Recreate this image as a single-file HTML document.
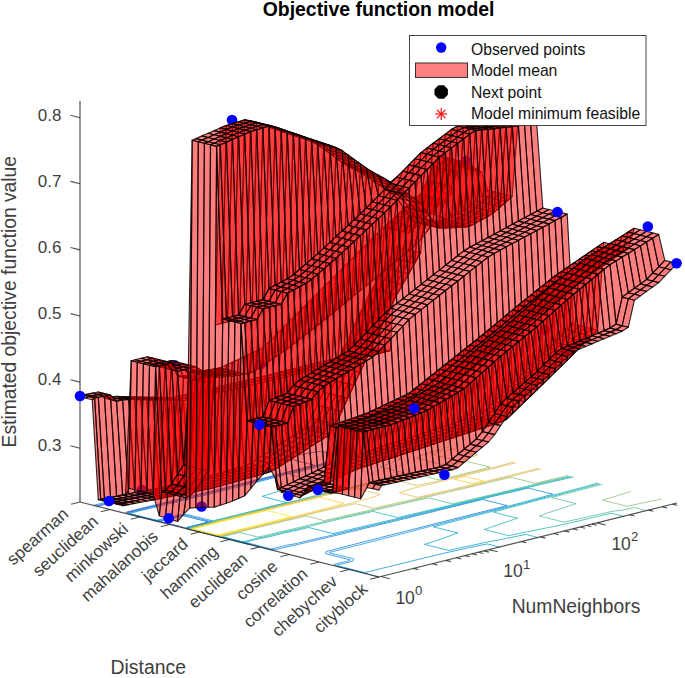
<!DOCTYPE html>
<html><head><meta charset="utf-8"><style>
html,body{margin:0;padding:0;background:#fff;}
svg{display:block;font-family:"Liberation Sans", sans-serif;}
</style></head><body>
<svg width="685" height="678" viewBox="0 0 685 678">
<rect width="685" height="678" fill="#fff"/>
<text x="378.6" y="15.6" text-anchor="middle" font-size="19.4" font-weight="bold" fill="#000">Objective function model</text>
<g id="contours" fill="none" stroke-width="0.9" stroke-opacity="0.85"><path d="M127.1,513.8L125.7,512.3L129.4,511.4L135.5,509.8L141.6,508.3L147.7,506.8L153.8,505.3L159.9,503.8L166.0,502.3L172.2,500.8L178.3,499.3L184.4,497.8L190.5,496.3L196.6,494.8L202.7,493.3L208.8,491.8L214.9,490.3L220.9,488.8L227.0,487.3L233.1,485.7L239.1,484.2L245.2,482.7L251.2,481.2L257.3,479.7L263.4,478.2L269.4,476.7L275.4,475.1L281.4,473.6L287.4,472.1L293.3,470.5L299.3,469.0L305.3,467.4L311.3,465.9L314.3,465.1L308.2,463.6L302.1,462.1L296.0,460.6L289.9,459.0L286.7,459.7L280.4,461.2L274.1,462.7L267.8,464.1L261.6,465.6L255.3,467.1L249.1,468.5L242.9,470.0L236.8,471.5L230.8,473.0L224.7,474.5L218.6,476.0L212.5,477.6L206.4,479.1L200.3,480.6L194.2,482.1L188.1,483.6L182.1,485.1L176.0,486.6L170.0,488.1L164.0,489.7L157.9,491.2L151.9,492.7L145.8,494.2L139.8,495.7L133.7,497.3L127.7,498.8L121.6,500.3L115.6,501.8L109.6,503.3L103.5,504.9L99.8,505.8L97.4,506.4" stroke="#353dac"/>
<path d="M189.3,529.4L184.8,527.8L179.2,526.1L173.0,524.6L166.9,523.1L160.8,521.5L154.8,520.8" stroke="#353dac"/>
<path d="M249.0,544.4L245.0,543.3L238.8,541.8L232.7,540.2L226.7,538.7L220.6,537.1L214.4,535.6L208.3,534.1L202.2,532.6L196.1,531.0L190.0,529.5L186.5,527.5L190.2,526.6L196.2,525.1L202.2,523.5L208.1,522.0L208.2,521.9L202.1,520.4L196.0,518.9L189.9,517.3L183.8,515.8L183.5,515.8L177.0,517.2L170.5,518.6L164.2,520.1L160.5,521.0L153.7,520.2L147.6,518.7L141.5,517.2L135.4,515.6L129.3,514.1L127.1,512.6L130.8,511.7L136.9,510.2L142.9,508.7L149.2,507.2L155.3,505.7L161.4,504.2L167.5,502.7L173.8,501.3L180.0,499.8L186.1,498.3L192.2,496.8L198.3,495.3L204.4,493.7L210.5,492.2L216.5,490.7L222.6,489.2L228.6,487.7L234.7,486.2L240.7,484.6L246.8,483.1L252.8,481.6L258.9,480.1L264.9,478.6L270.9,477.0L276.8,475.5L282.8,473.9L288.7,472.4L294.7,470.9L300.7,469.3L306.6,467.8L312.6,466.2L318.6,464.7L324.5,463.2L330.5,461.6L336.3,460.0L341.9,458.4L345.3,457.4L339.2,455.9L333.1,454.4L327.0,452.8L320.9,451.3L316.0,451.9L308.7,453.1L302.0,454.5L295.8,455.9L289.6,457.4L283.4,458.9L277.2,460.4L271.0,461.9L264.9,463.4L258.7,464.9L252.6,466.4L246.4,467.9L240.3,469.4L234.2,470.9L228.1,472.4L222.1,473.9L216.0,475.4L209.9,476.9L203.8,478.4L197.7,479.9L191.6,481.4L185.6,482.9L179.6,484.5L173.6,486.0L167.6,487.5L161.6,489.1L155.6,490.6L149.6,492.1L143.6,493.7L137.6,495.2L131.5,496.7L125.5,498.2L119.4,499.8L113.6,501.3L107.6,502.8L101.5,504.4L97.8,505.3L95.4,505.9" stroke="#0364e1"/>
<path d="M152.7,483.9L158.8,485.5L164.9,487.0L159.2,488.5L153.2,490.0L147.3,491.6L141.3,493.1L135.3,494.6L129.3,496.2L123.3,497.7L117.3,499.2L111.6,500.8L105.5,502.3L99.5,503.8L95.8,504.8L93.4,505.3" stroke="#117bd9"/>
<path d="M379.0,577.0L372.9,575.5L367.2,573.8L361.2,572.3L355.1,570.8L349.0,569.2L342.9,567.7L336.8,566.2L333.9,564.5L337.6,563.6L343.7,562.1L349.8,560.6L350.1,559.8L344.0,558.3L337.9,556.7L331.8,555.2L325.7,553.7L326.1,551.6L332.1,550.0L338.0,548.5L344.0,547.0L349.9,545.4L355.9,543.9L361.9,542.4L367.9,540.8L373.9,539.3L379.9,537.8L385.9,536.2L392.0,534.7L398.0,533.2L404.0,531.7L410.0,530.1L416.0,528.6L422.0,527.1L428.0,525.5L434.0,524.0L440.1,522.5L446.1,521.0L452.1,519.4L458.2,517.9L464.2,516.4L470.2,514.9L476.3,513.4L482.3,511.8L488.4,510.3L494.4,508.8L500.5,507.3L506.5,505.8L507.1,505.6L501.0,504.1L494.9,502.5L488.8,501.0L482.7,499.5L482.0,499.6L475.9,501.1L469.8,502.6L463.7,504.1L457.6,505.6L451.5,507.1L445.4,508.6L439.2,510.1L433.1,511.7L427.0,513.2L420.9,514.7L414.8,516.2L408.7,517.7L402.5,519.2L396.4,520.7L390.3,522.2L384.1,523.6L378.0,525.1L371.9,526.6L365.7,528.1L359.6,529.6L353.5,531.1L347.3,532.6L341.2,534.1L335.1,535.6L328.9,537.1L322.7,538.6L316.4,540.0L310.2,541.5L304.0,543.0L297.8,544.5L291.1,545.9L285.0,547.3L278.8,548.8L275.1,549.7L269.5,549.4L263.7,547.8L257.9,546.2L252.0,544.6L246.0,543.0L239.2,541.6L233.2,540.1L227.1,538.6L221.1,537.0L214.6,535.6L208.5,534.0L202.4,532.5L196.4,531.0L190.3,529.4L187.1,527.7L190.8,526.8L196.8,525.2L202.7,523.7L208.7,522.1L210.4,521.4L204.3,519.9L198.2,518.3L192.1,516.8L186.0,515.3L181.3,515.3L175.1,516.8L168.8,518.2L162.6,519.7L158.9,520.6L154.4,520.1L148.3,518.6L142.2,517.0L136.1,515.5L130.0,514.0L128.4,513.0L132.1,512.0L138.2,510.5L144.3,509.0L150.6,507.6L156.7,506.1L162.8,504.6L168.9,503.1L175.5,501.7L181.6,500.2L187.8,498.7L193.9,497.2L200.1,495.7L206.1,494.2L212.2,492.6L218.2,491.1L224.2,489.6L230.3,488.1L236.3,486.6L242.3,485.0L248.4,483.5L254.4,482.0L260.4,480.5L266.4,478.9L272.3,477.4L278.3,475.8L284.2,474.3L290.1,472.7L296.1,471.2L302.0,469.7L308.0,468.1L313.9,466.6L319.9,465.0L325.8,463.5L331.8,461.9L337.6,460.4L343.3,458.8L348.9,457.1L354.6,455.5L360.2,453.9L362.8,453.1L356.7,451.6L350.6,450.0L344.5,448.5L338.4,447.0L338.7,445.5L343.2,443.6L348.8,441.9L354.6,440.3L360.5,438.8L366.5,437.2L372.5,435.7L378.5,434.2L384.5,432.7L390.6,431.2" stroke="#117bd9"/>
<path d="M499.6,547.1L493.5,545.5L487.4,544.0L481.6,545.1L474.9,546.4L468.4,547.8L462.0,549.2L455.6,550.7L449.2,552.1L442.8,553.5L436.6,555.0L430.4,556.5L424.2,558.0L418.1,559.5L412.0,561.0L405.8,562.5L399.7,564.0L393.6,565.5L387.5,567.0L381.4,568.5L375.3,570.0L369.3,571.5L365.6,572.4L362.4,572.0L356.3,570.5L350.2,568.9L344.1,567.4L338.0,565.9L336.9,565.2L340.6,564.3L346.7,562.8L352.7,561.3L353.8,558.9L347.7,557.4L341.5,555.8L335.4,554.3L329.3,552.8L329.4,552.4L335.4,550.9L341.4,549.4L347.5,547.8L353.5,546.3L359.5,544.8L365.5,543.3L371.4,541.7L377.4,540.2L383.4,538.6L389.3,537.1L395.3,535.5L401.3,534.0L407.2,532.5L413.1,530.9L419.0,529.3L424.8,527.8L430.8,526.2L436.7,524.7L442.6,523.1L448.5,521.6L454.5,520.0L460.4,518.5L466.4,517.0L472.4,515.4L478.4,513.9L484.3,512.4L490.3,510.8L496.3,509.3L502.3,507.8L508.3,506.2L514.1,504.6L520.0,503.1L525.8,501.5L531.7,499.9L537.5,498.4L543.4,496.8L549.2,495.2L552.9,494.2L546.8,492.7L540.7,491.1L534.6,489.6L528.5,488.1L524.5,489.0L518.2,490.5L511.9,492.0L505.7,493.4L499.4,494.9L493.1,496.3L486.9,497.8L480.6,499.3L474.5,500.8L468.3,502.3L462.2,503.8L456.1,505.3L449.9,506.8L443.8,508.3L437.6,509.7L431.5,511.2L425.4,512.7L419.2,514.2L413.0,515.7L406.8,517.2L400.6,518.7L394.4,520.2L388.2,521.6L382.0,523.1L375.7,524.6L369.6,526.1L363.4,527.6L357.2,529.0L351.0,530.5L344.9,532.0L338.7,533.5L332.5,535.0L326.3,536.5L319.9,537.9L313.5,539.3L307.3,540.8L301.1,542.3L295.0,543.8L287.6,545.0L281.5,546.5L275.4,548.0L271.7,548.9L271.4,548.9L265.3,547.4L259.3,545.8L253.2,544.3L247.1,542.8L239.7,541.5L233.6,540.0L227.6,538.5L221.5,536.9L214.8,535.5L208.8,534.0L202.7,532.5L196.6,530.9L190.5,529.4L187.7,527.8L191.3,526.9L197.4,525.4L203.3,523.8L209.3,522.3L212.6,520.8L206.5,519.3L200.4,517.8L194.3,516.3L188.2,514.7L179.1,514.7L173.3,516.3L167.1,517.8L160.9,519.3L157.2,520.2L155.0,519.9L148.9,518.4L142.8,516.9L136.7,515.3L130.6,513.8L129.8,513.3L133.5,512.4L139.6,510.9L145.7,509.4L152.1,507.9L158.2,506.4L164.3,504.9L170.4,503.4L177.2,502.1L183.3,500.6L189.5,499.1L195.6,497.6L201.8,496.1L207.8,494.6L213.8,493.1L219.9,491.5L225.9,490.0L231.9,488.5L237.9,487.0L243.9,485.4L249.9,483.9L256.0,482.4L262.0,480.9L267.9,479.3L273.8,477.8L279.7,476.2L285.6,474.6L291.5,473.1L297.4,471.5L303.4,470.0L309.3,468.4L315.2,466.9L321.1,465.3L327.1,463.8L333.0,462.3L338.9,460.7L344.6,459.1L350.4,457.5L356.1,455.9L361.7,454.3L367.3,452.6L372.9,451.0L378.4,449.3L380.3,448.8L374.2,447.2L368.1,445.7L362.0,444.2L355.9,442.6L358.8,441.4L363.9,439.6L369.4,438.0L375.0,436.4L380.8,434.8L386.6,433.2L392.5,431.6" stroke="#0d92d2"/>
<path d="M573.3,477.0L566.9,478.4L560.6,479.9L554.3,481.3L548.0,482.8L541.7,484.2L535.5,485.7L529.2,487.2L522.9,488.6L516.7,490.1L510.4,491.6L504.2,493.0L498.0,494.5L491.7,496.0L485.5,497.5L479.2,498.9L473.1,500.4L466.9,501.9L460.7,503.4L454.6,504.9L448.4,506.4L442.2,507.9L436.1,509.3L429.9,510.8L423.7,512.3L417.5,513.8L411.3,515.3L405.0,516.7L398.7,518.2L392.5,519.7L386.1,521.1L379.8,522.6L373.5,524.0L367.3,525.5L361.1,527.0L354.8,528.4L348.6,529.9L342.4,531.4L336.1,532.9L333.1,533.6L327.0,532.1L320.9,530.5L314.8,529.0L308.7,527.5L305.5,528.2L299.3,529.7L292.9,531.1L286.4,532.5L280.3,534.0L274.1,535.5L268.0,537.0L261.0,538.3L254.9,539.8L248.9,541.3L245.2,542.2L240.2,541.4L234.1,539.9L228.0,538.4L221.9,536.8L215.1,535.5L209.0,533.9L202.9,532.4L196.8,530.9L190.7,529.3L188.2,528.0L191.9,527.0L197.9,525.5L203.9,524.0L209.9,522.4L214.4,520.5L220.5,519.0L226.6,517.5L232.7,516.0L238.8,514.5L244.9,513.0L251.0,511.5L257.0,510.0L263.1,508.5L269.1,506.9L275.1,505.4L281.1,503.9L286.4,502.5L280.3,501.0L274.2,499.5L268.1,497.9L262.0,496.4L262.6,496.2L268.1,494.5L273.5,492.9L279.1,491.2L284.7,489.6L290.4,488.0L295.8,486.3L301.1,484.6L306.4,482.9L311.7,481.2L313.7,480.5L307.6,479.0L301.5,477.5L295.4,475.9L289.3,474.4L292.9,473.4L298.8,471.9L304.7,470.3L310.6,468.8L316.5,467.2L322.4,465.7L328.3,464.1L334.3,462.6L340.1,461.0L346.0,459.4L351.8,457.8L357.5,456.3L363.3,454.7L369.0,453.1L374.6,451.4L380.2,449.8L385.8,448.2L391.2,446.5L396.6,444.8L398.7,444.2L392.6,442.6L386.5,441.1L380.4,439.6L374.3,438.1L377.6,437.0L383.1,435.4L388.7,433.7L394.4,432.1" stroke="#06a7c6"/>
<path d="M538.1,537.5L532.0,536.0L525.9,534.4L524.8,534.6L518.2,536.0L511.5,537.4L504.9,538.7L498.1,540.1L491.2,541.4L484.4,542.7L477.8,544.1L471.2,545.5L464.7,546.9L458.3,548.3L452.0,549.8L448.9,550.5L442.8,549.0L436.7,547.4L430.6,545.9L424.5,544.4L427.1,543.5L432.5,541.9L438.0,540.2L442.9,538.4L447.8,536.6L452.8,534.8L457.9,533.0L457.9,533.0L451.8,531.5L445.7,530.0L439.6,528.4L433.5,526.9L439.3,525.3L445.1,523.8L451.0,522.2L456.9,520.6L462.7,519.1L468.6,517.5L474.5,516.0L480.5,514.4L486.4,512.9L492.3,511.3L498.2,509.8L504.2,508.2L510.1,506.7L516.0,505.1L521.8,503.5L527.7,502.0L533.6,500.4L539.4,498.8L545.3,497.3L551.1,495.7L557.0,494.1L562.8,492.6L568.7,491.0L574.5,489.4L580.3,487.9L586.1,486.3L591.9,484.7L597.7,483.1" stroke="#06a7c6"/>
<path d="M571.4,476.5L565.1,478.0L558.8,479.4L552.6,480.9L546.3,482.4L540.1,483.8L533.8,485.3L527.6,486.8L521.4,488.3L515.2,489.7L508.9,491.2L502.7,492.7L496.5,494.2L490.3,495.6L484.1,497.1L477.9,498.6L471.7,500.1L465.5,501.5L459.3,503.0L453.1,504.5L446.9,506.0L440.7,507.5L434.5,508.9L428.2,510.4L422.0,511.9L415.8,513.4L409.5,514.8L403.2,516.3L397.6,517.6L391.5,516.0L385.3,514.5L379.2,513.0L373.1,511.4L372.4,511.6L366.0,513.0L359.6,514.5L353.3,515.9L346.9,517.3L340.7,518.8L334.4,520.3L328.2,521.8L321.9,523.2L315.7,524.7L309.4,526.2L303.2,527.6L297.0,529.1L290.7,530.6L284.1,531.9L278.0,533.4L271.9,534.9L265.8,536.5L258.9,537.8L252.8,539.3L246.8,540.8L243.1,541.7L240.6,541.3L234.5,539.8L228.4,538.2L222.3,536.7L215.3,535.4L209.2,533.9L203.1,532.4L197.0,530.8L190.9,529.3L188.8,528.1L192.5,527.2L198.5,525.7L204.5,524.1L210.5,522.6L215.2,520.7L221.3,519.2L227.4,517.7L233.5,516.2L239.6,514.7L245.7,513.2L251.8,511.7L257.8,510.2L263.9,508.7L269.9,507.1L276.0,505.6L282.0,504.1L288.0,502.6L294.1,501.1L300.1,499.5L306.1,498.0L312.1,496.5L318.1,494.9L324.1,493.4L330.1,491.9L336.0,490.3L342.0,488.8L346.9,487.5L340.8,486.0L334.7,484.5L328.5,482.9L322.4,481.4L323.4,481.1L328.8,479.4L334.1,477.7L339.3,476.0L344.5,474.2L349.6,472.5L354.6,470.7L357.6,469.6L351.5,468.1L345.4,466.6L339.3,465.0L333.2,463.5L335.5,462.9L341.4,461.3L347.3,459.8L353.2,458.2L359.0,456.6L364.8,455.1L370.6,453.5L376.4,451.9L382.1,450.3L387.8,448.7L393.4,447.0L399.0,445.4L404.5,443.8L410.0,442.1L415.4,440.4L420.7,438.7" stroke="#20b4ad"/>
<path d="M623.5,516.3L617.4,514.7L611.3,513.2L610.0,513.5L603.8,515.0L597.6,516.5L591.4,517.9L585.1,519.4L578.9,520.9L572.6,522.3L566.3,523.8L559.9,525.2L553.2,526.6L546.4,527.9L539.7,529.3L533.0,530.6L526.3,532.0L519.7,533.4L513.1,534.7L508.7,535.7L502.6,534.1L496.5,532.6L490.4,531.1L484.3,529.5L487.7,528.4L492.8,526.6L498.0,524.9L503.1,523.1L508.3,521.4L513.4,519.6L517.6,518.2L511.5,516.7L505.4,515.2L499.3,513.6L493.2,512.1L494.3,511.8L500.1,510.2L506.0,508.7L511.9,507.1L517.8,505.6L523.7,504.0L529.6,502.4L535.5,500.9L541.3,499.3L547.2,497.8L553.1,496.2L559.0,494.6L564.8,493.1L570.7,491.5L576.6,490.0L582.4,488.4L588.3,486.8L594.1,485.2L599.9,483.7" stroke="#20b4ad"/>
<path d="M569.5,476.0L563.3,477.5L557.1,479.0L550.9,480.5L544.6,481.9L538.4,483.4L532.2,484.9L526.0,486.4L519.8,487.9L513.6,489.3L507.5,490.8L501.3,492.3L495.1,493.8L488.9,495.3L482.7,496.8L476.5,498.2L470.2,499.7L464.0,501.2L457.8,502.7L452.8,503.8L446.7,502.3L440.6,500.8L434.5,499.3L428.4,497.7L427.2,498.0L420.9,499.5L414.6,500.9L408.3,502.4L402.0,503.8L395.7,505.3L389.4,506.8L383.1,508.2L376.7,509.6L370.3,511.1L363.9,512.5L357.6,513.9L351.2,515.4L344.8,516.8L338.6,518.3L332.3,519.7L326.0,521.2L319.7,522.7L313.4,524.1L307.1,525.6L300.9,527.1L294.7,528.5L288.5,530.0L281.8,531.4L275.7,532.9L269.6,534.4L263.5,535.9L257.8,537.0L251.7,535.5L245.6,534.0L239.5,532.5L238.5,532.7L232.5,534.2L226.4,535.7L222.7,536.6L215.5,535.4L209.4,533.8L203.3,532.3L197.2,530.8L191.1,529.2L189.3,528.2L193.0,527.3L199.1,525.8L205.1,524.3L211.1,522.7L216.0,520.9L222.1,519.4L228.2,517.9L234.3,516.4L240.4,514.9L246.5,513.4L252.6,511.9L258.7,510.4L264.7,508.9L270.8,507.4L276.9,505.8L282.9,504.3L289.0,502.8L295.0,501.3L301.1,499.8L307.1,498.3L313.2,496.7L319.2,495.2L325.3,493.7L331.3,492.2L337.4,490.7L343.4,489.1L349.4,487.6L355.4,486.1L361.4,484.6L367.4,483.0L373.4,481.5L379.4,480.0L385.3,478.4L391.2,476.9L397.1,475.3L402.9,473.7L404.9,473.1L398.8,471.6L392.7,470.0L386.6,468.5L380.5,467.0L383.7,465.8L388.6,464.0L393.1,462.1L397.6,460.2L401.6,458.7L395.5,457.2L389.4,455.6L383.3,454.1L377.2,452.6L378.1,452.3L384.0,450.7L389.8,449.2L395.6,447.6L401.3,446.0L407.0,444.4L412.7,442.8L418.2,441.1L423.8,439.5" stroke="#55bd8e"/>
<path d="M646.4,510.6L640.2,509.1L634.1,507.5L627.8,508.9L621.2,510.3L612.9,511.2L606.5,512.6L600.1,514.1L593.7,515.5L587.3,516.9L580.9,518.4L574.4,519.8L567.8,521.2L563.6,522.0L557.5,520.5L551.4,519.0L545.3,517.4L539.2,515.9L542.4,514.8L547.6,513.0L552.8,511.3L558.0,509.6L563.3,507.9L568.5,506.1L573.8,504.4L576.1,503.7L570.0,502.2L563.9,500.6L557.8,499.1L551.7,497.6L555.0,496.7L560.9,495.1L566.9,493.6L572.8,492.0L578.7,490.5L584.6,488.9L590.4,487.4L596.3,485.8L602.2,484.2" stroke="#55bd8e"/>
<path d="M567.7,475.6L561.5,477.1L555.3,478.5L549.1,480.0L542.9,481.5L536.8,483.0L535.3,483.4L529.2,481.8L523.1,480.3L517.0,478.8L510.9,477.2L506.2,478.4L500.0,479.9L493.8,481.3L487.6,482.8L481.5,484.3L475.3,485.8L469.1,487.3L462.9,488.8L456.6,490.2L450.3,491.7L444.1,493.1L437.8,494.6L431.5,496.1L425.2,497.5L418.9,499.0L412.6,500.4L406.3,501.9L399.9,503.3L393.6,504.8L387.3,506.2L380.9,507.7L374.5,509.1L368.2,510.5L361.8,512.0L355.5,513.4L349.1,514.9L342.8,516.3L336.4,517.8L330.1,519.2L324.2,520.6L318.1,519.0L312.0,517.5L305.9,516.0L305.5,516.1L299.2,517.5L293.0,519.0L286.8,520.5L280.7,522.0L274.5,523.5L268.4,525.0L262.0,526.4L255.9,527.9L249.8,529.4L243.7,530.9L237.4,532.4L231.3,533.9L225.2,535.4L221.5,536.3L215.7,535.3L209.6,533.8L203.5,532.2L197.4,530.7L191.3,529.2L189.9,528.4L193.6,527.5L199.6,525.9L205.6,524.4L211.6,522.9L216.8,521.1L222.9,519.6L229.0,518.1L235.1,516.6L241.2,515.1L247.3,513.6L253.4,512.1L259.5,510.6L265.6,509.1L271.7,507.6L277.7,506.1L283.8,504.6L289.9,503.0L296.0,501.5L302.1,500.0L308.2,498.5L314.3,497.0L320.4,495.5L326.5,494.0L332.6,492.5L338.7,491.0L344.8,489.5L350.9,488.0L357.1,486.5L363.2,485.0L369.3,483.5L375.5,482.0L381.7,480.5L387.9,479.0L394.1,477.6L400.7,476.2L407.7,474.9L414.6,473.7L420.7,475.3L426.8,476.8L432.9,478.3L439.0,479.9L439.3,479.8L445.4,478.3L451.6,476.8L457.8,475.3L463.9,473.8L470.0,472.3L476.0,470.8L482.0,469.3L488.0,467.7L490.2,467.2L484.0,465.6L477.9,464.1L471.8,462.6L465.7,461.0L463.4,461.6L456.8,462.9L449.5,464.1L440.7,464.2L434.6,462.7L428.5,461.2L422.4,459.6L416.3,458.1L419.1,456.5L423.7,454.6L428.8,452.9L434.3,451.2L440.1,449.6L445.8,448.0L451.2,446.4" stroke="#91bf73"/>
<path d="M661.7,499.2L654.8,500.5L648.0,501.8L641.4,503.2L634.9,504.6L628.4,506.0L627.0,506.3L620.9,504.7L614.8,503.2L608.7,501.7L602.6,500.2L603.8,499.8L609.3,498.1L614.7,496.5L620.2,494.8L625.6,493.1L631.0,491.5" stroke="#91bf73"/>
<path d="M431.8,454.2L432.7,453.9L437.9,452.1L444.3,450.7L451.0,449.3L453.2,448.9L459.3,450.4L465.4,452.0L471.5,453.5L477.6,455.0L476.0,455.6L470.7,457.3L465.1,459.0L457.8,460.2L456.2,460.4L450.1,458.8L444.0,457.3L437.9,455.8L431.8,454.2" stroke="#c2bc5f"/>
<path d="M541.0,468.9L534.9,470.4L528.7,471.9L522.6,473.4L516.4,474.9L510.3,476.4L504.1,477.9L498.0,479.3L491.9,480.8L485.7,482.3L479.6,483.8L473.4,485.3L467.2,486.8L461.0,488.3L454.7,489.7L448.5,491.2L442.2,492.7L435.9,494.1L429.6,495.6L423.2,497.0L416.9,498.5L410.6,499.9L404.2,501.4L397.8,502.8L391.5,504.2L385.1,505.7L378.8,507.1L373.6,508.3L367.5,506.8L361.4,505.2L355.3,503.7L354.1,504.0L347.6,505.4L341.3,506.8L335.0,508.3L328.7,509.7L322.5,511.2L316.3,512.7L310.1,514.2L303.9,515.7L297.7,517.2L291.6,518.6L285.5,520.1L279.4,521.7L273.3,523.2L267.1,524.7L260.8,526.1L254.7,527.6L248.6,529.1L242.5,530.6L236.2,532.1L230.1,533.6L224.0,535.1L220.3,536.0L215.9,535.3L209.8,533.7L203.7,532.2L197.6,530.7L191.5,529.1L190.5,528.5L194.1,527.6L200.2,526.1L206.2,524.6L212.2,523.0L217.6,521.3L223.7,519.8L229.8,518.3L235.9,516.8L241.9,515.3L248.1,513.8L254.2,512.3L260.3,510.8L266.4,509.3L272.5,507.8L278.6,506.3L284.7,504.8L290.9,503.3L297.0,501.8L303.1,500.3L309.2,498.8L315.3,497.3L321.5,495.8L327.7,494.3L333.9,492.8L340.1,491.3L346.3,489.9L352.5,488.4L358.7,486.9L364.9,485.4L371.2,484.0L377.5,482.5L383.9,481.1L390.4,479.7L392.3,479.3L398.4,480.8L404.5,482.3L410.6,483.9L416.7,485.4L421.5,484.4L428.4,483.1L435.0,481.8L441.4,480.3L447.5,478.8L453.6,477.3L459.7,475.8L465.9,474.3L472.0,472.8L478.0,471.3L484.0,469.8L490.1,468.3L496.1,466.7L502.0,465.2L507.9,463.6L513.8,462.1" stroke="#c2bc5f"/>
<path d="M191.8,529.1L191.0,528.7L194.7,527.7L200.8,526.2L206.8,524.7L212.8,523.2L218.4,521.5L224.5,520.0L230.6,518.5L236.6,517.0L242.7,515.5L248.8,514.0L255.0,512.5L261.1,511.0L267.3,509.5L273.4,508.0L279.5,506.5L285.7,505.0L291.8,503.5L297.9,502.0L304.1,500.5L310.2,499.0L316.4,497.5L322.6,496.1L328.9,494.6L335.1,493.1L341.4,491.7L347.7,490.2L354.0,488.8L355.9,488.3L362.0,489.9L368.1,491.4L374.2,492.9L380.3,494.4L379.1,495.1L374.1,496.8L368.5,498.5L362.7,500.1L356.8,501.6L350.9,503.2L344.9,504.7L338.8,506.2L332.7,507.7L326.6,509.2L320.6,510.7L314.5,512.2L308.4,513.8L302.3,515.3L296.2,516.8L290.2,518.3L284.1,519.8L278.1,521.3L272.0,522.8L265.9,524.3L259.6,525.8L253.5,527.3L247.4,528.8L241.3,530.3L235.1,531.8L229.0,533.3L222.9,534.8L219.1,535.7L216.2,535.2L210.1,533.7L204.0,532.1L197.9,530.6L191.8,529.1" stroke="#edb94c"/>
<path d="M538.6,468.3L532.5,469.8L526.4,471.3L520.3,472.8L514.2,474.3L508.2,475.8L502.1,477.3L496.0,478.8L489.9,480.4L483.8,481.9L477.8,483.4L471.6,484.9L465.3,486.3L459.1,487.8L452.8,489.3L446.6,490.7L440.3,492.2L434.0,493.6L427.6,495.1L421.3,496.5L417.7,497.3L411.6,495.8L405.5,494.3L399.4,492.8L401.8,491.7L407.2,490.0L413.0,488.4L418.9,486.8L425.0,485.3L431.2,483.9L437.4,482.4L443.5,480.9L449.5,479.3L455.5,477.8L461.7,476.3L467.8,474.8L473.9,473.3L480.0,471.8L486.1,470.3L492.2,468.8L498.2,467.3L504.3,465.7L510.3,464.2L516.3,462.7" stroke="#edb94c"/>
<path d="M192.0,529.0L191.6,528.8L195.3,527.9L201.3,526.4L207.4,524.8L213.4,523.3L219.2,521.7L225.3,520.2L231.4,518.7L237.4,517.2L243.5,515.7L249.6,514.2L255.8,512.7L261.9,511.2L268.1,509.7L274.2,508.2L280.4,506.7L286.6,505.2L292.7,503.8L298.9,502.3L305.1,500.8L311.3,499.3L317.5,497.8L319.7,497.3L325.8,498.8L331.9,500.4L338.0,501.9L344.1,503.4L342.1,504.0L336.4,505.6L330.5,507.2L324.6,508.7L318.6,510.3L312.7,511.8L306.7,513.3L300.7,514.9L294.7,516.4L288.7,517.9L282.7,519.5L276.7,521.0L270.7,522.5L264.6,524.0L258.4,525.5L252.3,527.0L246.2,528.5L240.1,530.0L233.9,531.5L227.8,533.0L221.7,534.5L218.0,535.4L216.4,535.1L210.3,533.6L204.2,532.1L198.1,530.6L192.0,529.0" stroke="#fccd2f"/>
<path d="M454.2,479.1L457.5,478.3L463.6,476.8L465.1,476.4L471.2,477.9L477.3,479.5L483.4,481.0L481.9,481.4L475.9,482.9L472.5,483.7L466.4,482.2L460.3,480.7L454.2,479.1" stroke="#fccd2f"/>
<path d="M192.2,529.0L192.1,528.9L195.8,528.0L201.9,526.5L208.0,525.0L214.0,523.5L220.0,521.9L226.1,520.4L232.1,518.9L238.2,517.4L244.3,515.9L250.4,514.4L256.6,512.9L262.8,511.4L266.7,510.5L272.8,512.0L278.9,513.5L285.0,515.1L291.1,516.6L287.3,517.6L281.4,519.1L275.4,520.7L269.4,522.2L263.3,523.7L257.2,525.2L251.1,526.7L245.0,528.2L238.9,529.7L232.8,531.2L226.6,532.7L220.5,534.2L216.8,535.1L216.6,535.1L210.5,533.6L204.4,532.0L198.3,530.5L192.2,529.0" stroke="#f5ec18"/></g>
<g id="axes"><line x1="80" y1="101" x2="80" y2="502" stroke="#262626" stroke-width="1.2" stroke-opacity="0.8"/>
<line x1="80" y1="448.2" x2="70.5" y2="445.8" stroke="#262626" stroke-width="1.1" stroke-opacity="0.8"/>
<text x="61.5" y="451.2" text-anchor="end" font-size="17" fill="#404040">0.3</text>
<line x1="80" y1="382.1" x2="70.5" y2="379.7" stroke="#262626" stroke-width="1.1" stroke-opacity="0.8"/>
<text x="61.5" y="385.1" text-anchor="end" font-size="17" fill="#404040">0.4</text>
<line x1="80" y1="316.0" x2="70.5" y2="313.6" stroke="#262626" stroke-width="1.1" stroke-opacity="0.8"/>
<text x="61.5" y="319.0" text-anchor="end" font-size="17" fill="#404040">0.5</text>
<line x1="80" y1="249.9" x2="70.5" y2="247.5" stroke="#262626" stroke-width="1.1" stroke-opacity="0.8"/>
<text x="61.5" y="252.9" text-anchor="end" font-size="17" fill="#404040">0.6</text>
<line x1="80" y1="183.8" x2="70.5" y2="181.4" stroke="#262626" stroke-width="1.1" stroke-opacity="0.8"/>
<text x="61.5" y="186.8" text-anchor="end" font-size="17" fill="#404040">0.7</text>
<line x1="80" y1="117.7" x2="70.5" y2="115.3" stroke="#262626" stroke-width="1.1" stroke-opacity="0.8"/>
<text x="61.5" y="120.7" text-anchor="end" font-size="17" fill="#404040">0.8</text>
<line x1="80" y1="502" x2="379" y2="577" stroke="#262626" stroke-width="1.2" stroke-opacity="0.8"/>
<line x1="80.0" y1="502.0" x2="71.0" y2="504.2" stroke="#262626" stroke-width="1.1" stroke-opacity="0.8"/>
<text x="69.5" y="515.5" text-anchor="end" font-size="17" fill="#404040" transform="rotate(-42 69.5 515.5)">spearman</text>
<line x1="109.9" y1="509.5" x2="100.9" y2="511.7" stroke="#262626" stroke-width="1.1" stroke-opacity="0.8"/>
<text x="99.4" y="523.0" text-anchor="end" font-size="17" fill="#404040" transform="rotate(-42 99.4 523.0)">seuclidean</text>
<line x1="139.8" y1="517.0" x2="130.8" y2="519.2" stroke="#262626" stroke-width="1.1" stroke-opacity="0.8"/>
<text x="129.3" y="530.5" text-anchor="end" font-size="17" fill="#404040" transform="rotate(-42 129.3 530.5)">minkowski</text>
<line x1="169.7" y1="524.5" x2="160.7" y2="526.7" stroke="#262626" stroke-width="1.1" stroke-opacity="0.8"/>
<text x="159.2" y="538.0" text-anchor="end" font-size="17" fill="#404040" transform="rotate(-42 159.2 538.0)">mahalanobis</text>
<line x1="199.6" y1="532.0" x2="190.6" y2="534.2" stroke="#262626" stroke-width="1.1" stroke-opacity="0.8"/>
<text x="189.1" y="545.5" text-anchor="end" font-size="17" fill="#404040" transform="rotate(-42 189.1 545.5)">jaccard</text>
<line x1="229.5" y1="539.5" x2="220.5" y2="541.7" stroke="#262626" stroke-width="1.1" stroke-opacity="0.8"/>
<text x="219.0" y="553.0" text-anchor="end" font-size="17" fill="#404040" transform="rotate(-42 219.0 553.0)">hamming</text>
<line x1="259.4" y1="547.0" x2="250.4" y2="549.2" stroke="#262626" stroke-width="1.1" stroke-opacity="0.8"/>
<text x="248.9" y="560.5" text-anchor="end" font-size="17" fill="#404040" transform="rotate(-42 248.9 560.5)">euclidean</text>
<line x1="289.3" y1="554.5" x2="280.3" y2="556.7" stroke="#262626" stroke-width="1.1" stroke-opacity="0.8"/>
<text x="278.8" y="568.0" text-anchor="end" font-size="17" fill="#404040" transform="rotate(-42 278.8 568.0)">cosine</text>
<line x1="319.2" y1="562.0" x2="310.2" y2="564.2" stroke="#262626" stroke-width="1.1" stroke-opacity="0.8"/>
<text x="308.7" y="575.5" text-anchor="end" font-size="17" fill="#404040" transform="rotate(-42 308.7 575.5)">correlation</text>
<line x1="349.1" y1="569.5" x2="340.1" y2="571.7" stroke="#262626" stroke-width="1.1" stroke-opacity="0.8"/>
<text x="338.6" y="583.0" text-anchor="end" font-size="17" fill="#404040" transform="rotate(-42 338.6 583.0)">chebychev</text>
<line x1="379.0" y1="577.0" x2="370.0" y2="579.2" stroke="#262626" stroke-width="1.1" stroke-opacity="0.8"/>
<text x="368.5" y="590.5" text-anchor="end" font-size="17" fill="#404040" transform="rotate(-42 368.5 590.5)">cityblock</text>
<line x1="379" y1="577" x2="677" y2="503" stroke="#262626" stroke-width="1.2" stroke-opacity="0.8"/>
<line x1="381.0" y1="576.5" x2="389.7" y2="578.7" stroke="#262626" stroke-width="1.1" stroke-opacity="0.8"/>
<line x1="413.5" y1="568.4" x2="418.4" y2="569.6" stroke="#262626" stroke-width="1.1" stroke-opacity="0.8"/>
<line x1="432.5" y1="563.7" x2="437.4" y2="564.9" stroke="#262626" stroke-width="1.1" stroke-opacity="0.8"/>
<line x1="446.0" y1="560.4" x2="450.9" y2="561.6" stroke="#262626" stroke-width="1.1" stroke-opacity="0.8"/>
<line x1="456.5" y1="557.8" x2="461.3" y2="559.0" stroke="#262626" stroke-width="1.1" stroke-opacity="0.8"/>
<line x1="465.0" y1="555.6" x2="469.9" y2="556.8" stroke="#262626" stroke-width="1.1" stroke-opacity="0.8"/>
<line x1="472.3" y1="553.8" x2="477.1" y2="555.0" stroke="#262626" stroke-width="1.1" stroke-opacity="0.8"/>
<line x1="478.5" y1="552.3" x2="483.4" y2="553.5" stroke="#262626" stroke-width="1.1" stroke-opacity="0.8"/>
<line x1="484.1" y1="550.9" x2="488.9" y2="552.1" stroke="#262626" stroke-width="1.1" stroke-opacity="0.8"/>
<line x1="489.0" y1="549.7" x2="497.7" y2="551.8" stroke="#262626" stroke-width="1.1" stroke-opacity="0.8"/>
<line x1="521.5" y1="541.6" x2="526.4" y2="542.8" stroke="#262626" stroke-width="1.1" stroke-opacity="0.8"/>
<line x1="540.5" y1="536.9" x2="545.4" y2="538.1" stroke="#262626" stroke-width="1.1" stroke-opacity="0.8"/>
<line x1="554.0" y1="533.5" x2="558.9" y2="534.7" stroke="#262626" stroke-width="1.1" stroke-opacity="0.8"/>
<line x1="564.5" y1="530.9" x2="569.3" y2="532.1" stroke="#262626" stroke-width="1.1" stroke-opacity="0.8"/>
<line x1="573.0" y1="528.8" x2="577.9" y2="530.0" stroke="#262626" stroke-width="1.1" stroke-opacity="0.8"/>
<line x1="580.3" y1="527.0" x2="585.1" y2="528.2" stroke="#262626" stroke-width="1.1" stroke-opacity="0.8"/>
<line x1="586.5" y1="525.5" x2="591.4" y2="526.7" stroke="#262626" stroke-width="1.1" stroke-opacity="0.8"/>
<line x1="592.1" y1="524.1" x2="596.9" y2="525.3" stroke="#262626" stroke-width="1.1" stroke-opacity="0.8"/>
<line x1="597.0" y1="522.9" x2="605.7" y2="525.0" stroke="#262626" stroke-width="1.1" stroke-opacity="0.8"/>
<line x1="629.5" y1="514.8" x2="634.4" y2="516.0" stroke="#262626" stroke-width="1.1" stroke-opacity="0.8"/>
<line x1="648.5" y1="510.1" x2="653.4" y2="511.3" stroke="#262626" stroke-width="1.1" stroke-opacity="0.8"/>
<line x1="662.0" y1="506.7" x2="666.9" y2="507.9" stroke="#262626" stroke-width="1.1" stroke-opacity="0.8"/>
<line x1="672.5" y1="504.1" x2="677.3" y2="505.3" stroke="#262626" stroke-width="1.1" stroke-opacity="0.8"/>
<text x="395.4" y="603.8" font-size="17.5" fill="#404040">10</text>
<text x="415.0" y="595.1999999999999" font-size="13.2" fill="#404040">0</text>
<text x="503.3" y="577.2" font-size="17.5" fill="#404040">10</text>
<text x="522.9" y="568.6" font-size="13.2" fill="#404040">1</text>
<text x="611.4" y="549.8" font-size="17.5" fill="#404040">10</text>
<text x="631.0" y="541.1999999999999" font-size="13.2" fill="#404040">2</text>
<text x="148.3" y="673.6" text-anchor="middle" font-size="19.4" fill="#404040">Distance</text>
<text x="576" y="613.2" text-anchor="middle" font-size="19.3" fill="#404040">NumNeighbors</text>
<text x="0" y="0" text-anchor="middle" font-size="19.3" fill="#404040" transform="translate(16.2 301.7) rotate(-90)">Estimated objective function value</text></g>
<g id="hid"><circle cx="232" cy="120" r="5.3" fill="#0000ff"/><circle cx="174.8" cy="365.4" r="5.3" fill="#0000ff"/><circle cx="142" cy="490" r="5.3" fill="#0000ff"/><circle cx="201.5" cy="506.5" r="5.3" fill="#0000ff"/><circle cx="261" cy="364" r="5.3" fill="#0000ff"/><circle cx="313" cy="430" r="5.3" fill="#0000ff"/><circle cx="466" cy="161" r="5.3" fill="#0000ff"/><circle cx="545" cy="330" r="5.3" fill="#0000ff"/><circle cx="568" cy="351" r="5.3" fill="#0000ff"/></g>
<g id="surf" fill="#ff0000" fill-opacity="0.5" stroke="#000" stroke-width="1.15" stroke-opacity="0.82" stroke-linejoin="round">
<path d="M371.9,349.3L378.0,350.8L384.1,349.3L378.0,347.8Z"/>
<path d="M365.8,350.8L371.9,352.3L378.0,350.8L371.9,349.3Z"/>
<path d="M378.0,350.8L384.1,352.3L390.2,350.8L384.1,349.3Z"/>
<path d="M359.8,352.3L365.9,353.8L371.9,352.3L365.8,350.8Z"/>
<path d="M371.9,352.3L378.0,353.8L384.1,352.3L378.0,350.8Z"/>
<path d="M353.7,353.8L359.8,355.3L365.9,353.8L359.8,352.3Z"/>
<path d="M365.9,353.8L372.0,355.3L378.0,353.8L371.9,352.3Z"/>
<path d="M347.6,355.3L353.7,356.8L359.8,355.3L353.7,353.8Z"/>
<path d="M359.8,355.3L365.9,356.9L372.0,355.3L365.9,353.8Z"/>
<path d="M384.1,352.3L390.2,257.2L396.3,246.6L390.2,350.8Z"/>
<path d="M341.5,356.8L347.6,358.3L353.7,356.8L347.6,355.3Z"/>
<path d="M353.7,356.8L359.8,358.4L365.9,356.9L359.8,355.3Z"/>
<path d="M378.0,353.8L384.1,267.9L390.2,257.2L384.1,352.3Z"/>
<path d="M372.0,355.3L378.1,278.5L384.1,267.9L378.0,353.8Z"/>
<path d="M335.4,358.3L341.5,359.9L347.6,358.3L341.5,356.8Z"/>
<path d="M347.6,358.3L353.7,359.9L359.8,358.4L353.7,356.8Z"/>
<path d="M365.9,356.9L372.0,289.2L378.1,278.5L372.0,355.3Z"/>
<path d="M329.3,359.8L335.4,361.4L341.5,359.9L335.4,358.3Z"/>
<path d="M341.5,359.9L347.6,361.4L353.7,359.9L347.6,358.3Z"/>
<path d="M359.8,358.4L365.9,301.2L372.0,289.2L365.9,356.9Z"/>
<path d="M390.2,257.2L396.3,258.8L402.4,248.1L396.3,246.6Z"/>
<path d="M323.3,361.3L329.4,362.9L335.4,361.4L329.3,359.8Z"/>
<path d="M335.4,361.4L341.6,362.9L347.6,361.4L341.5,359.9Z"/>
<path d="M384.1,267.9L390.2,269.4L396.3,258.8L390.2,257.2Z"/>
<path d="M353.7,359.9L359.8,314.3L365.9,301.2L359.8,358.4Z"/>
<path d="M396.3,258.8L402.4,260.3L408.5,249.6L402.4,248.1Z"/>
<path d="M378.1,278.5L384.2,280.1L390.2,269.4L384.1,267.9Z"/>
<path d="M347.6,361.4L353.7,327.3L359.8,314.3L353.7,359.9Z"/>
<path d="M317.2,362.9L323.3,364.4L329.4,362.9L323.3,361.3Z"/>
<path d="M329.4,362.9L335.5,364.4L341.6,362.9L335.4,361.4Z"/>
<path d="M390.2,269.4L396.3,271.0L402.4,260.3L396.3,258.8Z"/>
<path d="M372.0,289.2L378.1,290.7L384.2,280.1L378.1,278.5Z"/>
<path d="M402.4,260.3L408.5,261.8L414.6,251.2L408.5,249.6Z"/>
<path d="M341.6,362.9L347.7,340.3L353.7,327.3L347.6,361.4Z"/>
<path d="M384.2,280.1L390.3,281.6L396.3,271.0L390.2,269.4Z"/>
<path d="M365.9,301.2L372.0,302.8L378.1,290.7L372.0,289.2Z"/>
<path d="M311.1,364.4L317.2,365.9L323.3,364.4L317.2,362.9Z"/>
<path d="M323.3,364.4L329.4,365.9L335.5,364.4L329.4,362.9Z"/>
<path d="M396.3,271.0L402.4,272.5L408.5,261.8L402.4,260.3Z"/>
<path d="M378.1,290.7L384.2,292.3L390.3,281.6L384.2,280.1Z"/>
<path d="M359.8,314.3L365.9,315.8L372.0,302.8L365.9,301.2Z"/>
<path d="M335.5,364.4L341.6,353.3L347.7,340.3L341.6,362.9Z"/>
<path d="M408.5,261.8L414.6,263.4L420.7,252.7L414.6,251.2Z"/>
<path d="M390.3,281.6L396.4,283.1L402.4,272.5L396.3,271.0Z"/>
<path d="M353.7,327.3L359.8,328.8L365.9,315.8L359.8,314.3Z"/>
<path d="M372.0,302.8L378.1,304.3L384.2,292.3L378.1,290.7Z"/>
<path d="M305.0,365.9L311.1,367.4L317.2,365.9L311.1,364.4Z"/>
<path d="M317.2,365.9L323.3,367.4L329.4,365.9L323.3,364.4Z"/>
<path d="M402.4,272.5L408.6,274.0L414.6,263.4L408.5,261.8Z"/>
<path d="M329.4,365.9L335.5,366.3L341.6,353.3L335.5,364.4Z"/>
<path d="M384.2,292.3L390.3,293.8L396.4,283.1L390.3,281.6Z"/>
<path d="M347.7,340.3L353.8,341.8L359.8,328.8L353.7,327.3Z"/>
<path d="M365.9,315.8L372.0,317.3L378.1,304.3L372.0,302.8Z"/>
<path d="M396.4,283.1L402.5,284.7L408.6,274.0L402.4,272.5Z"/>
<path d="M341.6,353.3L347.7,354.8L353.8,341.8L347.7,340.3Z"/>
<path d="M359.8,328.8L365.9,330.3L372.0,317.3L365.9,315.8Z"/>
<path d="M378.1,304.3L384.2,305.8L390.3,293.8L384.2,292.3Z"/>
<path d="M323.3,367.4L329.4,379.3L335.5,366.3L329.4,365.9Z"/>
<path d="M298.9,367.4L305.0,368.9L311.1,367.4L305.0,365.9Z"/>
<path d="M311.1,367.4L317.2,368.9L323.3,367.4L317.2,365.9Z"/>
<path d="M390.3,293.8L396.4,295.3L402.5,284.7L396.4,283.1Z"/>
<path d="M335.5,366.3L341.6,367.8L347.7,354.8L341.6,353.3Z"/>
<path d="M353.8,341.8L359.9,343.3L365.9,330.3L359.8,328.8Z"/>
<path d="M372.0,317.3L378.1,318.8L384.2,305.8L378.1,304.3Z"/>
<path d="M317.2,368.9L323.3,392.3L329.4,379.3L323.3,367.4Z"/>
<path d="M329.4,379.3L335.5,380.8L341.6,367.8L335.5,366.3Z"/>
<path d="M347.7,354.8L353.8,356.3L359.9,343.3L353.8,341.8Z"/>
<path d="M365.9,330.3L372.0,331.9L378.1,318.8L372.0,317.3Z"/>
<path d="M384.2,305.8L390.3,307.4L396.4,295.3L390.3,293.8Z"/>
<path d="M292.9,368.9L299.0,370.4L305.0,368.9L298.9,367.4Z"/>
<path d="M305.0,368.9L311.1,370.4L317.2,368.9L311.1,367.4Z"/>
<path d="M414.6,263.4L420.7,193.7L426.8,188.1L420.7,252.7Z"/>
<path d="M323.3,392.3L329.4,393.8L335.5,380.8L329.4,379.3Z"/>
<path d="M341.6,367.8L347.7,369.3L353.8,356.3L347.7,354.8Z"/>
<path d="M359.9,343.3L366.0,344.9L372.0,331.9L365.9,330.3Z"/>
<path d="M378.1,318.8L384.2,320.4L390.3,307.4L384.2,305.8Z"/>
<path d="M311.1,370.4L317.2,405.3L323.3,392.3L317.2,368.9Z"/>
<path d="M408.6,274.0L414.7,199.2L420.7,193.7L414.6,263.4Z"/>
<path d="M317.2,405.3L323.3,406.8L329.4,393.8L323.3,392.3Z"/>
<path d="M335.5,380.8L341.6,382.4L347.7,369.3L341.6,367.8Z"/>
<path d="M353.8,356.3L359.9,357.9L366.0,344.9L359.9,343.3Z"/>
<path d="M372.0,331.9L378.1,333.4L384.2,320.4L378.1,318.8Z"/>
<path d="M286.8,370.4L292.9,371.9L299.0,370.4L292.9,368.9Z"/>
<path d="M299.0,370.4L305.1,372.0L311.1,370.4L305.0,368.9Z"/>
<path d="M305.1,372.0L311.2,418.3L317.2,405.3L311.1,370.4Z"/>
<path d="M311.2,418.3L317.3,419.9L323.3,406.8L317.2,405.3Z"/>
<path d="M329.4,393.8L335.5,395.4L341.6,382.4L335.5,380.8Z"/>
<path d="M347.7,369.3L353.8,370.9L359.9,357.9L353.8,356.3Z"/>
<path d="M366.0,344.9L372.1,346.4L378.1,333.4L372.0,331.9Z"/>
<path d="M402.5,284.7L408.6,204.8L414.7,199.2L408.6,274.0Z"/>
<path d="M323.3,406.8L329.4,408.4L335.5,395.4L329.4,393.8Z"/>
<path d="M341.6,382.4L347.7,383.9L353.8,370.9L347.7,369.3Z"/>
<path d="M305.1,428.6L311.2,430.1L317.3,419.9L311.2,418.3Z"/>
<path d="M359.9,357.9L366.0,359.4L372.1,346.4L366.0,344.9Z"/>
<path d="M299.0,373.5L305.1,428.6L311.2,418.3L305.1,372.0Z"/>
<path d="M280.7,371.9L286.8,373.4L292.9,371.9L286.8,370.4Z"/>
<path d="M292.9,371.9L299.0,373.5L305.1,372.0L299.0,370.4Z"/>
<path d="M396.4,295.3L402.5,210.3L408.6,204.8L402.5,284.7Z"/>
<path d="M317.3,419.9L323.4,421.4L329.4,408.4L323.3,406.8Z"/>
<path d="M335.5,395.4L341.6,396.9L347.7,383.9L341.6,382.4Z"/>
<path d="M353.8,370.9L359.9,372.4L366.0,359.4L359.9,357.9Z"/>
<path d="M299.0,432.5L305.1,434.0L311.2,430.1L305.1,428.6Z"/>
<path d="M420.7,193.7L426.8,195.2L432.9,189.7L426.8,188.1Z"/>
<path d="M329.4,408.4L335.6,409.9L341.6,396.9L335.5,395.4Z"/>
<path d="M292.9,375.0L299.0,432.5L305.1,428.6L299.0,373.5Z"/>
<path d="M347.7,383.9L353.8,385.4L359.9,372.4L353.8,370.9Z"/>
<path d="M311.2,430.1L317.3,431.6L323.4,421.4L317.3,419.9Z"/>
<path d="M390.3,307.4L396.4,215.9L402.5,210.3L396.4,295.3Z"/>
<path d="M274.6,373.4L280.7,375.0L286.8,373.4L280.7,371.9Z"/>
<path d="M286.8,373.4L292.9,375.0L299.0,373.5L292.9,371.9Z"/>
<path d="M323.4,421.4L329.5,422.9L335.6,409.9L329.4,408.4Z"/>
<path d="M341.6,396.9L347.7,398.4L353.8,385.4L347.7,383.9Z"/>
<path d="M414.7,199.2L420.8,200.8L426.8,195.2L420.7,193.7Z"/>
<path d="M292.9,436.3L299.0,437.9L305.1,434.0L299.0,432.5Z"/>
<path d="M384.2,320.4L390.3,221.4L396.4,215.9L390.3,307.4Z"/>
<path d="M305.1,434.0L311.2,435.5L317.3,431.6L311.2,430.1Z"/>
<path d="M426.8,195.2L432.9,196.7L439.0,191.2L432.9,189.7Z"/>
<path d="M286.8,376.5L292.9,436.3L299.0,432.5L292.9,375.0Z"/>
<path d="M335.6,409.9L341.7,411.4L347.7,398.4L341.6,396.9Z"/>
<path d="M317.3,431.6L323.4,433.2L329.5,422.9L323.4,421.4Z"/>
<path d="M268.5,374.9L274.6,376.5L280.7,375.0L274.6,373.4Z"/>
<path d="M280.7,375.0L286.8,376.5L292.9,375.0L286.8,373.4Z"/>
<path d="M378.1,333.4L384.2,227.0L390.3,221.4L384.2,320.4Z"/>
<path d="M408.6,204.8L414.7,206.3L420.8,200.8L414.7,199.2Z"/>
<path d="M329.5,422.9L335.6,424.4L341.7,411.4L335.6,409.9Z"/>
<path d="M286.8,440.2L292.9,441.7L299.0,437.9L292.9,436.3Z"/>
<path d="M420.8,200.8L426.9,202.3L432.9,196.7L426.8,195.2Z"/>
<path d="M299.0,437.9L305.1,439.4L311.2,435.5L305.1,434.0Z"/>
<path d="M311.2,435.5L317.3,437.1L323.4,433.2L317.3,431.6Z"/>
<path d="M432.9,196.7L439.0,198.3L445.1,192.7L439.0,191.2Z"/>
<path d="M280.7,378.0L286.8,440.2L292.9,436.3L286.8,376.5Z"/>
<path d="M323.4,433.2L329.5,434.7L335.6,424.4L329.5,422.9Z"/>
<path d="M372.1,346.4L378.2,232.5L384.2,227.0L378.1,333.4Z"/>
<path d="M262.4,376.4L268.6,378.0L274.6,376.5L268.5,374.9Z"/>
<path d="M274.6,376.5L280.7,378.0L286.8,376.5L280.7,375.0Z"/>
<path d="M402.5,210.3L408.6,211.9L414.7,206.3L408.6,204.8Z"/>
<path d="M414.7,206.3L420.8,207.8L426.9,202.3L420.8,200.8Z"/>
<path d="M280.8,444.1L286.9,445.6L292.9,441.7L286.8,440.2Z"/>
<path d="M292.9,441.7L299.0,443.3L305.1,439.4L299.0,437.9Z"/>
<path d="M426.9,202.3L433.0,203.8L439.0,198.3L432.9,196.7Z"/>
<path d="M305.1,439.4L311.2,440.9L317.3,437.1L311.2,435.5Z"/>
<path d="M366.0,359.4L372.1,238.5L378.2,232.5L372.1,346.4Z"/>
<path d="M317.3,437.1L323.4,438.6L329.5,434.7L323.4,433.2Z"/>
<path d="M439.0,198.3L445.1,199.8L451.2,194.3L445.1,192.7Z"/>
<path d="M274.7,379.5L280.8,444.1L286.8,440.2L280.7,378.0Z"/>
<path d="M396.4,215.9L402.5,217.4L408.6,211.9L402.5,210.3Z"/>
<path d="M268.6,378.0L274.7,379.5L280.7,378.0L274.6,376.5Z"/>
<path d="M256.4,377.9L262.5,379.5L268.6,378.0L262.4,376.4Z"/>
<path d="M408.6,211.9L414.7,213.4L420.8,207.8L414.7,206.3Z"/>
<path d="M359.9,372.4L366.0,244.6L372.1,238.5L366.0,359.4Z"/>
<path d="M274.7,447.9L280.8,449.5L286.9,445.6L280.8,444.1Z"/>
<path d="M420.8,207.8L426.9,209.4L433.0,203.8L426.9,202.3Z"/>
<path d="M286.9,445.6L293.0,447.1L299.0,443.3L292.9,441.7Z"/>
<path d="M299.0,443.3L305.1,444.8L311.2,440.9L305.1,439.4Z"/>
<path d="M433.0,203.8L439.1,205.4L445.1,199.8L439.0,198.3Z"/>
<path d="M311.2,440.9L317.3,442.5L323.4,438.6L317.3,437.1Z"/>
<path d="M268.6,381.0L274.7,447.9L280.8,444.1L274.7,379.5Z"/>
<path d="M390.3,221.4L396.4,223.0L402.5,217.4L396.4,215.9Z"/>
<path d="M353.8,385.4L359.9,250.7L366.0,244.6L359.9,372.4Z"/>
<path d="M402.5,217.4L408.6,218.9L414.7,213.4L408.6,211.9Z"/>
<path d="M262.5,379.5L268.6,381.0L274.7,379.5L268.6,378.0Z"/>
<path d="M250.3,379.3L256.4,380.9L262.5,379.5L256.4,377.9Z"/>
<path d="M268.6,451.8L274.7,453.3L280.8,449.5L274.7,447.9Z"/>
<path d="M414.7,213.4L420.8,214.9L426.9,209.4L420.8,207.8Z"/>
<path d="M280.8,449.5L286.9,451.0L293.0,447.1L286.9,445.6Z"/>
<path d="M426.9,209.4L433.0,210.9L439.1,205.4L433.0,203.8Z"/>
<path d="M293.0,447.1L299.1,448.7L305.1,444.8L299.0,443.3Z"/>
<path d="M305.1,444.8L311.2,446.3L317.3,442.5L311.2,440.9Z"/>
<path d="M445.1,199.8L451.2,162.7L457.3,166.0L451.2,194.3Z"/>
<path d="M347.7,398.4L353.8,256.8L359.9,250.7L353.8,385.4Z"/>
<path d="M384.2,227.0L390.3,228.5L396.4,223.0L390.3,221.4Z"/>
<path d="M262.5,382.4L268.6,451.8L274.7,447.9L268.6,381.0Z"/>
<path d="M396.4,223.0L402.5,224.5L408.6,218.9L402.5,217.4Z"/>
<path d="M408.6,218.9L414.7,220.5L420.8,214.9L414.7,213.4Z"/>
<path d="M262.5,455.7L268.6,457.2L274.7,453.3L268.6,451.8Z"/>
<path d="M256.4,380.9L262.5,382.4L268.6,381.0L262.5,379.5Z"/>
<path d="M244.2,380.8L250.3,382.3L256.4,380.9L250.3,379.3Z"/>
<path d="M274.7,453.3L280.8,454.9L286.9,451.0L280.8,449.5Z"/>
<path d="M420.8,214.9L426.9,216.5L433.0,210.9L426.9,209.4Z"/>
<path d="M341.7,411.4L347.8,262.9L353.8,256.8L347.7,398.4Z"/>
<path d="M286.9,451.0L293.0,452.5L299.1,448.7L293.0,447.1Z"/>
<path d="M299.1,448.7L305.2,450.2L311.2,446.3L305.1,444.8Z"/>
<path d="M439.1,205.4L445.2,159.3L451.2,162.7L445.1,199.8Z"/>
<path d="M256.4,383.8L262.5,455.7L268.6,451.8L262.5,382.4Z"/>
<path d="M390.3,228.5L396.4,230.0L402.5,224.5L396.4,223.0Z"/>
<path d="M402.5,224.5L408.6,226.0L414.7,220.5L408.6,218.9Z"/>
<path d="M335.6,424.4L341.7,269.0L347.8,262.9L341.7,411.4Z"/>
<path d="M256.4,459.6L262.5,461.1L268.6,457.2L262.5,455.7Z"/>
<path d="M414.7,220.5L420.8,222.0L426.9,216.5L420.8,214.9Z"/>
<path d="M268.6,457.2L274.7,458.7L280.8,454.9L274.7,453.3Z"/>
<path d="M250.3,382.3L256.4,383.8L262.5,382.4L256.4,380.9Z"/>
<path d="M238.1,382.2L244.2,383.7L250.3,382.3L244.2,380.8Z"/>
<path d="M280.8,454.9L286.9,456.4L293.0,452.5L286.9,451.0Z"/>
<path d="M451.2,162.7L457.3,164.2L463.4,167.6L457.3,166.0Z"/>
<path d="M293.0,452.5L299.1,454.1L305.2,450.2L299.1,448.7Z"/>
<path d="M329.5,434.7L335.6,275.1L341.7,269.0L335.6,424.4Z"/>
<path d="M433.0,210.9L439.1,155.9L445.2,159.3L439.1,205.4Z"/>
<path d="M250.3,385.2L256.4,459.6L262.5,455.7L256.4,383.8Z"/>
<path d="M396.4,230.0L402.6,231.6L408.6,226.0L402.5,224.5Z"/>
<path d="M408.6,226.0L414.7,227.6L420.8,222.0L414.7,220.5Z"/>
<path d="M250.3,463.4L256.4,465.0L262.5,461.1L256.4,459.6Z"/>
<path d="M262.5,461.1L268.6,462.6L274.7,458.7L268.6,457.2Z"/>
<path d="M274.7,458.7L280.8,460.3L286.9,456.4L280.8,454.9Z"/>
<path d="M244.2,383.7L250.3,385.2L256.4,383.8L250.3,382.3Z"/>
<path d="M232.0,383.6L238.1,385.1L244.2,383.7L238.1,382.2Z"/>
<path d="M286.9,456.4L293.0,457.9L299.1,454.1L293.0,452.5Z"/>
<path d="M457.3,164.2L463.4,165.7L469.5,169.1L463.4,167.6Z"/>
<path d="M323.4,438.6L329.5,281.1L335.6,275.1L329.5,434.7Z"/>
<path d="M426.9,216.5L433.0,166.2L439.1,155.9L433.0,210.9Z"/>
<path d="M445.2,159.3L451.3,160.8L457.3,164.2L451.2,162.7Z"/>
<path d="M244.2,386.7L250.3,463.4L256.4,459.6L250.3,385.2Z"/>
<path d="M402.6,231.6L408.7,233.1L414.7,227.6L408.6,226.0Z"/>
<path d="M244.3,466.2L250.4,467.7L256.4,465.0L250.3,463.4Z"/>
<path d="M256.4,465.0L262.6,466.5L268.6,462.6L262.5,461.1Z"/>
<path d="M268.6,462.6L274.7,464.1L280.8,460.3L274.7,458.7Z"/>
<path d="M420.8,222.0L426.9,180.6L433.0,166.2L426.9,216.5Z"/>
<path d="M280.8,460.3L286.9,461.8L293.0,457.9L286.9,456.4Z"/>
<path d="M317.3,442.5L323.4,287.2L329.5,281.1L323.4,438.6Z"/>
<path d="M238.1,385.1L244.2,386.7L250.3,385.2L244.2,383.7Z"/>
<path d="M226.0,385.0L232.1,386.5L238.1,385.1L232.0,383.6Z"/>
<path d="M463.4,165.7L469.6,167.2L475.6,170.6L469.5,169.1Z"/>
<path d="M238.2,388.1L244.3,466.2L250.3,463.4L244.2,386.7Z"/>
<path d="M451.3,160.8L457.4,162.3L463.4,165.7L457.3,164.2Z"/>
<path d="M414.7,227.6L420.8,195.1L426.9,180.6L420.8,222.0Z"/>
<path d="M439.1,155.9L445.2,157.4L451.3,160.8L445.2,159.3Z"/>
<path d="M238.2,467.9L244.3,469.5L250.4,467.7L244.3,466.2Z"/>
<path d="M250.4,467.7L256.5,469.3L262.6,466.5L256.4,465.0Z"/>
<path d="M262.6,466.5L268.7,468.0L274.7,464.1L268.6,462.6Z"/>
<path d="M274.7,464.1L280.8,465.7L286.9,461.8L280.8,460.3Z"/>
<path d="M311.2,446.3L317.3,293.3L323.4,287.2L317.3,442.5Z"/>
<path d="M232.1,386.5L238.2,388.1L244.2,386.7L238.1,385.1Z"/>
<path d="M219.9,386.4L226.0,388.0L232.1,386.5L226.0,385.0Z"/>
<path d="M469.6,167.2L475.7,168.8L481.7,172.2L475.6,170.6Z"/>
<path d="M408.7,233.1L414.8,209.6L420.8,195.1L414.7,227.6Z"/>
<path d="M232.1,389.5L238.2,467.9L244.3,466.2L238.2,388.1Z"/>
<path d="M457.4,162.3L463.5,163.8L469.6,167.2L463.4,165.7Z"/>
<path d="M433.0,166.2L439.1,167.7L445.2,157.4L439.1,155.9Z"/>
<path d="M445.2,157.4L451.3,158.9L457.4,162.3L451.3,160.8Z"/>
<path d="M232.1,469.6L238.2,471.2L244.3,469.5L238.2,467.9Z"/>
<path d="M244.3,469.5L250.4,471.0L256.5,469.3L250.4,467.7Z"/>
<path d="M256.5,469.3L262.6,470.8L268.7,468.0L262.6,466.5Z"/>
<path d="M475.7,168.8L481.8,195.6L487.8,190.2L481.7,172.2Z"/>
<path d="M305.2,450.2L311.3,299.4L317.3,293.3L311.2,446.3Z"/>
<path d="M268.7,468.0L274.8,469.5L280.8,465.7L274.7,464.1Z"/>
<path d="M426.9,180.6L433.0,182.2L439.1,167.7L433.0,166.2Z"/>
<path d="M226.0,388.0L232.1,389.5L238.2,388.1L232.1,386.5Z"/>
<path d="M213.8,387.8L219.9,389.4L226.0,388.0L219.9,386.4Z"/>
<path d="M481.8,195.6L487.9,197.1L493.9,191.8L487.8,190.2Z"/>
<path d="M226.0,390.9L232.1,469.6L238.2,467.9L232.1,389.5Z"/>
<path d="M463.5,163.8L469.6,165.4L475.7,168.8L469.6,167.2Z"/>
<path d="M420.8,195.1L426.9,196.6L433.0,182.2L426.9,180.6Z"/>
<path d="M439.1,167.7L445.2,169.2L451.3,158.9L445.2,157.4Z"/>
<path d="M299.1,454.1L305.2,305.5L311.3,299.4L305.2,450.2Z"/>
<path d="M451.3,158.9L457.4,160.5L463.5,163.8L457.4,162.3Z"/>
<path d="M226.0,471.4L232.1,472.9L238.2,471.2L232.1,469.6Z"/>
<path d="M238.2,471.2L244.3,472.7L250.4,471.0L244.3,469.5Z"/>
<path d="M250.4,471.0L256.5,472.5L262.6,470.8L256.5,469.3Z"/>
<path d="M262.6,470.8L268.7,472.3L274.8,469.5L268.7,468.0Z"/>
<path d="M469.6,165.4L475.7,201.0L481.8,195.6L475.7,168.8Z"/>
<path d="M414.8,209.6L420.9,211.1L426.9,196.6L420.8,195.1Z"/>
<path d="M433.0,182.2L439.1,183.7L445.2,169.2L439.1,167.7Z"/>
<path d="M475.7,201.0L481.8,202.5L487.9,197.1L481.8,195.6Z"/>
<path d="M219.9,389.4L226.0,390.9L232.1,389.5L226.0,388.0Z"/>
<path d="M207.7,389.3L213.8,390.8L219.9,389.4L213.8,387.8Z"/>
<path d="M487.9,197.1L494.0,198.7L500.0,193.3L493.9,191.8Z"/>
<path d="M219.9,392.3L226.0,471.4L232.1,469.6L226.0,390.9Z"/>
<path d="M293.0,457.9L299.1,311.6L305.2,305.5L299.1,454.1Z"/>
<path d="M426.9,196.6L433.0,198.2L439.1,183.7L433.0,182.2Z"/>
<path d="M445.2,169.2L451.3,170.7L457.4,160.5L451.3,158.9Z"/>
<path d="M457.4,160.5L463.5,162.0L469.6,165.4L463.5,163.8Z"/>
<path d="M219.9,473.1L226.0,474.6L232.1,472.9L226.0,471.4Z"/>
<path d="M232.1,472.9L238.2,474.4L244.3,472.7L238.2,471.2Z"/>
<path d="M244.3,472.7L250.4,474.2L256.5,472.5L250.4,471.0Z"/>
<path d="M256.5,472.5L262.6,474.1L268.7,472.3L262.6,470.8Z"/>
<path d="M463.5,162.0L469.6,206.3L475.7,201.0L469.6,165.4Z"/>
<path d="M420.9,211.1L427.0,212.6L433.0,198.2L426.9,196.6Z"/>
<path d="M469.6,206.3L475.7,207.8L481.8,202.5L475.7,201.0Z"/>
<path d="M439.1,183.7L445.2,185.2L451.3,170.7L445.2,169.2Z"/>
<path d="M481.8,202.5L487.9,204.0L494.0,198.7L487.9,197.1Z"/>
<path d="M213.8,390.8L219.9,392.3L226.0,390.9L219.9,389.4Z"/>
<path d="M201.6,390.7L207.7,392.2L213.8,390.8L207.7,389.3Z"/>
<path d="M494.0,198.7L500.1,200.2L506.1,194.8L500.0,193.3Z"/>
<path d="M286.9,461.8L293.0,317.7L299.1,311.6L293.0,457.9Z"/>
<path d="M213.8,393.7L219.9,473.1L226.0,471.4L219.9,392.3Z"/>
<path d="M433.0,198.2L439.1,199.7L445.2,185.2L439.1,183.7Z"/>
<path d="M451.3,170.7L457.4,172.3L463.5,162.0L457.4,160.5Z"/>
<path d="M213.9,474.8L220.0,476.3L226.0,474.6L219.9,473.1Z"/>
<path d="M226.0,474.6L232.1,476.1L238.2,474.4L232.1,472.9Z"/>
<path d="M457.4,172.3L463.5,210.4L469.6,206.3L463.5,162.0Z"/>
<path d="M238.2,474.4L244.3,475.9L250.4,474.2L244.3,472.7Z"/>
<path d="M250.4,474.2L256.5,475.8L262.6,474.1L256.5,472.5Z"/>
<path d="M463.5,210.4L469.6,212.0L475.7,207.8L469.6,206.3Z"/>
<path d="M427.0,212.6L433.1,214.2L439.1,199.7L433.0,198.2Z"/>
<path d="M475.7,207.8L481.8,209.4L487.9,204.0L481.8,202.5Z"/>
<path d="M445.2,185.2L451.3,186.8L457.4,172.3L451.3,170.7Z"/>
<path d="M487.9,204.0L494.0,205.5L500.1,200.2L494.0,198.7Z"/>
<path d="M207.7,392.2L213.8,393.7L219.9,392.3L213.8,390.8Z"/>
<path d="M195.6,392.1L201.7,393.6L207.7,392.2L201.6,390.7Z"/>
<path d="M280.8,465.7L286.9,323.8L293.0,317.7L286.9,461.8Z"/>
<path d="M500.1,200.2L506.2,201.7L512.2,196.3L506.1,194.8Z"/>
<path d="M451.3,186.8L457.4,213.6L463.5,210.4L457.4,172.3Z"/>
<path d="M207.8,395.2L213.9,474.8L219.9,473.1L213.8,393.7Z"/>
<path d="M439.1,199.7L445.2,201.2L451.3,186.8L445.2,185.2Z"/>
<path d="M207.8,476.5L213.9,478.0L220.0,476.3L213.9,474.8Z"/>
<path d="M220.0,476.3L226.1,477.8L232.1,476.1L226.0,474.6Z"/>
<path d="M232.1,476.1L238.2,477.7L244.3,475.9L238.2,474.4Z"/>
<path d="M244.3,475.9L250.4,477.5L256.5,475.8L250.4,474.2Z"/>
<path d="M457.4,213.6L463.5,215.2L469.6,212.0L463.5,210.4Z"/>
<path d="M469.6,212.0L475.7,213.5L481.8,209.4L475.7,207.8Z"/>
<path d="M433.1,214.2L439.2,215.7L445.2,201.2L439.1,199.7Z"/>
<path d="M481.8,209.4L487.9,210.9L494.0,205.5L487.9,204.0Z"/>
<path d="M274.8,469.5L280.9,329.9L286.9,323.8L280.8,465.7Z"/>
<path d="M445.2,201.2L451.3,216.8L457.4,213.6L451.3,186.8Z"/>
<path d="M494.0,205.5L500.1,207.1L506.2,201.7L500.1,200.2Z"/>
<path d="M201.7,393.6L207.8,395.2L213.8,393.7L207.7,392.2Z"/>
<path d="M189.5,393.5L195.6,395.0L201.7,393.6L195.6,392.1Z"/>
<path d="M201.7,396.6L207.8,476.5L213.9,474.8L207.8,395.2Z"/>
<path d="M451.3,216.8L457.4,218.4L463.5,215.2L457.4,213.6Z"/>
<path d="M201.7,478.2L207.8,479.7L213.9,478.0L207.8,476.5Z"/>
<path d="M213.9,478.0L220.0,479.6L226.1,477.8L220.0,476.3Z"/>
<path d="M226.1,477.8L232.2,479.4L238.2,477.7L232.1,476.1Z"/>
<path d="M238.2,477.7L244.3,479.2L250.4,477.5L244.3,475.9Z"/>
<path d="M463.5,215.2L469.6,216.7L475.7,213.5L469.6,212.0Z"/>
<path d="M439.2,215.7L445.3,220.0L451.3,216.8L445.2,201.2Z"/>
<path d="M475.7,213.5L481.8,215.0L487.9,210.9L481.8,209.4Z"/>
<path d="M268.7,472.3L274.8,335.9L280.9,329.9L274.8,469.5Z"/>
<path d="M487.9,210.9L494.0,212.4L500.1,207.1L494.0,205.5Z"/>
<path d="M195.6,395.0L201.7,396.6L207.8,395.2L201.7,393.6Z"/>
<path d="M183.4,394.9L189.5,396.5L195.6,395.0L189.5,393.5Z"/>
<path d="M195.6,398.0L201.7,478.2L207.8,476.5L201.7,396.6Z"/>
<path d="M433.1,223.6L439.2,221.3L445.3,220.0L439.2,215.7Z"/>
<path d="M445.3,220.0L451.4,221.6L457.4,218.4L451.3,216.8Z"/>
<path d="M457.4,218.4L463.6,219.9L469.6,216.7L463.5,215.2Z"/>
<path d="M195.6,479.9L201.7,481.4L207.8,479.7L201.7,478.2Z"/>
<path d="M207.8,479.7L213.9,481.3L220.0,479.6L213.9,478.0Z"/>
<path d="M220.0,479.6L226.1,481.1L232.2,479.4L226.1,477.8Z"/>
<path d="M232.2,479.4L238.3,480.9L244.3,479.2L238.2,477.7Z"/>
<path d="M469.6,216.7L475.7,218.2L481.8,215.0L475.7,213.5Z"/>
<path d="M262.6,474.1L268.7,342.0L274.8,335.9L268.7,472.3Z"/>
<path d="M481.8,215.0L487.9,216.6L494.0,212.4L487.9,210.9Z"/>
<path d="M506.2,201.7L512.3,119.4L518.3,118.6L512.2,196.3Z"/>
<path d="M189.5,396.5L195.6,398.0L201.7,396.6L195.6,395.0Z"/>
<path d="M177.3,396.3L183.4,397.9L189.5,396.5L183.4,394.9Z"/>
<path d="M427.0,231.5L433.1,221.4L439.2,221.3L433.1,223.6Z"/>
<path d="M189.5,399.4L195.6,479.9L201.7,478.2L195.6,398.0Z"/>
<path d="M439.2,221.3L445.3,222.8L451.4,221.6L445.3,220.0Z"/>
<path d="M451.4,221.6L457.5,223.1L463.6,219.9L457.4,218.4Z"/>
<path d="M463.6,219.9L469.7,221.4L475.7,218.2L469.6,216.7Z"/>
<path d="M256.5,475.8L262.6,348.0L268.7,342.0L262.6,474.1Z"/>
<path d="M189.5,481.6L195.6,483.2L201.7,481.4L195.6,479.9Z"/>
<path d="M201.7,481.4L207.8,483.0L213.9,481.3L207.8,479.7Z"/>
<path d="M213.9,481.3L220.0,482.8L226.1,481.1L220.0,479.6Z"/>
<path d="M226.1,481.1L232.2,482.6L238.3,480.9L232.2,479.4Z"/>
<path d="M475.7,218.2L481.8,219.8L487.9,216.6L481.8,215.0Z"/>
<path d="M500.1,207.1L506.2,120.2L512.3,119.4L506.2,201.7Z"/>
<path d="M183.4,397.9L189.5,399.4L195.6,398.0L189.5,396.5Z"/>
<path d="M171.2,397.5L177.3,399.0L183.4,397.9L177.3,396.3Z"/>
<path d="M420.9,239.4L427.0,221.6L433.1,221.4L427.0,231.5Z"/>
<path d="M183.4,400.5L189.5,481.6L195.6,479.9L189.5,399.4Z"/>
<path d="M445.3,222.8L451.4,224.3L457.5,223.1L451.4,221.6Z"/>
<path d="M457.5,223.1L463.6,224.6L469.7,221.4L463.6,219.9Z"/>
<path d="M433.1,221.4L439.2,223.0L445.3,222.8L439.2,221.3Z"/>
<path d="M250.4,477.5L256.5,350.8L262.6,348.0L256.5,475.8Z"/>
<path d="M469.7,221.4L475.8,223.0L481.8,219.8L475.7,218.2Z"/>
<path d="M183.4,483.0L189.6,484.5L195.6,483.2L189.5,481.6Z"/>
<path d="M195.6,483.2L201.7,484.7L207.8,483.0L201.7,481.4Z"/>
<path d="M207.8,483.0L213.9,484.5L220.0,482.8L213.9,481.3Z"/>
<path d="M220.0,482.8L226.1,484.3L232.2,482.6L226.1,481.1Z"/>
<path d="M494.0,212.4L500.1,121.1L506.2,120.2L500.1,207.1Z"/>
<path d="M177.3,399.0L183.4,400.5L189.5,399.4L183.4,397.9Z"/>
<path d="M414.8,245.9L420.9,221.7L427.0,221.6L420.9,239.4Z"/>
<path d="M165.1,397.3L171.2,398.9L177.3,399.0L171.2,397.5Z"/>
<path d="M177.3,400.4L183.4,483.0L189.5,481.6L183.4,400.5Z"/>
<path d="M451.4,224.3L457.5,225.9L463.6,224.6L457.5,223.1Z"/>
<path d="M244.3,479.2L250.4,353.7L256.5,350.8L250.4,477.5Z"/>
<path d="M463.6,224.6L469.7,226.2L475.8,223.0L469.7,221.4Z"/>
<path d="M439.2,223.0L445.3,224.5L451.4,224.3L445.3,222.8Z"/>
<path d="M427.0,221.6L433.1,223.1L439.2,223.0L433.1,221.4Z"/>
<path d="M189.6,484.5L195.7,486.0L201.7,484.7L195.6,483.2Z"/>
<path d="M201.7,484.7L207.8,486.2L213.9,484.5L207.8,483.0Z"/>
<path d="M213.9,484.5L220.0,486.0L226.1,484.3L220.0,482.8Z"/>
<path d="M177.4,484.2L183.5,485.7L189.6,484.5L183.4,483.0Z"/>
<path d="M487.9,216.6L494.0,121.9L500.1,121.1L494.0,212.4Z"/>
<path d="M512.3,119.4L518.4,120.9L524.4,120.1L518.3,118.6Z"/>
<path d="M408.8,250.9L414.9,221.9L420.9,221.7L414.8,245.9Z"/>
<path d="M536.7,211.2L542.8,212.8L548.9,209.5L542.8,208.0Z"/>
<path d="M171.2,398.9L177.3,400.4L183.4,400.5L177.3,399.0Z"/>
<path d="M567.2,330.0L573.3,331.6L579.4,325.6L573.3,324.0Z"/>
<path d="M159.1,397.2L165.2,398.7L171.2,398.9L165.1,397.3Z"/>
<path d="M171.3,400.3L177.4,484.2L183.4,483.0L177.3,400.4Z"/>
<path d="M238.3,480.9L244.4,356.5L250.4,353.7L244.3,479.2Z"/>
<path d="M457.5,225.9L463.6,227.4L469.7,226.2L463.6,224.6Z"/>
<path d="M445.3,224.5L451.4,226.0L457.5,225.9L451.4,224.3Z"/>
<path d="M433.1,223.1L439.2,224.6L445.3,224.5L439.2,223.0Z"/>
<path d="M195.7,486.0L201.8,487.6L207.8,486.2L201.7,484.7Z"/>
<path d="M207.8,486.2L213.9,487.8L220.0,486.0L213.9,484.5Z"/>
<path d="M183.5,485.7L189.6,487.2L195.7,486.0L189.6,484.5Z"/>
<path d="M171.3,485.4L177.4,486.9L183.5,485.7L177.4,484.2Z"/>
<path d="M420.9,221.7L427.0,223.3L433.1,223.1L427.0,221.6Z"/>
<path d="M481.8,219.8L487.9,122.7L494.0,121.9L487.9,216.6Z"/>
<path d="M518.4,120.9L524.5,122.5L530.6,121.6L524.4,120.1Z"/>
<path d="M506.2,120.2L512.3,121.8L518.4,120.9L512.3,119.4Z"/>
<path d="M530.6,124.0L536.7,211.2L542.8,208.0L536.7,123.2Z"/>
<path d="M561.1,336.0L567.2,337.6L573.3,331.6L567.2,330.0Z"/>
<path d="M530.6,214.5L536.7,216.0L542.8,212.8L536.7,211.2Z"/>
<path d="M402.7,255.9L408.8,215.3L414.9,221.9L408.8,250.9Z"/>
<path d="M542.8,212.8L548.9,214.3L555.0,211.0L548.9,209.5Z"/>
<path d="M573.3,331.6L579.4,333.1L585.5,327.1L579.4,325.6Z"/>
<path d="M165.2,398.7L171.3,400.3L177.3,400.4L171.2,398.9Z"/>
<path d="M153.0,397.1L159.1,398.6L165.2,398.7L159.1,397.2Z"/>
<path d="M232.2,482.6L238.3,359.4L244.4,356.5L238.3,480.9Z"/>
<path d="M165.2,400.2L171.3,485.4L177.4,484.2L171.3,400.3Z"/>
<path d="M451.4,226.0L457.5,227.5L463.6,227.4L457.5,225.9Z"/>
<path d="M439.2,224.6L445.3,226.2L451.4,226.0L445.3,224.5Z"/>
<path d="M201.8,487.6L207.9,489.1L213.9,487.8L207.8,486.2Z"/>
<path d="M189.6,487.2L195.7,488.8L201.8,487.6L195.7,486.0Z"/>
<path d="M177.4,486.9L183.5,488.4L189.6,487.2L183.5,485.7Z"/>
<path d="M165.2,486.6L171.3,488.1L177.4,486.9L171.3,485.4Z"/>
<path d="M427.0,223.3L433.1,224.8L439.2,224.6L433.1,223.1Z"/>
<path d="M561.1,217.4L567.2,330.0L573.3,324.0L567.2,214.1Z"/>
<path d="M414.9,221.9L421.0,223.4L427.0,223.3L420.9,221.7Z"/>
<path d="M555.0,342.0L561.1,343.6L567.2,337.6L561.1,336.0Z"/>
<path d="M475.8,223.0L481.9,123.4L487.9,122.7L481.8,219.8Z"/>
<path d="M524.5,122.5L530.6,124.0L536.7,123.2L530.6,121.6Z"/>
<path d="M512.3,121.8L518.4,123.3L524.5,122.5L518.4,120.9Z"/>
<path d="M500.1,121.1L506.2,122.6L512.3,121.8L506.2,120.2Z"/>
<path d="M524.5,217.8L530.6,219.3L536.7,216.0L530.6,214.5Z"/>
<path d="M524.5,124.8L530.6,214.5L536.7,211.2L530.6,124.0Z"/>
<path d="M567.2,337.6L573.3,339.1L579.4,333.1L573.3,331.6Z"/>
<path d="M536.7,216.0L542.8,217.6L548.9,214.3L542.8,212.8Z"/>
<path d="M548.9,214.3L555.0,215.8L561.1,212.6L555.0,211.0Z"/>
<path d="M579.4,333.1L585.5,334.6L591.6,328.6L585.5,327.1Z"/>
<path d="M396.6,260.8L402.7,206.5L408.8,215.3L402.7,255.9Z"/>
<path d="M159.1,398.6L165.2,400.2L171.3,400.3L165.2,398.7Z"/>
<path d="M226.1,484.3L232.2,362.3L238.3,359.4L232.2,482.6Z"/>
<path d="M146.9,397.0L153.0,398.5L159.1,398.6L153.0,397.1Z"/>
<path d="M159.1,400.0L165.2,486.6L171.3,485.4L165.2,400.2Z"/>
<path d="M555.0,220.6L561.1,336.0L567.2,330.0L561.1,217.4Z"/>
<path d="M445.3,226.2L451.4,227.7L457.5,227.5L451.4,226.0Z"/>
<path d="M195.7,488.8L201.8,490.3L207.9,489.1L201.8,487.6Z"/>
<path d="M548.9,348.1L555.0,349.6L561.1,343.6L555.0,342.0Z"/>
<path d="M183.5,488.4L189.6,490.0L195.7,488.8L189.6,487.2Z"/>
<path d="M171.3,488.1L177.4,489.6L183.5,488.4L177.4,486.9Z"/>
<path d="M433.1,224.8L439.2,226.3L445.3,226.2L439.2,224.6Z"/>
<path d="M159.1,487.8L165.2,489.3L171.3,488.1L165.2,486.6Z"/>
<path d="M421.0,223.4L427.1,225.0L433.1,224.8L427.0,223.3Z"/>
<path d="M469.7,226.2L475.8,124.0L481.9,123.4L475.8,223.0Z"/>
<path d="M561.1,343.6L567.2,345.1L573.3,339.1L567.2,337.6Z"/>
<path d="M518.4,221.1L524.5,222.6L530.6,219.3L524.5,217.8Z"/>
<path d="M408.8,215.3L414.9,216.9L421.0,223.4L414.9,221.9Z"/>
<path d="M518.4,123.3L524.5,124.8L530.6,124.0L524.5,122.5Z"/>
<path d="M506.2,122.6L512.3,124.1L518.4,123.3L512.3,121.8Z"/>
<path d="M518.4,125.7L524.5,217.8L530.6,214.5L524.5,124.8Z"/>
<path d="M530.6,219.3L536.7,220.9L542.8,217.6L536.7,216.0Z"/>
<path d="M494.0,121.9L500.1,123.4L506.2,122.6L500.1,121.1Z"/>
<path d="M573.3,339.1L579.4,340.6L585.5,334.6L579.4,333.1Z"/>
<path d="M542.8,217.6L548.9,219.1L555.0,215.8L548.9,214.3Z"/>
<path d="M555.0,215.8L561.1,217.4L567.2,214.1L561.1,212.6Z"/>
<path d="M585.5,334.6L591.6,336.2L597.7,330.1L591.6,328.6Z"/>
<path d="M220.0,486.0L226.1,365.1L232.2,362.3L226.1,484.3Z"/>
<path d="M390.5,265.8L396.6,197.7L402.7,206.5L396.6,260.8Z"/>
<path d="M548.9,223.9L555.0,342.0L561.1,336.0L555.0,220.6Z"/>
<path d="M153.0,398.5L159.1,400.0L165.2,400.2L159.1,398.6Z"/>
<path d="M542.9,354.1L549.0,355.6L555.0,349.6L548.9,348.1Z"/>
<path d="M140.8,396.8L146.9,398.4L153.0,398.5L146.9,397.0Z"/>
<path d="M153.0,399.9L159.1,487.8L165.2,486.6L159.1,400.0Z"/>
<path d="M555.0,349.6L561.1,351.1L567.2,345.1L561.1,343.6Z"/>
<path d="M189.6,490.0L195.7,491.5L201.8,490.3L195.7,488.8Z"/>
<path d="M177.4,489.6L183.5,491.2L189.6,490.0L183.5,488.4Z"/>
<path d="M439.2,226.3L445.3,227.9L451.4,227.7L445.3,226.2Z"/>
<path d="M165.2,489.3L171.3,490.8L177.4,489.6L171.3,488.1Z"/>
<path d="M153.0,489.0L159.1,490.5L165.2,489.3L159.1,487.8Z"/>
<path d="M427.1,225.0L433.2,226.5L439.2,226.3L433.1,224.8Z"/>
<path d="M463.6,227.4L469.7,124.7L475.8,124.0L469.7,226.2Z"/>
<path d="M512.3,224.3L518.4,225.9L524.5,222.6L518.4,221.1Z"/>
<path d="M567.2,345.1L573.3,346.6L579.4,340.6L573.3,339.1Z"/>
<path d="M524.5,222.6L530.6,224.1L536.7,220.9L530.6,219.3Z"/>
<path d="M414.9,216.9L421.0,218.4L427.1,225.0L421.0,223.4Z"/>
<path d="M512.3,126.5L518.4,221.1L524.5,217.8L518.4,125.7Z"/>
<path d="M512.3,124.1L518.4,125.7L524.5,124.8L518.4,123.3Z"/>
<path d="M536.7,220.9L542.8,222.4L548.9,219.1L542.8,217.6Z"/>
<path d="M500.1,123.4L506.2,125.0L512.3,124.1L506.2,122.6Z"/>
<path d="M487.9,122.7L494.0,124.2L500.1,123.4L494.0,121.9Z"/>
<path d="M579.4,340.6L585.5,342.2L591.6,336.2L585.5,334.6Z"/>
<path d="M548.9,219.1L555.0,220.6L561.1,217.4L555.0,215.8Z"/>
<path d="M536.8,360.1L542.9,361.6L549.0,355.6L542.9,354.1Z"/>
<path d="M542.8,227.2L548.9,348.1L555.0,342.0L548.9,223.9Z"/>
<path d="M213.9,487.8L220.0,368.0L226.1,365.1L220.0,486.0Z"/>
<path d="M402.7,206.5L408.8,208.0L414.9,216.9L408.8,215.3Z"/>
<path d="M549.0,355.6L555.1,357.1L561.1,351.1L555.0,349.6Z"/>
<path d="M146.9,398.4L153.0,399.9L159.1,400.0L153.0,398.5Z"/>
<path d="M384.4,270.8L390.5,192.6L396.6,197.7L390.5,265.8Z"/>
<path d="M134.7,396.7L140.8,398.2L146.9,398.4L140.8,396.8Z"/>
<path d="M146.9,399.8L153.0,489.0L159.1,487.8L153.0,399.9Z"/>
<path d="M561.1,351.1L567.2,352.6L573.3,346.6L567.2,345.1Z"/>
<path d="M183.5,491.2L189.6,492.7L195.7,491.5L189.6,490.0Z"/>
<path d="M171.3,490.8L177.4,492.4L183.5,491.2L177.4,489.6Z"/>
<path d="M159.1,490.5L165.2,492.0L171.3,490.8L165.2,489.3Z"/>
<path d="M147.0,490.2L153.1,491.7L159.1,490.5L153.0,489.0Z"/>
<path d="M433.2,226.5L439.3,228.0L445.3,227.9L439.2,226.3Z"/>
<path d="M506.3,227.6L512.4,229.1L518.4,225.9L512.3,224.3Z"/>
<path d="M518.4,225.9L524.6,227.4L530.6,224.1L524.5,222.6Z"/>
<path d="M573.3,346.6L579.4,348.2L585.5,342.2L579.4,340.6Z"/>
<path d="M457.5,227.5L463.6,125.3L469.7,124.7L463.6,227.4Z"/>
<path d="M530.6,224.1L536.7,225.7L542.8,222.4L536.7,220.9Z"/>
<path d="M506.2,127.3L512.3,224.3L518.4,221.1L512.3,126.5Z"/>
<path d="M421.0,218.4L427.1,219.9L433.2,226.5L427.1,225.0Z"/>
<path d="M542.8,222.4L548.9,223.9L555.0,220.6L548.9,219.1Z"/>
<path d="M506.2,125.0L512.3,126.5L518.4,125.7L512.3,124.1Z"/>
<path d="M494.0,124.2L500.1,125.8L506.2,125.0L500.1,123.4Z"/>
<path d="M530.7,366.1L536.8,367.6L542.9,361.6L536.8,360.1Z"/>
<path d="M481.9,123.4L488.0,124.9L494.0,124.2L487.9,122.7Z"/>
<path d="M536.8,230.5L542.9,354.1L548.9,348.1L542.8,227.2Z"/>
<path d="M542.9,361.6L549.0,363.1L555.1,357.1L549.0,355.6Z"/>
<path d="M207.9,489.1L214.0,370.8L220.0,368.0L213.9,487.8Z"/>
<path d="M408.8,208.0L414.9,209.6L421.0,218.4L414.9,216.9Z"/>
<path d="M555.1,357.1L561.2,358.7L567.2,352.6L561.1,351.1Z"/>
<path d="M140.8,398.2L146.9,399.8L153.0,399.9L146.9,398.4Z"/>
<path d="M378.3,275.8L384.4,188.5L390.5,192.6L384.4,270.8Z"/>
<path d="M567.2,352.6L573.3,354.2L579.4,348.2L573.3,346.6Z"/>
<path d="M128.7,396.6L134.8,398.1L140.8,398.2L134.7,396.7Z"/>
<path d="M500.2,230.9L506.3,232.4L512.4,229.1L506.3,227.6Z"/>
<path d="M140.9,399.7L147.0,490.2L153.0,489.0L146.9,399.8Z"/>
<path d="M177.4,492.4L183.5,493.9L189.6,492.7L183.5,491.2Z"/>
<path d="M165.2,492.0L171.3,493.6L177.4,492.4L171.3,490.8Z"/>
<path d="M153.1,491.7L159.2,493.2L165.2,492.0L159.1,490.5Z"/>
<path d="M140.9,491.3L147.0,492.9L153.1,491.7L147.0,490.2Z"/>
<path d="M512.4,229.1L518.5,230.7L524.6,227.4L518.4,225.9Z"/>
<path d="M396.6,197.7L402.7,199.2L408.8,208.0L402.7,206.5Z"/>
<path d="M524.6,227.4L530.7,228.9L536.7,225.7L530.6,224.1Z"/>
<path d="M524.6,372.0L530.7,373.5L536.8,367.6L530.7,366.1Z"/>
<path d="M536.7,225.7L542.8,227.2L548.9,223.9L542.8,222.4Z"/>
<path d="M500.2,128.0L506.3,227.6L512.3,224.3L506.2,127.3Z"/>
<path d="M451.4,227.7L457.5,126.0L463.6,125.3L457.5,227.5Z"/>
<path d="M427.1,219.9L433.2,221.4L439.3,228.0L433.2,226.5Z"/>
<path d="M530.7,233.7L536.8,360.1L542.9,354.1L536.8,230.5Z"/>
<path d="M500.1,125.8L506.2,127.3L512.3,126.5L506.2,125.0Z"/>
<path d="M536.8,367.6L542.9,369.1L549.0,363.1L542.9,361.6Z"/>
<path d="M488.0,124.9L494.1,126.4L500.1,125.8L494.0,124.2Z"/>
<path d="M475.8,124.0L481.9,125.6L488.0,124.9L481.9,123.4Z"/>
<path d="M549.0,363.1L555.1,364.7L561.2,358.7L555.1,357.1Z"/>
<path d="M591.6,336.2L597.7,246.6L603.8,242.4L597.7,330.1Z"/>
<path d="M201.8,490.3L207.9,373.7L214.0,370.8L207.9,489.1Z"/>
<path d="M414.9,209.6L421.0,211.1L427.1,219.9L421.0,218.4Z"/>
<path d="M561.2,358.7L567.3,360.2L573.3,354.2L567.2,352.6Z"/>
<path d="M494.1,234.2L500.2,235.7L506.3,232.4L500.2,230.9Z"/>
<path d="M372.3,280.7L378.4,184.4L384.4,188.5L378.3,275.8Z"/>
<path d="M518.5,377.9L524.6,379.4L530.7,373.5L524.6,372.0Z"/>
<path d="M134.8,398.1L140.9,399.7L146.9,399.8L140.8,398.2Z"/>
<path d="M506.3,232.4L512.4,233.9L518.5,230.7L512.4,229.1Z"/>
<path d="M171.3,493.6L177.4,495.1L183.5,493.9L177.4,492.4Z"/>
<path d="M159.2,493.2L165.3,494.7L171.3,493.6L165.2,492.0Z"/>
<path d="M147.0,492.9L153.1,494.4L159.2,493.2L153.1,491.7Z"/>
<path d="M134.8,399.5L140.9,491.3L147.0,490.2L140.9,399.7Z"/>
<path d="M122.6,396.5L128.7,398.0L134.8,398.1L128.7,396.6Z"/>
<path d="M134.8,492.5L140.9,494.1L147.0,492.9L140.9,491.3Z"/>
<path d="M518.5,230.7L524.6,232.2L530.7,228.9L524.6,227.4Z"/>
<path d="M402.7,199.2L408.8,200.7L414.9,209.6L408.8,208.0Z"/>
<path d="M530.7,228.9L536.8,230.5L542.8,227.2L536.7,225.7Z"/>
<path d="M530.7,373.5L536.8,375.1L542.9,369.1L536.8,367.6Z"/>
<path d="M524.6,237.0L530.7,366.1L536.8,360.1L530.7,233.7Z"/>
<path d="M494.1,128.6L500.2,230.9L506.3,227.6L500.2,128.0Z"/>
<path d="M445.3,227.9L451.4,129.4L457.5,126.0L451.4,227.7Z"/>
<path d="M542.9,369.1L549.0,370.7L555.1,364.7L549.0,363.1Z"/>
<path d="M494.1,126.4L500.2,128.0L506.2,127.3L500.1,125.8Z"/>
<path d="M585.5,342.2L591.6,250.8L597.7,246.6L591.6,336.2Z"/>
<path d="M481.9,125.6L488.0,127.1L494.1,126.4L488.0,124.9Z"/>
<path d="M469.7,124.7L475.8,126.2L481.9,125.6L475.8,124.0Z"/>
<path d="M390.5,192.6L396.6,194.2L402.7,199.2L396.6,197.7Z"/>
<path d="M555.1,364.7L561.2,366.2L567.3,360.2L561.2,358.7Z"/>
<path d="M195.7,491.5L201.8,375.8L207.9,373.7L201.8,490.3Z"/>
<path d="M421.0,211.1L427.1,212.6L433.2,221.4L427.1,219.9Z"/>
<path d="M512.4,383.8L518.6,385.3L524.6,379.4L518.5,377.9Z"/>
<path d="M488.0,237.4L494.1,239.0L500.2,235.7L494.1,234.2Z"/>
<path d="M500.2,235.7L506.3,237.2L512.4,233.9L506.3,232.4Z"/>
<path d="M524.6,379.4L530.7,381.0L536.8,375.1L530.7,373.5Z"/>
<path d="M512.4,233.9L518.5,235.5L524.6,232.2L518.5,230.7Z"/>
<path d="M366.2,285.7L372.3,180.2L378.4,184.4L372.3,280.7Z"/>
<path d="M165.3,494.7L171.4,496.3L177.4,495.1L171.3,493.6Z"/>
<path d="M518.5,240.3L524.6,372.0L530.7,366.1L524.6,237.0Z"/>
<path d="M153.1,494.4L159.2,495.9L165.3,494.7L159.2,493.2Z"/>
<path d="M128.7,398.0L134.8,399.5L140.9,399.7L134.8,398.1Z"/>
<path d="M140.9,494.1L147.0,495.6L153.1,494.4L147.0,492.9Z"/>
<path d="M128.7,493.7L134.8,495.3L140.9,494.1L134.8,492.5Z"/>
<path d="M524.6,232.2L530.7,233.7L536.8,230.5L530.7,228.9Z"/>
<path d="M128.7,399.4L134.8,492.5L140.9,491.3L134.8,399.5Z"/>
<path d="M116.5,396.3L122.6,397.9L128.7,398.0L122.6,396.5Z"/>
<path d="M408.8,200.7L414.9,202.2L421.0,211.1L414.9,209.6Z"/>
<path d="M536.8,375.1L542.9,376.6L549.0,370.7L542.9,369.1Z"/>
<path d="M488.0,129.3L494.1,234.2L500.2,230.9L494.1,128.6Z"/>
<path d="M439.3,228.0L445.4,134.1L451.4,129.4L445.3,227.9Z"/>
<path d="M579.4,348.2L585.5,255.0L591.6,250.8L585.5,342.2Z"/>
<path d="M549.0,370.7L555.1,372.2L561.2,366.2L555.1,364.7Z"/>
<path d="M488.0,127.1L494.1,128.6L500.2,128.0L494.1,126.4Z"/>
<path d="M475.8,126.2L481.9,127.7L488.0,127.1L481.9,125.6Z"/>
<path d="M396.6,194.2L402.7,195.7L408.8,200.7L402.7,199.2Z"/>
<path d="M463.6,125.3L469.7,126.9L475.8,126.2L469.7,124.7Z"/>
<path d="M506.4,389.7L512.5,391.2L518.6,385.3L512.4,383.8Z"/>
<path d="M189.6,492.7L195.7,375.9L201.8,375.8L195.7,491.5Z"/>
<path d="M481.9,240.7L488.0,242.2L494.1,239.0L488.0,237.4Z"/>
<path d="M518.6,385.3L524.7,386.9L530.7,381.0L524.6,379.4Z"/>
<path d="M384.4,188.5L390.6,190.0L396.6,194.2L390.5,192.6Z"/>
<path d="M494.1,239.0L500.2,240.5L506.3,237.2L500.2,235.7Z"/>
<path d="M512.4,243.6L518.5,377.9L524.6,372.0L518.5,240.3Z"/>
<path d="M506.3,237.2L512.4,238.8L518.5,235.5L512.4,233.9Z"/>
<path d="M530.7,381.0L536.8,382.5L542.9,376.6L536.8,375.1Z"/>
<path d="M518.5,235.5L524.6,237.0L530.7,233.7L524.6,232.2Z"/>
<path d="M159.2,495.9L165.3,497.5L171.4,496.3L165.3,494.7Z"/>
<path d="M360.1,290.7L366.2,176.1L372.3,180.2L366.2,285.7Z"/>
<path d="M147.0,495.6L153.1,497.1L159.2,495.9L153.1,494.4Z"/>
<path d="M134.8,495.3L140.9,496.8L147.0,495.6L140.9,494.1Z"/>
<path d="M122.6,494.9L128.7,496.5L134.8,495.3L128.7,493.7Z"/>
<path d="M573.3,354.2L579.4,259.1L585.5,255.0L579.4,348.2Z"/>
<path d="M122.6,397.9L128.7,399.4L134.8,399.5L128.7,398.0Z"/>
<path d="M122.6,399.9L128.7,493.7L134.8,492.5L128.7,399.4Z"/>
<path d="M414.9,202.2L421.0,203.8L427.1,212.6L421.0,211.1Z"/>
<path d="M542.9,376.6L549.0,378.1L555.1,372.2L549.0,370.7Z"/>
<path d="M110.4,396.8L116.5,398.4L122.6,397.9L116.5,396.3Z"/>
<path d="M481.9,129.9L488.0,237.4L494.1,234.2L488.0,129.3Z"/>
<path d="M433.2,221.4L439.3,138.7L445.4,134.1L439.3,228.0Z"/>
<path d="M500.3,395.6L506.4,397.1L512.5,391.2L506.4,389.7Z"/>
<path d="M481.9,127.7L488.0,129.3L494.1,128.6L488.0,127.1Z"/>
<path d="M402.7,195.7L408.8,197.2L414.9,202.2L408.8,200.7Z"/>
<path d="M469.7,126.9L475.8,128.4L481.9,127.7L475.8,126.2Z"/>
<path d="M457.5,126.0L463.6,127.5L469.7,126.9L463.6,125.3Z"/>
<path d="M512.5,391.2L518.6,392.7L524.7,386.9L518.6,385.3Z"/>
<path d="M597.7,246.6L603.8,248.1L609.9,244.0L603.8,242.4Z"/>
<path d="M183.5,493.9L189.6,375.9L195.7,375.9L189.6,492.7Z"/>
<path d="M475.9,244.0L482.0,245.5L488.0,242.2L481.9,240.7Z"/>
<path d="M488.0,242.2L494.1,243.8L500.2,240.5L494.1,239.0Z"/>
<path d="M506.3,246.8L512.4,383.8L518.5,377.9L512.4,243.6Z"/>
<path d="M524.7,386.9L530.8,388.4L536.8,382.5L530.7,381.0Z"/>
<path d="M390.6,190.0L396.7,191.6L402.7,195.7L396.6,194.2Z"/>
<path d="M500.2,240.5L506.3,242.0L512.4,238.8L506.3,237.2Z"/>
<path d="M512.4,238.8L518.5,240.3L524.6,237.0L518.5,235.5Z"/>
<path d="M567.3,360.2L573.4,263.3L579.4,259.1L573.3,354.2Z"/>
<path d="M536.8,382.5L542.9,384.0L549.0,378.1L542.9,376.6Z"/>
<path d="M378.4,184.4L384.5,185.9L390.6,190.0L384.4,188.5Z"/>
<path d="M153.1,497.1L159.2,498.7L165.3,497.5L159.2,495.9Z"/>
<path d="M140.9,496.8L147.0,498.3L153.1,497.1L147.0,495.6Z"/>
<path d="M128.7,496.5L134.8,498.0L140.9,496.8L134.8,495.3Z"/>
<path d="M354.0,295.6L360.1,172.4L366.2,176.1L360.1,290.7Z"/>
<path d="M116.6,496.1L122.7,497.7L128.7,496.5L122.6,494.9Z"/>
<path d="M116.5,401.1L122.6,494.9L128.7,493.7L122.6,399.9Z"/>
<path d="M475.8,130.6L481.9,240.7L488.0,237.4L481.9,129.9Z"/>
<path d="M116.5,398.4L122.6,399.9L128.7,399.4L122.6,397.9Z"/>
<path d="M494.2,401.5L500.3,403.0L506.4,397.1L500.3,395.6Z"/>
<path d="M104.3,398.0L110.4,399.5L116.5,398.4L110.4,396.8Z"/>
<path d="M506.4,397.1L512.5,398.6L518.6,392.7L512.5,391.2Z"/>
<path d="M427.1,212.6L433.2,143.3L439.3,138.7L433.2,221.4Z"/>
<path d="M591.6,250.8L597.7,252.3L603.8,248.1L597.7,246.6Z"/>
<path d="M408.8,197.2L414.9,198.8L421.0,203.8L414.9,202.2Z"/>
<path d="M475.8,128.4L481.9,129.9L488.0,129.3L481.9,127.7Z"/>
<path d="M451.4,129.4L457.6,131.0L463.6,127.5L457.5,126.0Z"/>
<path d="M463.6,127.5L469.7,129.0L475.8,128.4L469.7,126.9Z"/>
<path d="M518.6,392.7L524.7,394.3L530.8,388.4L524.7,386.9Z"/>
<path d="M603.8,248.1L609.9,249.7L616.0,245.5L609.9,244.0Z"/>
<path d="M469.8,247.3L475.9,248.8L482.0,245.5L475.9,244.0Z"/>
<path d="M500.3,250.1L506.4,389.7L512.4,383.8L506.3,246.8Z"/>
<path d="M482.0,245.5L488.1,247.0L494.1,243.8L488.0,242.2Z"/>
<path d="M177.4,495.1L183.6,375.9L189.6,375.9L183.5,493.9Z"/>
<path d="M494.1,243.8L500.2,245.3L506.3,242.0L500.2,240.5Z"/>
<path d="M530.8,388.4L536.9,389.9L542.9,384.0L536.8,382.5Z"/>
<path d="M561.2,366.2L567.3,267.5L573.4,263.3L567.3,360.2Z"/>
<path d="M396.7,191.6L402.8,193.1L408.8,197.2L402.7,195.7Z"/>
<path d="M506.3,242.0L512.4,243.6L518.5,240.3L512.4,238.8Z"/>
<path d="M488.1,407.4L494.2,408.9L500.3,403.0L494.2,401.5Z"/>
<path d="M384.5,185.9L390.6,187.4L396.7,191.6L390.6,190.0Z"/>
<path d="M147.0,498.3L153.1,499.9L159.2,498.7L153.1,497.1Z"/>
<path d="M134.8,498.0L140.9,499.5L147.0,498.3L140.9,496.8Z"/>
<path d="M122.7,497.7L128.8,499.2L134.8,498.0L128.7,496.5Z"/>
<path d="M469.8,134.0L475.9,244.0L481.9,240.7L475.8,130.6Z"/>
<path d="M110.5,497.3L116.6,498.9L122.7,497.7L116.6,496.1Z"/>
<path d="M347.9,300.6L354.0,169.2L360.1,172.4L354.0,295.6Z"/>
<path d="M500.3,403.0L506.4,404.5L512.5,398.6L506.4,397.1Z"/>
<path d="M110.4,399.5L116.5,401.1L122.6,399.9L116.5,398.4Z"/>
<path d="M110.4,395.1L116.6,496.1L122.6,494.9L116.5,401.1Z"/>
<path d="M372.3,180.2L378.4,181.8L384.5,185.9L378.4,184.4Z"/>
<path d="M585.5,255.0L591.6,256.5L597.7,252.3L591.6,250.8Z"/>
<path d="M98.2,392.0L104.3,393.5L110.4,399.5L104.3,398.0Z"/>
<path d="M512.5,398.6L518.6,400.2L524.7,394.3L518.6,392.7Z"/>
<path d="M445.4,134.1L451.5,135.6L457.6,131.0L451.4,129.4Z"/>
<path d="M597.7,252.3L603.8,253.9L609.9,249.7L603.8,248.1Z"/>
<path d="M494.2,253.4L500.3,395.6L506.4,389.7L500.3,250.1Z"/>
<path d="M463.7,250.9L469.8,252.5L475.9,248.8L469.8,247.3Z"/>
<path d="M457.6,131.0L463.7,132.5L469.7,129.0L463.6,127.5Z"/>
<path d="M469.7,129.0L475.8,130.6L481.9,129.9L475.8,128.4Z"/>
<path d="M421.0,203.8L427.1,147.9L433.2,143.3L427.1,212.6Z"/>
<path d="M524.7,394.3L530.8,395.8L536.9,389.9L530.8,388.4Z"/>
<path d="M609.9,249.7L616.0,251.2L622.1,247.0L616.0,245.5Z"/>
<path d="M475.9,248.8L482.0,250.3L488.1,247.0L482.0,245.5Z"/>
<path d="M555.1,372.2L561.2,271.7L567.3,267.5L561.2,366.2Z"/>
<path d="M488.1,247.0L494.2,248.6L500.2,245.3L494.1,243.8Z"/>
<path d="M171.4,496.3L177.5,375.9L183.6,375.9L177.4,495.1Z"/>
<path d="M500.2,245.3L506.3,246.8L512.4,243.6L506.3,242.0Z"/>
<path d="M402.8,193.1L408.9,194.6L414.9,198.8L408.8,197.2Z"/>
<path d="M482.0,413.3L488.1,414.8L494.2,408.9L488.1,407.4Z"/>
<path d="M494.2,408.9L500.3,410.4L506.4,404.5L500.3,403.0Z"/>
<path d="M463.7,138.7L469.8,247.3L475.9,244.0L469.8,134.0Z"/>
<path d="M390.6,187.4L396.7,189.0L402.8,193.1L396.7,191.6Z"/>
<path d="M140.9,499.5L147.0,501.1L153.1,499.9L147.0,498.3Z"/>
<path d="M128.8,499.2L134.9,500.7L140.9,499.5L134.8,498.0Z"/>
<path d="M116.6,498.9L122.7,500.4L128.8,499.2L122.7,497.7Z"/>
<path d="M104.4,498.5L110.5,500.1L116.6,498.9L110.5,497.3Z"/>
<path d="M341.9,305.6L348.0,165.9L354.0,169.2L347.9,300.6Z"/>
<path d="M506.4,404.5L512.5,406.1L518.6,400.2L512.5,398.6Z"/>
<path d="M579.4,259.1L585.6,260.7L591.6,256.5L585.5,255.0Z"/>
<path d="M439.3,138.7L445.4,140.2L451.5,135.6L445.4,134.1Z"/>
<path d="M378.4,181.8L384.5,183.3L390.6,187.4L384.5,185.9Z"/>
<path d="M104.4,396.2L110.5,497.3L116.6,496.1L110.4,395.1Z"/>
<path d="M488.1,257.0L494.2,401.5L500.3,395.6L494.2,253.4Z"/>
<path d="M591.6,256.5L597.7,258.0L603.8,253.9L597.7,252.3Z"/>
<path d="M104.3,393.5L110.4,395.1L116.5,401.1L110.4,399.5Z"/>
<path d="M518.6,400.2L524.7,401.7L530.8,395.8L524.7,394.3Z"/>
<path d="M457.6,255.7L463.7,257.2L469.8,252.5L463.7,250.9Z"/>
<path d="M451.5,135.6L457.6,137.1L463.7,132.5L457.6,131.0Z"/>
<path d="M549.0,378.1L555.1,275.8L561.2,271.7L555.1,372.2Z"/>
<path d="M603.8,253.9L609.9,255.4L616.0,251.2L609.9,249.7Z"/>
<path d="M469.8,252.5L475.9,254.0L482.0,250.3L475.9,248.8Z"/>
<path d="M463.7,132.5L469.8,134.0L475.8,130.6L469.7,129.0Z"/>
<path d="M366.2,176.1L372.3,177.6L378.4,181.8L372.3,180.2Z"/>
<path d="M92.2,393.1L98.3,394.6L104.3,393.5L98.2,392.0Z"/>
<path d="M616.0,251.2L622.1,252.7L628.2,248.6L622.1,247.0Z"/>
<path d="M482.0,250.3L488.1,251.9L494.2,248.6L488.1,247.0Z"/>
<path d="M476.0,416.0L482.1,417.5L488.1,414.8L482.0,413.3Z"/>
<path d="M494.2,248.6L500.3,250.1L506.3,246.8L500.2,245.3Z"/>
<path d="M414.9,198.8L421.0,152.6L427.1,147.9L421.0,203.8Z"/>
<path d="M488.1,414.8L494.2,416.3L500.3,410.4L494.2,408.9Z"/>
<path d="M457.6,143.3L463.7,250.9L469.8,247.3L463.7,138.7Z"/>
<path d="M100.7,499.2L106.8,500.8L110.5,500.1L104.4,498.5Z"/>
<path d="M165.3,497.5L171.4,360.6L177.5,375.9L171.4,496.3Z"/>
<path d="M500.3,410.4L506.4,412.0L512.5,406.1L506.4,404.5Z"/>
<path d="M396.7,189.0L402.8,190.5L408.9,194.6L402.8,193.1Z"/>
<path d="M134.9,500.7L141.0,502.3L147.0,501.1L140.9,499.5Z"/>
<path d="M122.7,500.4L128.8,501.9L134.9,500.7L128.8,499.2Z"/>
<path d="M573.4,263.3L579.5,264.9L585.6,260.7L579.4,259.1Z"/>
<path d="M110.5,500.1L116.6,501.6L122.7,500.4L116.6,498.9Z"/>
<path d="M433.2,143.3L439.3,144.8L445.4,140.2L439.3,138.7Z"/>
<path d="M512.5,406.1L518.6,407.6L524.7,401.7L518.6,400.2Z"/>
<path d="M335.8,310.6L341.9,162.1L348.0,165.9L341.9,305.6Z"/>
<path d="M482.0,261.8L488.1,407.4L494.2,401.5L488.1,257.0Z"/>
<path d="M585.6,260.7L591.7,262.2L597.7,258.0L591.6,256.5Z"/>
<path d="M451.5,260.5L457.6,262.0L463.7,257.2L457.6,255.7Z"/>
<path d="M445.4,140.2L451.5,141.8L457.6,137.1L451.5,135.6Z"/>
<path d="M384.5,183.3L390.6,184.8L396.7,189.0L390.6,187.4Z"/>
<path d="M542.9,384.0L549.0,280.6L555.1,275.8L549.0,378.1Z"/>
<path d="M98.3,397.3L104.4,498.5L110.5,497.3L104.4,396.2Z"/>
<path d="M597.7,258.0L603.8,259.6L609.9,255.4L603.8,253.9Z"/>
<path d="M463.7,257.2L469.8,258.8L475.9,254.0L469.8,252.5Z"/>
<path d="M457.6,137.1L463.7,138.7L469.8,134.0L463.7,132.5Z"/>
<path d="M98.3,499.7L104.4,501.2L106.8,500.8L100.7,499.2Z"/>
<path d="M609.9,255.4L616.0,256.9L622.1,252.7L616.0,251.2Z"/>
<path d="M475.9,254.0L482.0,255.5L488.1,251.9L482.0,250.3Z"/>
<path d="M372.3,177.6L378.4,179.2L384.5,183.3L378.4,181.8Z"/>
<path d="M98.3,394.6L104.4,396.2L110.4,395.1L104.3,393.5Z"/>
<path d="M86.1,394.2L92.2,395.7L98.3,394.6L92.2,393.1Z"/>
<path d="M488.1,251.9L494.2,253.4L500.3,250.1L494.2,248.6Z"/>
<path d="M469.9,418.0L476.0,419.5L482.1,417.5L476.0,416.0Z"/>
<path d="M482.1,417.5L488.2,419.1L494.2,416.3L488.1,414.8Z"/>
<path d="M408.9,194.6L415.0,158.7L421.0,152.6L414.9,198.8Z"/>
<path d="M451.5,147.9L457.6,255.7L463.7,250.9L457.6,143.3Z"/>
<path d="M360.1,172.4L366.2,173.9L372.3,177.6L366.2,176.1Z"/>
<path d="M494.2,416.3L500.3,417.9L506.4,412.0L500.3,410.4Z"/>
<path d="M106.8,500.8L112.9,502.3L116.6,501.6L110.5,500.1Z"/>
<path d="M506.4,412.0L512.5,413.5L518.6,407.6L512.5,406.1Z"/>
<path d="M427.1,147.9L433.2,149.5L439.3,144.8L433.2,143.3Z"/>
<path d="M567.3,267.5L573.4,269.0L579.5,264.9L573.4,263.3Z"/>
<path d="M475.9,266.6L482.0,413.3L488.1,407.4L482.0,261.8Z"/>
<path d="M622.1,252.7L628.2,232.1L634.3,228.3L628.2,248.6Z"/>
<path d="M445.4,265.3L451.6,266.8L457.6,262.0L451.5,260.5Z"/>
<path d="M128.8,501.9L134.9,503.4L141.0,502.3L134.9,500.7Z"/>
<path d="M579.5,264.9L585.6,266.4L591.7,262.2L585.6,260.7Z"/>
<path d="M116.6,501.6L122.7,503.1L128.8,501.9L122.7,500.4Z"/>
<path d="M536.9,389.9L543.0,285.4L549.0,280.6L542.9,384.0Z"/>
<path d="M439.3,144.8L445.4,146.4L451.5,141.8L445.4,140.2Z"/>
<path d="M159.2,498.7L165.3,362.1L171.4,360.6L165.3,497.5Z"/>
<path d="M94.6,397.9L100.7,499.2L104.4,498.5L98.3,397.3Z"/>
<path d="M591.7,262.2L597.8,263.7L603.8,259.6L597.7,258.0Z"/>
<path d="M329.7,315.5L335.8,157.7L341.9,162.1L335.8,310.6Z"/>
<path d="M457.6,262.0L463.7,263.5L469.8,258.8L463.7,257.2Z"/>
<path d="M451.5,141.8L457.6,143.3L463.7,138.7L457.6,137.1Z"/>
<path d="M390.6,184.8L396.7,186.4L402.8,190.5L396.7,189.0Z"/>
<path d="M603.8,259.6L609.9,261.1L616.0,256.9L609.9,255.4Z"/>
<path d="M183.6,375.9L189.7,377.4L195.7,377.4L189.6,375.9Z"/>
<path d="M469.8,258.8L475.9,260.3L482.0,255.5L475.9,254.0Z"/>
<path d="M82.4,394.9L88.5,396.4L92.2,395.7L86.1,394.2Z"/>
<path d="M104.4,501.2L110.5,502.8L112.9,502.3L106.8,500.8Z"/>
<path d="M482.0,255.5L488.1,257.0L494.2,253.4L488.1,251.9Z"/>
<path d="M378.4,179.2L384.5,180.7L390.6,184.8L384.5,183.3Z"/>
<path d="M92.2,395.7L98.3,397.3L104.4,396.2L98.3,394.6Z"/>
<path d="M463.8,420.0L469.9,421.5L476.0,419.5L469.9,418.0Z"/>
<path d="M445.4,152.5L451.5,260.5L457.6,255.7L451.5,147.9Z"/>
<path d="M476.0,419.5L482.1,421.1L488.2,419.1L482.1,417.5Z"/>
<path d="M92.2,399.7L98.3,499.7L100.7,499.2L94.6,397.9Z"/>
<path d="M488.2,419.1L494.3,420.6L500.3,417.9L494.2,416.3Z"/>
<path d="M402.8,190.5L408.9,164.9L415.0,158.7L408.9,194.6Z"/>
<path d="M366.2,173.9L372.3,175.4L378.4,179.2L372.3,177.6Z"/>
<path d="M500.3,417.9L506.4,419.4L512.5,413.5L506.4,412.0Z"/>
<path d="M421.0,152.6L427.1,154.1L433.2,149.5L427.1,147.9Z"/>
<path d="M80.0,396.6L86.1,398.2L88.5,396.4L82.4,394.9Z"/>
<path d="M561.2,271.7L567.3,273.2L573.4,269.0L567.3,267.5Z"/>
<path d="M469.9,271.4L476.0,416.0L482.0,413.3L475.9,266.6Z"/>
<path d="M112.9,502.3L119.0,503.8L122.7,503.1L116.6,501.6Z"/>
<path d="M530.8,395.8L536.9,290.3L543.0,285.4L536.9,389.9Z"/>
<path d="M439.4,270.1L445.5,271.6L451.6,266.8L445.4,265.3Z"/>
<path d="M616.0,256.9L622.1,235.9L628.2,232.1L622.1,252.7Z"/>
<path d="M433.2,149.5L439.3,151.0L445.4,146.4L439.3,144.8Z"/>
<path d="M573.4,269.0L579.5,270.6L585.6,266.4L579.5,264.9Z"/>
<path d="M354.0,169.2L360.1,170.7L366.2,173.9L360.1,172.4Z"/>
<path d="M451.6,266.8L457.7,268.3L463.7,263.5L457.6,262.0Z"/>
<path d="M585.6,266.4L591.7,267.9L597.8,263.7L591.7,262.2Z"/>
<path d="M122.7,503.1L128.8,504.6L134.9,503.4L128.8,501.9Z"/>
<path d="M445.4,146.4L451.5,147.9L457.6,143.3L451.5,141.8Z"/>
<path d="M153.1,499.9L159.2,363.7L165.3,362.1L159.2,498.7Z"/>
<path d="M597.8,263.7L603.9,265.3L609.9,261.1L603.8,259.6Z"/>
<path d="M463.7,263.5L469.8,265.1L475.9,260.3L469.8,258.8Z"/>
<path d="M323.6,320.5L329.7,153.3L335.8,157.7L329.7,315.5Z"/>
<path d="M189.7,377.4L195.8,378.9L201.8,378.9L195.7,377.4Z"/>
<path d="M475.9,260.3L482.0,261.8L488.1,257.0L482.0,255.5Z"/>
<path d="M88.5,396.4L94.6,397.9L98.3,397.3L92.2,395.7Z"/>
<path d="M177.5,375.9L183.6,377.4L189.7,377.4L183.6,375.9Z"/>
<path d="M110.5,502.8L116.6,504.3L119.0,503.8L112.9,502.3Z"/>
<path d="M439.3,157.2L445.4,265.3L451.5,260.5L445.4,152.5Z"/>
<path d="M384.5,180.7L390.6,182.2L396.7,186.4L390.6,184.8Z"/>
<path d="M628.2,232.1L634.3,233.6L640.4,229.8L634.3,228.3Z"/>
<path d="M457.7,422.0L463.8,423.5L469.9,421.5L463.8,420.0Z"/>
<path d="M469.9,421.5L476.0,423.1L482.1,421.1L476.0,419.5Z"/>
<path d="M482.1,421.1L488.2,422.6L494.3,420.6L488.2,419.1Z"/>
<path d="M494.3,420.6L500.4,422.1L506.4,419.4L500.3,417.9Z"/>
<path d="M415.0,158.7L421.1,160.2L427.1,154.1L421.0,152.6Z"/>
<path d="M555.1,275.8L561.2,277.4L567.3,273.2L561.2,271.7Z"/>
<path d="M396.7,186.4L402.8,171.1L408.9,164.9L402.8,190.5Z"/>
<path d="M372.3,175.4L378.4,177.0L384.5,180.7L378.4,179.2Z"/>
<path d="M524.7,401.7L530.8,295.1L536.9,290.3L530.8,395.8Z"/>
<path d="M463.8,276.2L469.9,418.0L476.0,416.0L469.9,271.4Z"/>
<path d="M433.3,274.8L439.4,276.4L445.5,271.6L439.4,270.1Z"/>
<path d="M427.1,154.1L433.2,155.6L439.3,151.0L433.2,149.5Z"/>
<path d="M609.9,261.1L616.0,239.8L622.1,235.9L616.0,256.9Z"/>
<path d="M86.1,398.2L92.2,399.7L94.6,397.9L88.5,396.4Z"/>
<path d="M567.3,273.2L573.4,274.7L579.5,270.6L573.4,269.0Z"/>
<path d="M119.0,503.8L125.1,505.4L128.8,504.6L122.7,503.1Z"/>
<path d="M445.5,271.6L451.6,273.1L457.7,268.3L451.6,266.8Z"/>
<path d="M439.3,151.0L445.4,152.5L451.5,147.9L445.4,146.4Z"/>
<path d="M579.5,270.6L585.6,272.1L591.7,267.9L585.6,266.4Z"/>
<path d="M360.1,170.7L366.2,172.2L372.3,175.4L366.2,173.9Z"/>
<path d="M457.7,268.3L463.8,269.9L469.8,265.1L463.7,263.5Z"/>
<path d="M591.7,267.9L597.8,269.4L603.9,265.3L597.8,263.7Z"/>
<path d="M348.0,165.9L354.1,167.5L360.1,170.7L354.0,169.2Z"/>
<path d="M469.8,265.1L475.9,266.6L482.0,261.8L475.9,260.3Z"/>
<path d="M433.3,163.3L439.4,270.1L445.4,265.3L439.3,157.2Z"/>
<path d="M317.5,325.5L323.6,148.9L329.7,153.3L323.6,320.5Z"/>
<path d="M195.8,378.9L201.9,380.5L207.9,380.5L201.8,378.9Z"/>
<path d="M183.6,377.4L189.7,378.9L195.8,378.9L189.7,377.4Z"/>
<path d="M116.6,504.3L122.7,505.8L125.1,505.4L119.0,503.8Z"/>
<path d="M622.1,235.9L628.2,237.5L634.3,233.6L628.2,232.1Z"/>
<path d="M408.9,164.9L415.0,166.4L421.1,160.2L415.0,158.7Z"/>
<path d="M451.6,424.0L457.7,425.5L463.8,423.5L457.7,422.0Z"/>
<path d="M634.3,233.6L640.4,235.2L646.5,231.3L640.4,229.8Z"/>
<path d="M463.8,423.5L469.9,425.1L476.0,423.1L469.9,421.5Z"/>
<path d="M476.0,423.1L482.1,424.6L488.2,422.6L482.1,421.1Z"/>
<path d="M518.6,407.6L524.7,300.0L530.8,295.1L524.7,401.7Z"/>
<path d="M549.0,280.6L555.1,282.1L561.2,277.4L555.1,275.8Z"/>
<path d="M488.2,422.6L494.3,424.1L500.4,422.1L494.3,420.6Z"/>
<path d="M427.2,279.6L433.3,281.1L439.4,276.4L433.3,274.8Z"/>
<path d="M421.1,160.2L427.2,161.8L433.2,155.6L427.1,154.1Z"/>
<path d="M457.7,281.0L463.8,420.0L469.9,418.0L463.8,276.2Z"/>
<path d="M603.9,265.3L610.0,243.5L616.0,239.8L609.9,261.1Z"/>
<path d="M561.2,277.4L567.3,278.9L573.4,274.7L567.3,273.2Z"/>
<path d="M378.4,177.0L384.5,178.5L390.6,182.2L384.5,180.7Z"/>
<path d="M390.6,182.2L396.7,177.2L402.8,171.1L396.7,186.4Z"/>
<path d="M439.4,276.4L445.5,277.9L451.6,273.1L445.5,271.6Z"/>
<path d="M171.4,360.6L177.5,362.2L183.6,377.4L177.5,375.9Z"/>
<path d="M433.2,155.6L439.3,157.2L445.4,152.5L439.3,151.0Z"/>
<path d="M573.4,274.7L579.5,276.3L585.6,272.1L579.5,270.6Z"/>
<path d="M451.6,273.1L457.7,274.6L463.8,269.9L457.7,268.3Z"/>
<path d="M585.6,272.1L591.7,273.6L597.8,269.4L591.7,267.9Z"/>
<path d="M366.2,172.2L372.3,173.7L378.4,177.0L372.3,175.4Z"/>
<path d="M463.8,269.9L469.9,271.4L475.9,266.6L469.8,265.1Z"/>
<path d="M427.2,169.5L433.3,274.8L439.4,270.1L433.3,163.3Z"/>
<path d="M354.1,167.5L360.2,169.0L366.2,172.2L360.1,170.7Z"/>
<path d="M402.8,171.1L408.9,172.6L415.0,166.4L408.9,164.9Z"/>
<path d="M616.0,239.8L622.1,241.3L628.2,237.5L622.1,235.9Z"/>
<path d="M201.9,380.5L208.0,382.0L214.0,382.0L207.9,380.5Z"/>
<path d="M311.4,330.2L317.6,144.4L323.6,148.9L317.5,325.5Z"/>
<path d="M512.5,413.5L518.6,304.9L524.7,300.0L518.6,407.6Z"/>
<path d="M341.9,162.1L348.0,163.7L354.1,167.5L348.0,165.9Z"/>
<path d="M189.7,378.9L195.8,380.5L201.9,380.5L195.8,378.9Z"/>
<path d="M628.2,237.5L634.3,239.0L640.4,235.2L634.3,233.6Z"/>
<path d="M415.0,166.4L421.1,167.9L427.2,161.8L421.1,160.2Z"/>
<path d="M543.0,285.4L549.1,287.0L555.1,282.1L549.0,280.6Z"/>
<path d="M421.1,284.4L427.2,285.9L433.3,281.1L427.2,279.6Z"/>
<path d="M445.6,426.0L451.7,427.5L457.7,425.5L451.6,424.0Z"/>
<path d="M457.7,425.5L463.8,427.0L469.9,425.1L463.8,423.5Z"/>
<path d="M640.4,235.2L646.5,236.7L652.6,232.9L646.5,231.3Z"/>
<path d="M469.9,425.1L476.0,426.6L482.1,424.6L476.0,423.1Z"/>
<path d="M482.1,424.6L488.2,426.1L494.3,424.1L488.2,422.6Z"/>
<path d="M451.6,285.7L457.7,422.0L463.8,420.0L457.7,281.0Z"/>
<path d="M555.1,282.1L561.2,283.6L567.3,278.9L561.2,277.4Z"/>
<path d="M597.8,269.4L603.9,247.3L610.0,243.5L603.9,265.3Z"/>
<path d="M433.3,281.1L439.4,282.7L445.5,277.9L439.4,276.4Z"/>
<path d="M427.2,161.8L433.3,163.3L439.3,157.2L433.2,155.6Z"/>
<path d="M567.3,278.9L573.4,280.4L579.5,276.3L573.4,274.7Z"/>
<path d="M445.5,277.9L451.6,279.4L457.7,274.6L451.6,273.1Z"/>
<path d="M384.5,178.5L390.6,183.4L396.7,177.2L390.6,182.2Z"/>
<path d="M177.5,362.2L183.6,363.7L189.7,378.9L183.6,377.4Z"/>
<path d="M579.5,276.3L585.6,277.8L591.7,273.6L585.6,272.1Z"/>
<path d="M457.7,274.6L463.8,276.2L469.9,271.4L463.8,269.9Z"/>
<path d="M421.1,175.6L427.2,279.6L433.3,274.8L427.2,169.5Z"/>
<path d="M372.3,173.7L378.4,175.3L384.5,178.5L378.4,177.0Z"/>
<path d="M396.7,177.2L402.8,178.8L408.9,172.6L402.8,171.1Z"/>
<path d="M360.2,169.0L366.3,170.5L372.3,173.7L366.2,172.2Z"/>
<path d="M165.3,362.1L171.4,363.7L177.5,362.2L171.4,360.6Z"/>
<path d="M506.4,419.4L512.6,309.9L518.6,304.9L512.5,413.5Z"/>
<path d="M610.0,243.5L616.1,245.1L622.1,241.3L616.0,239.8Z"/>
<path d="M408.9,172.6L415.0,174.1L421.1,167.9L415.0,166.4Z"/>
<path d="M536.9,290.3L543.0,291.8L549.1,287.0L543.0,285.4Z"/>
<path d="M622.1,241.3L628.2,242.8L634.3,239.0L628.2,237.5Z"/>
<path d="M415.0,289.2L421.1,290.7L427.2,285.9L421.1,284.4Z"/>
<path d="M348.0,163.7L354.1,165.2L360.2,169.0L354.1,167.5Z"/>
<path d="M195.8,380.5L201.9,382.0L208.0,382.0L201.9,380.5Z"/>
<path d="M305.4,334.9L311.5,141.4L317.6,144.4L311.4,330.2Z"/>
<path d="M634.3,239.0L640.4,240.5L646.5,236.7L640.4,235.2Z"/>
<path d="M421.1,167.9L427.2,169.5L433.3,163.3L427.2,161.8Z"/>
<path d="M549.1,287.0L555.2,288.5L561.2,283.6L555.1,282.1Z"/>
<path d="M427.2,285.9L433.3,287.5L439.4,282.7L433.3,281.1Z"/>
<path d="M439.5,428.0L445.6,429.5L451.7,427.5L445.6,426.0Z"/>
<path d="M591.7,273.6L597.8,251.0L603.9,247.3L597.8,269.4Z"/>
<path d="M445.5,290.5L451.6,424.0L457.7,422.0L451.6,285.7Z"/>
<path d="M451.7,427.5L457.8,429.0L463.8,427.0L457.7,425.5Z"/>
<path d="M463.8,427.0L469.9,428.6L476.0,426.6L469.9,425.1Z"/>
<path d="M646.5,236.7L652.6,238.2L658.7,234.4L652.6,232.9Z"/>
<path d="M476.0,426.6L482.1,428.1L488.2,426.1L482.1,424.6Z"/>
<path d="M561.2,283.6L567.3,285.2L573.4,280.4L567.3,278.9Z"/>
<path d="M439.4,282.7L445.5,284.2L451.6,279.4L445.5,277.9Z"/>
<path d="M335.8,157.7L341.9,159.3L348.0,163.7L341.9,162.1Z"/>
<path d="M208.0,382.0L214.1,369.0L220.1,367.9L214.0,382.0Z"/>
<path d="M573.4,280.4L579.5,282.0L585.6,277.8L579.5,276.3Z"/>
<path d="M415.0,181.8L421.1,284.4L427.2,279.6L421.1,175.6Z"/>
<path d="M451.6,279.4L457.7,281.0L463.8,276.2L457.7,274.6Z"/>
<path d="M378.4,175.3L384.6,189.6L390.6,183.4L384.5,178.5Z"/>
<path d="M390.6,183.4L396.7,184.9L402.8,178.8L396.7,177.2Z"/>
<path d="M183.6,363.7L189.7,365.2L195.8,380.5L189.7,378.9Z"/>
<path d="M652.6,238.2L658.7,266.8L664.8,260.4L658.7,234.4Z"/>
<path d="M402.8,178.8L408.9,180.3L415.0,174.1L408.9,172.6Z"/>
<path d="M500.4,422.1L506.5,315.0L512.6,309.9L506.4,419.4Z"/>
<path d="M603.9,247.3L610.0,248.8L616.1,245.1L610.0,243.5Z"/>
<path d="M530.8,295.1L536.9,296.7L543.0,291.8L536.9,290.3Z"/>
<path d="M366.3,170.5L372.4,172.1L378.4,175.3L372.3,173.7Z"/>
<path d="M409.0,294.0L415.1,295.5L421.1,290.7L415.0,289.2Z"/>
<path d="M159.2,363.7L165.3,365.2L171.4,363.7L165.3,362.1Z"/>
<path d="M171.4,363.7L177.5,365.2L183.6,363.7L177.5,362.2Z"/>
<path d="M616.1,245.1L622.2,246.6L628.2,242.8L622.1,241.3Z"/>
<path d="M415.0,174.1L421.1,175.6L427.2,169.5L421.1,167.9Z"/>
<path d="M122.7,505.8L128.8,488.2L131.2,360.7L125.1,505.4Z"/>
<path d="M543.0,291.8L549.1,293.4L555.2,288.5L549.1,287.0Z"/>
<path d="M628.2,242.8L634.3,244.3L640.4,240.5L634.3,239.0Z"/>
<path d="M421.1,290.7L427.2,292.2L433.3,287.5L427.2,285.9Z"/>
<path d="M585.6,277.8L591.7,254.7L597.8,251.0L591.7,273.6Z"/>
<path d="M658.7,266.8L664.8,268.3L670.9,261.9L664.8,260.4Z"/>
<path d="M354.1,165.2L360.2,166.7L366.3,170.5L360.2,169.0Z"/>
<path d="M439.4,295.3L445.6,426.0L451.6,424.0L445.5,290.5Z"/>
<path d="M299.3,339.6L305.4,139.3L311.5,141.4L305.4,334.9Z"/>
<path d="M640.4,240.5L646.5,242.1L652.6,238.2L646.5,236.7Z"/>
<path d="M555.2,288.5L561.3,290.0L567.3,285.2L561.2,283.6Z"/>
<path d="M433.4,430.0L439.5,431.5L445.6,429.5L439.5,428.0Z"/>
<path d="M433.3,287.5L439.4,289.0L445.5,284.2L439.4,282.7Z"/>
<path d="M445.6,429.5L451.7,431.0L457.8,429.0L451.7,427.5Z"/>
<path d="M457.8,429.0L463.9,430.6L469.9,428.6L463.8,427.0Z"/>
<path d="M469.9,428.6L476.0,430.1L482.1,428.1L476.0,426.6Z"/>
<path d="M408.9,188.0L415.0,289.2L421.1,284.4L415.0,181.8Z"/>
<path d="M567.3,285.2L573.4,286.7L579.5,282.0L573.4,280.4Z"/>
<path d="M384.6,189.6L390.7,191.1L396.7,184.9L390.6,183.4Z"/>
<path d="M445.5,284.2L451.6,285.7L457.7,281.0L451.6,279.4Z"/>
<path d="M341.9,159.3L348.0,160.8L354.1,165.2L348.0,163.7Z"/>
<path d="M201.9,382.0L208.0,370.1L214.1,369.0L208.0,382.0Z"/>
<path d="M372.4,172.1L378.5,195.7L384.6,189.6L378.4,175.3Z"/>
<path d="M646.5,242.1L652.6,273.1L658.7,266.8L652.6,238.2Z"/>
<path d="M396.7,184.9L402.8,186.5L408.9,180.3L402.8,178.8Z"/>
<path d="M189.7,365.2L195.8,366.8L201.9,382.0L195.8,380.5Z"/>
<path d="M329.7,153.3L335.8,154.8L341.9,159.3L335.8,157.7Z"/>
<path d="M494.3,424.1L500.4,320.1L506.5,315.0L500.4,422.1Z"/>
<path d="M524.7,300.0L530.8,301.5L536.9,296.7L530.8,295.1Z"/>
<path d="M214.1,369.0L220.2,370.5L226.2,369.4L220.1,367.9Z"/>
<path d="M408.9,180.3L415.0,181.8L421.1,175.6L415.0,174.1Z"/>
<path d="M597.8,251.0L603.9,252.5L610.0,248.8L603.9,247.3Z"/>
<path d="M402.9,298.7L409.0,300.3L415.1,295.5L409.0,294.0Z"/>
<path d="M610.0,248.8L616.1,250.3L622.2,246.6L616.1,245.1Z"/>
<path d="M536.9,296.7L543.0,298.2L549.1,293.4L543.0,291.8Z"/>
<path d="M652.6,273.1L658.7,274.7L664.8,268.3L658.7,266.8Z"/>
<path d="M415.1,295.5L421.2,297.0L427.2,292.2L421.1,290.7Z"/>
<path d="M153.1,365.2L159.2,366.7L165.3,365.2L159.2,363.7Z"/>
<path d="M165.3,365.2L171.4,366.7L177.5,365.2L171.4,363.7Z"/>
<path d="M177.5,365.2L183.6,366.7L189.7,365.2L183.6,363.7Z"/>
<path d="M622.2,246.6L628.3,248.1L634.3,244.3L628.2,242.8Z"/>
<path d="M579.5,282.0L585.6,258.5L591.7,254.7L585.6,277.8Z"/>
<path d="M549.1,293.4L555.2,294.9L561.3,290.0L555.2,288.5Z"/>
<path d="M634.3,244.3L640.4,245.9L646.5,242.1L640.4,240.5Z"/>
<path d="M427.2,292.2L433.3,293.8L439.4,289.0L433.3,287.5Z"/>
<path d="M433.4,300.1L439.5,428.0L445.6,426.0L439.4,295.3Z"/>
<path d="M664.8,268.3L670.9,269.8L677.0,263.5L670.9,261.9Z"/>
<path d="M402.9,194.2L409.0,294.0L415.0,289.2L408.9,188.0Z"/>
<path d="M378.5,195.7L384.6,197.3L390.7,191.1L384.6,189.6Z"/>
<path d="M360.2,166.7L366.3,168.3L372.4,172.1L366.3,170.5Z"/>
<path d="M427.3,432.0L433.4,433.5L439.5,431.5L433.4,430.0Z"/>
<path d="M293.2,344.4L299.3,137.3L305.4,139.3L299.3,339.6Z"/>
<path d="M561.3,290.0L567.4,291.6L573.4,286.7L567.3,285.2Z"/>
<path d="M439.5,431.5L445.6,433.0L451.7,431.0L445.6,429.5Z"/>
<path d="M439.4,289.0L445.5,290.5L451.6,285.7L445.5,284.2Z"/>
<path d="M451.7,431.0L457.8,432.6L463.9,430.6L457.8,429.0Z"/>
<path d="M463.9,430.6L470.0,432.1L476.0,430.1L469.9,428.6Z"/>
<path d="M390.7,191.1L396.8,192.6L402.8,186.5L396.7,184.9Z"/>
<path d="M640.4,245.9L646.6,279.5L652.6,273.1L646.5,242.1Z"/>
<path d="M348.0,160.8L354.1,162.3L360.2,166.7L354.1,165.2Z"/>
<path d="M366.3,168.3L372.4,201.9L378.5,195.7L372.4,172.1Z"/>
<path d="M402.8,186.5L408.9,188.0L415.0,181.8L408.9,180.3Z"/>
<path d="M518.6,304.9L524.7,306.4L530.8,301.5L524.7,300.0Z"/>
<path d="M488.2,426.1L494.3,325.1L500.4,320.1L494.3,424.1Z"/>
<path d="M396.8,303.5L402.9,305.1L409.0,300.3L402.9,298.7Z"/>
<path d="M335.8,154.8L341.9,156.4L348.0,160.8L341.9,159.3Z"/>
<path d="M591.7,254.7L597.8,256.3L603.9,252.5L597.8,251.0Z"/>
<path d="M195.8,366.8L201.9,370.7L208.0,370.1L201.9,382.0Z"/>
<path d="M646.6,279.5L652.7,281.0L658.7,274.7L652.6,273.1Z"/>
<path d="M530.8,301.5L536.9,303.1L543.0,298.2L536.9,296.7Z"/>
<path d="M220.2,370.5L226.3,372.1L232.3,371.0L226.2,369.4Z"/>
<path d="M603.9,252.5L610.0,254.1L616.1,250.3L610.0,248.8Z"/>
<path d="M208.0,370.1L214.1,371.7L220.2,370.5L214.1,369.0Z"/>
<path d="M409.0,300.3L415.1,301.8L421.2,297.0L415.1,295.5Z"/>
<path d="M616.1,250.3L622.2,251.9L628.3,248.1L622.2,246.6Z"/>
<path d="M543.0,298.2L549.1,299.7L555.2,294.9L549.1,293.4Z"/>
<path d="M573.4,286.7L579.6,263.2L585.6,258.5L579.5,282.0Z"/>
<path d="M658.7,274.7L664.8,276.2L670.9,269.8L664.8,268.3Z"/>
<path d="M323.6,148.9L329.7,150.4L335.8,154.8L329.7,153.3Z"/>
<path d="M421.2,297.0L427.3,298.6L433.3,293.8L427.2,292.2Z"/>
<path d="M159.2,366.7L165.3,368.2L171.4,366.7L165.3,365.2Z"/>
<path d="M171.4,366.7L177.5,368.2L183.6,366.7L177.5,365.2Z"/>
<path d="M183.6,366.7L189.7,368.3L195.8,366.8L189.7,365.2Z"/>
<path d="M372.4,201.9L378.5,203.5L384.6,197.3L378.5,195.7Z"/>
<path d="M396.8,200.3L402.9,298.7L409.0,294.0L402.9,194.2Z"/>
<path d="M628.3,248.1L634.4,249.6L640.4,245.9L634.3,244.3Z"/>
<path d="M427.3,304.9L433.4,430.0L439.5,428.0L433.4,300.1Z"/>
<path d="M555.2,294.9L561.3,296.4L567.4,291.6L561.3,290.0Z"/>
<path d="M433.3,293.8L439.4,295.3L445.5,290.5L439.4,289.0Z"/>
<path d="M384.6,197.3L390.7,198.8L396.8,192.6L390.7,191.1Z"/>
<path d="M147.1,356.8L153.2,358.3L159.2,366.7L153.1,365.2Z"/>
<path d="M421.2,434.0L427.3,435.5L433.4,433.5L427.3,432.0Z"/>
<path d="M433.4,433.5L439.5,435.0L445.6,433.0L439.5,431.5Z"/>
<path d="M287.1,349.1L293.2,135.2L299.3,137.3L293.2,344.4Z"/>
<path d="M445.6,433.0L451.7,434.6L457.8,432.6L451.7,431.0Z"/>
<path d="M457.8,432.6L463.9,434.1L470.0,432.1L463.9,430.6Z"/>
<path d="M634.4,249.6L640.5,283.9L646.6,279.5L640.4,245.9Z"/>
<path d="M396.8,192.6L402.9,194.2L408.9,188.0L402.8,186.5Z"/>
<path d="M354.1,162.3L360.2,163.8L366.3,168.3L360.2,166.7Z"/>
<path d="M512.6,309.9L518.7,311.4L524.7,306.4L518.6,304.9Z"/>
<path d="M390.7,308.3L396.8,309.8L402.9,305.1L396.8,303.5Z"/>
<path d="M640.5,283.9L646.6,285.4L652.7,281.0L646.6,279.5Z"/>
<path d="M482.1,428.1L488.2,330.2L494.3,325.1L488.2,426.1Z"/>
<path d="M360.2,163.8L366.3,208.1L372.4,201.9L366.3,168.3Z"/>
<path d="M585.6,258.5L591.7,260.0L597.8,256.3L591.7,254.7Z"/>
<path d="M524.7,306.4L530.8,307.9L536.9,303.1L530.8,301.5Z"/>
<path d="M402.9,305.1L409.0,306.6L415.1,301.8L409.0,300.3Z"/>
<path d="M177.6,474.2L183.7,475.8L189.8,466.1L183.7,464.6Z"/>
<path d="M341.9,156.4L348.0,157.9L354.1,162.3L348.0,160.8Z"/>
<path d="M597.8,256.3L603.9,257.8L610.0,254.1L603.9,252.5Z"/>
<path d="M652.7,281.0L658.8,282.6L664.8,276.2L658.7,274.7Z"/>
<path d="M366.3,208.1L372.4,209.6L378.5,203.5L372.4,201.9Z"/>
<path d="M536.9,303.1L543.0,304.6L549.1,299.7L543.0,298.2Z"/>
<path d="M567.4,291.6L573.5,268.2L579.6,263.2L573.4,286.7Z"/>
<path d="M226.3,372.1L232.4,373.6L238.4,372.5L232.3,371.0Z"/>
<path d="M610.0,254.1L616.1,255.6L622.2,251.9L616.1,250.3Z"/>
<path d="M214.1,371.7L220.2,373.2L226.3,372.1L220.2,370.5Z"/>
<path d="M415.1,301.8L421.2,303.3L427.3,298.6L421.2,297.0Z"/>
<path d="M390.7,206.5L396.8,303.5L402.9,298.7L396.8,200.3Z"/>
<path d="M201.9,370.7L208.0,372.3L214.1,371.7L208.0,370.1Z"/>
<path d="M128.8,488.2L134.9,489.7L137.3,362.2L131.2,360.7Z"/>
<path d="M622.2,251.9L628.3,253.4L634.4,249.6L628.3,248.1Z"/>
<path d="M189.7,368.3L195.8,371.2L201.9,370.7L195.8,366.8Z"/>
<path d="M549.1,299.7L555.2,301.3L561.3,296.4L555.2,294.9Z"/>
<path d="M421.2,309.6L427.3,432.0L433.4,430.0L427.3,304.9Z"/>
<path d="M329.7,150.4L335.8,151.9L341.9,156.4L335.8,154.8Z"/>
<path d="M427.3,298.6L433.4,300.1L439.4,295.3L433.3,293.8Z"/>
<path d="M165.3,368.2L171.4,369.8L177.5,368.2L171.4,366.7Z"/>
<path d="M177.5,368.2L183.6,369.8L189.7,368.3L183.6,366.7Z"/>
<path d="M378.5,203.5L384.6,205.0L390.7,198.8L384.6,197.3Z"/>
<path d="M628.3,253.4L634.4,288.3L640.5,283.9L634.4,249.6Z"/>
<path d="M415.1,436.0L421.2,437.5L427.3,435.5L421.2,434.0Z"/>
<path d="M390.7,198.8L396.8,200.3L402.9,194.2L396.8,192.6Z"/>
<path d="M153.2,358.3L159.3,359.8L165.3,368.2L159.2,366.7Z"/>
<path d="M427.3,435.5L433.4,437.0L439.5,435.0L433.4,433.5Z"/>
<path d="M439.5,435.0L445.6,436.6L451.7,434.6L445.6,433.0Z"/>
<path d="M317.6,144.4L323.7,146.0L329.7,150.4L323.6,148.9Z"/>
<path d="M451.7,434.6L457.8,436.1L463.9,434.1L457.8,432.6Z"/>
<path d="M281.0,353.2L287.1,133.1L293.2,135.2L287.1,349.1Z"/>
<path d="M506.5,315.0L512.6,316.5L518.7,311.4L512.6,309.9Z"/>
<path d="M171.5,483.9L177.6,485.4L183.7,475.8L177.6,474.2Z"/>
<path d="M384.6,313.3L390.7,314.8L396.8,309.8L390.7,308.3Z"/>
<path d="M141.0,358.3L147.1,359.8L153.2,358.3L147.1,356.8Z"/>
<path d="M634.4,288.3L640.5,289.8L646.6,285.4L640.5,283.9Z"/>
<path d="M518.7,311.4L524.8,313.0L530.8,307.9L524.7,306.4Z"/>
<path d="M579.6,263.2L585.7,264.7L591.7,260.0L585.6,258.5Z"/>
<path d="M476.0,430.1L482.1,335.3L488.2,330.2L482.1,428.1Z"/>
<path d="M396.8,309.8L402.9,311.4L409.0,306.6L402.9,305.1Z"/>
<path d="M360.2,213.9L366.3,215.4L372.4,209.6L366.3,208.1Z"/>
<path d="M646.6,285.4L652.7,287.0L658.8,282.6L652.7,281.0Z"/>
<path d="M591.7,260.0L597.8,261.5L603.9,257.8L597.8,256.3Z"/>
<path d="M530.8,307.9L536.9,309.4L543.0,304.6L536.9,303.1Z"/>
<path d="M354.1,159.4L360.2,213.9L366.3,208.1L360.2,163.8Z"/>
<path d="M561.3,296.4L567.4,273.1L573.5,268.2L567.4,291.6Z"/>
<path d="M384.6,212.7L390.7,308.3L396.8,303.5L390.7,206.5Z"/>
<path d="M409.0,306.6L415.1,308.1L421.2,303.3L415.1,301.8Z"/>
<path d="M183.7,475.8L189.8,477.3L195.9,467.7L189.8,466.1Z"/>
<path d="M348.0,157.9L354.1,159.4L360.2,163.8L354.1,162.3Z"/>
<path d="M603.9,257.8L610.0,259.3L616.1,255.6L610.0,254.1Z"/>
<path d="M372.4,209.6L378.5,211.2L384.6,205.0L378.5,203.5Z"/>
<path d="M543.0,304.6L549.1,306.1L555.2,301.3L549.1,299.7Z"/>
<path d="M232.4,373.6L238.5,375.1L244.6,374.0L238.4,372.5Z"/>
<path d="M616.1,255.6L622.2,257.1L628.3,253.4L622.2,251.9Z"/>
<path d="M220.2,373.2L226.3,374.7L232.4,373.6L226.3,372.1Z"/>
<path d="M421.2,303.3L427.3,304.9L433.4,300.1L427.3,298.6Z"/>
<path d="M208.0,372.3L214.1,373.8L220.2,373.2L214.1,371.7Z"/>
<path d="M415.1,314.4L421.2,434.0L427.3,432.0L421.2,309.6Z"/>
<path d="M134.9,489.7L141.0,491.3L143.4,363.8L137.3,362.2Z"/>
<path d="M195.8,371.2L201.9,372.7L208.0,372.3L201.9,370.7Z"/>
<path d="M183.7,464.6L189.8,466.1L195.8,373.2L189.7,371.7Z"/>
<path d="M171.5,362.9L177.6,474.2L183.7,464.6L177.6,371.3Z"/>
<path d="M177.6,371.3L183.7,464.6L189.7,371.7L183.6,369.8Z"/>
<path d="M183.6,369.8L189.7,371.7L195.8,371.2L189.7,368.3Z"/>
<path d="M335.8,151.9L341.9,153.5L348.0,157.9L341.9,156.4Z"/>
<path d="M171.4,369.8L177.6,371.3L183.6,369.8L177.5,368.2Z"/>
<path d="M384.6,205.0L390.7,206.5L396.8,200.3L390.7,198.8Z"/>
<path d="M165.4,490.1L171.5,491.7L177.6,485.4L171.5,483.9Z"/>
<path d="M622.2,257.1L628.3,292.7L634.4,288.3L628.3,253.4Z"/>
<path d="M500.4,320.1L506.5,321.6L512.6,316.5L506.5,315.0Z"/>
<path d="M409.1,438.0L415.2,439.5L421.2,437.5L415.1,436.0Z"/>
<path d="M421.2,437.5L427.3,439.0L433.4,437.0L427.3,435.5Z"/>
<path d="M159.3,359.8L165.4,361.4L171.4,369.8L165.3,368.2Z"/>
<path d="M378.6,319.7L384.7,321.3L390.7,314.8L384.6,313.3Z"/>
<path d="M433.4,437.0L439.5,438.6L445.6,436.6L439.5,435.0Z"/>
<path d="M445.6,436.6L451.7,438.1L457.8,436.1L451.7,434.6Z"/>
<path d="M323.7,146.0L329.8,147.5L335.8,151.9L329.7,150.4Z"/>
<path d="M275.0,357.3L281.1,131.1L287.1,133.1L281.0,353.2Z"/>
<path d="M628.3,292.7L634.4,294.3L640.5,289.8L634.4,288.3Z"/>
<path d="M512.6,316.5L518.7,318.0L524.8,313.0L518.7,311.4Z"/>
<path d="M177.6,485.4L183.7,487.0L189.8,477.3L183.7,475.8Z"/>
<path d="M573.5,268.2L579.6,269.7L585.7,264.7L579.6,263.2Z"/>
<path d="M354.1,219.6L360.2,221.1L366.3,215.4L360.2,213.9Z"/>
<path d="M390.7,314.8L396.8,316.4L402.9,311.4L396.8,309.8Z"/>
<path d="M470.0,432.1L476.1,340.1L482.1,335.3L476.0,430.1Z"/>
<path d="M134.9,359.8L141.0,361.3L147.1,359.8L141.0,358.3Z"/>
<path d="M147.1,359.8L153.2,361.3L159.3,359.8L153.2,358.3Z"/>
<path d="M640.5,289.8L646.6,291.4L652.7,287.0L646.6,285.4Z"/>
<path d="M311.5,141.4L317.6,142.9L323.7,146.0L317.6,144.4Z"/>
<path d="M378.5,218.5L384.6,313.3L390.7,308.3L384.6,212.7Z"/>
<path d="M524.8,313.0L530.9,314.5L536.9,309.4L530.8,307.9Z"/>
<path d="M555.2,301.3L561.3,278.1L567.4,273.1L561.3,296.4Z"/>
<path d="M585.7,264.7L591.8,266.3L597.8,261.5L591.7,260.0Z"/>
<path d="M402.9,311.4L409.0,312.9L415.1,308.1L409.0,306.6Z"/>
<path d="M366.3,215.4L372.4,217.0L378.5,211.2L372.4,209.6Z"/>
<path d="M597.8,261.5L603.9,263.1L610.0,259.3L603.9,257.8Z"/>
<path d="M536.9,309.4L543.0,311.0L549.1,306.1L543.0,304.6Z"/>
<path d="M348.0,155.0L354.1,219.6L360.2,213.9L354.1,159.4Z"/>
<path d="M415.1,308.1L421.2,309.6L427.3,304.9L421.2,303.3Z"/>
<path d="M159.3,515.8L165.4,517.7L167.8,493.1L161.7,491.6Z"/>
<path d="M189.8,477.3L195.9,478.8L202.0,469.2L195.9,467.7Z"/>
<path d="M610.0,259.3L616.1,260.9L622.2,257.1L616.1,255.6Z"/>
<path d="M161.7,491.6L167.8,493.1L171.5,491.7L165.4,490.1Z"/>
<path d="M378.5,211.2L384.6,212.7L390.7,206.5L384.6,205.0Z"/>
<path d="M409.0,319.4L415.1,436.0L421.2,434.0L415.1,314.4Z"/>
<path d="M226.3,374.7L232.4,376.3L238.5,375.1L232.4,373.6Z"/>
<path d="M214.1,373.8L220.2,375.3L226.3,374.7L220.2,373.2Z"/>
<path d="M165.4,364.4L171.5,483.9L177.6,474.2L171.5,362.9Z"/>
<path d="M141.0,491.3L147.1,492.8L149.5,365.3L143.4,363.8Z"/>
<path d="M201.9,372.7L208.0,374.3L214.1,373.8L208.0,372.3Z"/>
<path d="M189.8,466.1L195.9,467.7L201.9,374.7L195.8,373.2Z"/>
<path d="M189.7,371.7L195.8,373.2L201.9,372.7L195.8,371.2Z"/>
<path d="M616.1,260.9L622.2,297.1L628.3,292.7L622.2,257.1Z"/>
<path d="M341.9,153.5L348.0,155.0L354.1,159.4L348.0,157.9Z"/>
<path d="M372.5,326.2L378.6,327.7L384.7,321.3L378.6,319.7Z"/>
<path d="M494.3,325.1L500.4,326.7L506.5,321.6L500.4,320.1Z"/>
<path d="M171.5,491.7L177.6,493.2L183.7,487.0L177.6,485.4Z"/>
<path d="M403.0,440.0L409.1,441.5L415.2,439.5L409.1,438.0Z"/>
<path d="M506.5,321.6L512.6,323.1L518.7,318.0L512.6,316.5Z"/>
<path d="M415.2,439.5L421.3,441.0L427.3,439.0L421.2,437.5Z"/>
<path d="M622.2,297.1L628.3,298.7L634.4,294.3L628.3,292.7Z"/>
<path d="M427.3,439.0L433.4,440.6L439.5,438.6L433.4,437.0Z"/>
<path d="M348.1,225.3L354.2,226.8L360.2,221.1L354.1,219.6Z"/>
<path d="M567.4,273.1L573.5,274.7L579.6,269.7L573.5,268.2Z"/>
<path d="M165.4,361.4L171.5,362.9L177.6,371.3L171.4,369.8Z"/>
<path d="M384.7,321.3L390.8,322.8L396.8,316.4L390.7,314.8Z"/>
<path d="M439.5,438.6L445.6,440.1L451.7,438.1L445.6,436.6Z"/>
<path d="M131.2,360.7L137.3,362.2L141.0,361.3L134.9,359.8Z"/>
<path d="M329.8,147.5L335.9,149.0L341.9,153.5L335.8,151.9Z"/>
<path d="M372.4,224.2L378.6,319.7L384.6,313.3L378.5,218.5Z"/>
<path d="M153.2,494.3L159.3,515.8L161.7,491.6L155.6,366.8Z"/>
<path d="M268.9,361.4L275.0,129.0L281.1,131.1L275.0,357.3Z"/>
<path d="M634.4,294.3L640.5,295.8L646.6,291.4L640.5,289.8Z"/>
<path d="M518.7,318.0L524.8,319.6L530.9,314.5L524.8,313.0Z"/>
<path d="M463.9,434.1L470.0,345.0L476.1,340.1L470.0,432.1Z"/>
<path d="M183.7,487.0L189.8,488.5L195.9,478.8L189.8,477.3Z"/>
<path d="M549.1,306.1L555.2,283.1L561.3,278.1L555.2,301.3Z"/>
<path d="M579.6,269.7L585.7,271.2L591.8,266.3L585.7,264.7Z"/>
<path d="M360.2,221.1L366.3,222.7L372.4,217.0L366.3,215.4Z"/>
<path d="M396.8,316.4L402.9,317.9L409.0,312.9L402.9,311.4Z"/>
<path d="M141.0,361.3L147.1,362.8L153.2,361.3L147.1,359.8Z"/>
<path d="M153.2,361.3L159.3,362.9L165.4,361.4L159.3,359.8Z"/>
<path d="M317.6,142.9L323.7,144.5L329.8,147.5L323.7,146.0Z"/>
<path d="M530.9,314.5L537.0,316.0L543.0,311.0L536.9,309.4Z"/>
<path d="M591.8,266.3L597.9,267.8L603.9,263.1L597.8,261.5Z"/>
<path d="M409.0,312.9L415.1,314.4L421.2,309.6L415.1,308.1Z"/>
<path d="M616.1,324.1L622.2,325.7L628.3,298.7L622.2,297.1Z"/>
<path d="M372.4,217.0L378.5,218.5L384.6,212.7L378.5,211.2Z"/>
<path d="M610.0,264.6L616.1,324.1L622.2,297.1L616.1,260.9Z"/>
<path d="M603.9,263.1L610.0,264.6L616.1,260.9L610.0,259.3Z"/>
<path d="M305.4,139.3L311.5,140.9L317.6,142.9L311.5,141.4Z"/>
<path d="M165.4,517.7L171.5,519.6L173.9,494.7L167.8,493.1Z"/>
<path d="M403.0,325.8L409.1,438.0L415.1,436.0L409.0,319.4Z"/>
<path d="M195.9,478.8L202.0,480.4L208.1,470.7L202.0,469.2Z"/>
<path d="M342.0,150.6L348.1,225.3L354.1,219.6L348.0,155.0Z"/>
<path d="M167.8,493.1L173.9,494.7L177.6,493.2L171.5,491.7Z"/>
<path d="M159.3,365.9L165.4,490.1L171.5,483.9L165.4,364.4Z"/>
<path d="M366.4,332.6L372.5,334.1L378.6,327.7L372.5,326.2Z"/>
<path d="M488.2,330.2L494.3,331.7L500.4,326.7L494.3,325.1Z"/>
<path d="M220.2,375.3L226.3,376.8L232.4,376.3L226.3,374.7Z"/>
<path d="M147.1,492.8L153.2,494.3L155.6,366.8L149.5,365.3Z"/>
<path d="M208.0,374.3L214.1,375.8L220.2,375.3L214.1,373.8Z"/>
<path d="M195.9,467.7L202.0,469.2L208.0,376.3L201.9,374.7Z"/>
<path d="M610.1,328.0L616.2,329.6L622.2,325.7L616.1,324.1Z"/>
<path d="M195.8,373.2L201.9,374.7L208.0,374.3L201.9,372.7Z"/>
<path d="M378.6,327.7L384.7,329.2L390.8,322.8L384.7,321.3Z"/>
<path d="M500.4,326.7L506.5,328.2L512.6,323.1L506.5,321.6Z"/>
<path d="M342.0,231.0L348.1,232.6L354.2,226.8L348.1,225.3Z"/>
<path d="M561.3,278.1L567.4,279.6L573.5,274.7L567.4,273.1Z"/>
<path d="M177.6,493.2L183.7,494.7L189.8,488.5L183.7,487.0Z"/>
<path d="M366.4,229.9L372.5,326.2L378.6,319.7L372.4,224.2Z"/>
<path d="M396.9,441.9L403.0,443.5L409.1,441.5L403.0,440.0Z"/>
<path d="M409.1,441.5L415.2,443.0L421.3,441.0L415.2,439.5Z"/>
<path d="M512.6,323.1L518.7,324.7L524.8,319.6L518.7,318.0Z"/>
<path d="M421.3,441.0L427.4,442.5L433.4,440.6L427.3,439.0Z"/>
<path d="M628.3,298.7L634.4,300.2L640.5,295.8L634.4,294.3Z"/>
<path d="M543.0,311.0L549.1,288.0L555.2,283.1L549.1,306.1Z"/>
<path d="M433.4,440.6L439.6,442.1L445.6,440.1L439.5,438.6Z"/>
<path d="M354.2,226.8L360.3,228.4L366.3,222.7L360.2,221.1Z"/>
<path d="M573.5,274.7L579.6,276.2L585.7,271.2L579.6,269.7Z"/>
<path d="M390.8,322.8L396.9,324.3L402.9,317.9L396.8,316.4Z"/>
<path d="M604.0,269.3L610.1,328.0L616.1,324.1L610.0,264.6Z"/>
<path d="M137.3,362.2L143.4,363.8L147.1,362.8L141.0,361.3Z"/>
<path d="M335.9,149.0L342.0,150.6L348.0,155.0L341.9,153.5Z"/>
<path d="M457.8,436.1L463.9,349.8L470.0,345.0L463.9,434.1Z"/>
<path d="M262.8,365.5L268.9,126.9L275.0,129.0L268.9,361.4Z"/>
<path d="M524.8,319.6L530.9,321.1L537.0,316.0L530.9,314.5Z"/>
<path d="M189.8,488.5L195.9,490.0L202.0,480.4L195.9,478.8Z"/>
<path d="M585.7,271.2L591.8,272.8L597.9,267.8L591.8,266.3Z"/>
<path d="M366.3,222.7L372.4,224.2L378.5,218.5L372.4,217.0Z"/>
<path d="M402.9,317.9L409.0,319.4L415.1,314.4L409.0,312.9Z"/>
<path d="M147.1,362.8L153.2,364.4L159.3,362.9L153.2,361.3Z"/>
<path d="M159.3,362.9L165.4,364.4L171.5,362.9L165.4,361.4Z"/>
<path d="M323.7,144.5L329.8,146.0L335.9,149.0L329.8,147.5Z"/>
<path d="M155.6,366.8L161.7,491.6L165.4,490.1L159.3,365.9Z"/>
<path d="M597.9,267.8L604.0,269.3L610.0,264.6L603.9,263.1Z"/>
<path d="M360.3,339.0L366.4,340.5L372.5,334.1L366.4,332.6Z"/>
<path d="M622.2,325.7L628.3,327.2L634.4,300.2L628.3,298.7Z"/>
<path d="M396.9,332.3L403.0,440.0L409.1,438.0L403.0,325.8Z"/>
<path d="M311.5,140.9L317.6,142.4L323.7,144.5L317.6,142.9Z"/>
<path d="M171.5,519.6L177.6,521.5L180.0,496.2L173.9,494.7Z"/>
<path d="M482.1,335.3L488.2,336.8L494.3,331.7L488.2,330.2Z"/>
<path d="M173.9,494.7L180.0,496.2L183.7,494.7L177.6,493.2Z"/>
<path d="M335.9,147.5L342.0,231.0L348.1,225.3L342.0,150.6Z"/>
<path d="M372.5,334.1L378.6,335.6L384.7,329.2L378.6,327.7Z"/>
<path d="M299.3,137.3L305.4,138.8L311.5,140.9L305.4,139.3Z"/>
<path d="M335.9,236.7L342.0,238.3L348.1,232.6L342.0,231.0Z"/>
<path d="M494.3,331.7L500.4,333.3L506.5,328.2L500.4,326.7Z"/>
<path d="M604.0,330.6L610.1,332.1L616.2,329.6L610.1,328.0Z"/>
<path d="M360.3,235.6L366.4,332.6L372.5,326.2L366.4,229.9Z"/>
<path d="M555.2,283.1L561.3,284.6L567.4,279.6L561.3,278.1Z"/>
<path d="M214.1,375.8L220.2,377.3L226.3,376.8L220.2,375.3Z"/>
<path d="M202.0,469.2L208.1,470.7L214.1,377.8L208.0,376.3Z"/>
<path d="M616.2,329.6L622.3,331.1L628.3,327.2L622.2,325.7Z"/>
<path d="M201.9,374.7L208.0,376.3L214.1,375.8L208.0,374.3Z"/>
<path d="M384.7,329.2L390.8,330.7L396.9,324.3L390.8,322.8Z"/>
<path d="M506.5,328.2L512.6,329.7L518.7,324.7L512.6,323.1Z"/>
<path d="M348.1,232.6L354.2,234.1L360.3,228.4L354.2,226.8Z"/>
<path d="M537.0,316.0L543.1,293.4L549.1,288.0L543.0,311.0Z"/>
<path d="M567.4,279.6L573.5,281.2L579.6,276.2L573.5,274.7Z"/>
<path d="M183.7,494.7L189.8,496.3L195.9,490.0L189.8,488.5Z"/>
<path d="M597.9,274.3L604.0,330.6L610.1,328.0L604.0,269.3Z"/>
<path d="M390.8,443.9L396.9,445.5L403.0,443.5L396.9,441.9Z"/>
<path d="M403.0,443.5L409.1,445.0L415.2,443.0L409.1,441.5Z"/>
<path d="M415.2,443.0L421.3,444.5L427.4,442.5L421.3,441.0Z"/>
<path d="M451.7,438.1L457.8,354.6L463.9,349.8L457.8,436.1Z"/>
<path d="M518.7,324.7L524.8,326.2L530.9,321.1L524.8,319.6Z"/>
<path d="M427.4,442.5L433.5,444.1L439.6,442.1L433.4,440.6Z"/>
<path d="M360.3,228.4L366.4,229.9L372.4,224.2L366.3,222.7Z"/>
<path d="M579.6,276.2L585.7,277.7L591.8,272.8L585.7,271.2Z"/>
<path d="M396.9,324.3L403.0,325.8L409.0,319.4L402.9,317.9Z"/>
<path d="M143.4,363.8L149.5,365.3L153.2,364.4L147.1,362.8Z"/>
<path d="M354.2,345.4L360.3,347.0L366.4,340.5L360.3,339.0Z"/>
<path d="M256.7,369.6L262.8,124.8L268.9,126.9L262.8,365.5Z"/>
<path d="M591.8,272.8L597.9,274.3L604.0,269.3L597.9,267.8Z"/>
<path d="M153.2,364.4L159.3,365.9L165.4,364.4L159.3,362.9Z"/>
<path d="M390.8,338.7L396.9,441.9L403.0,440.0L396.9,332.3Z"/>
<path d="M329.8,146.0L335.9,147.5L342.0,150.6L335.9,149.0Z"/>
<path d="M476.1,340.1L482.2,341.7L488.2,336.8L482.1,335.3Z"/>
<path d="M366.4,340.5L372.5,342.1L378.6,335.6L372.5,334.1Z"/>
<path d="M329.8,242.4L335.9,244.0L342.0,238.3L335.9,236.7Z"/>
<path d="M317.6,142.4L323.7,143.9L329.8,146.0L323.7,144.5Z"/>
<path d="M354.2,241.3L360.3,339.0L366.4,332.6L360.3,235.6Z"/>
<path d="M488.2,336.8L494.3,338.4L500.4,333.3L494.3,331.7Z"/>
<path d="M549.1,288.0L555.2,289.6L561.3,284.6L555.2,283.1Z"/>
<path d="M180.0,496.2L186.1,497.7L189.8,496.3L183.7,494.7Z"/>
<path d="M329.8,145.4L335.9,236.7L342.0,231.0L335.9,147.5Z"/>
<path d="M378.6,335.6L384.7,337.2L390.8,330.7L384.7,329.2Z"/>
<path d="M177.6,521.5L183.7,514.2L186.1,497.7L180.0,496.2Z"/>
<path d="M597.9,333.2L604.0,334.7L610.1,332.1L604.0,330.6Z"/>
<path d="M305.4,138.8L311.5,140.3L317.6,142.4L311.5,140.9Z"/>
<path d="M342.0,238.3L348.1,239.8L354.2,234.1L348.1,232.6Z"/>
<path d="M500.4,333.3L506.5,334.8L512.6,329.7L506.5,328.2Z"/>
<path d="M610.1,332.1L616.2,333.7L622.3,331.1L616.2,329.6Z"/>
<path d="M530.9,321.1L537.0,298.8L543.1,293.4L537.0,316.0Z"/>
<path d="M561.3,284.6L567.4,286.1L573.5,281.2L567.4,279.6Z"/>
<path d="M208.0,376.3L214.1,377.8L220.2,377.3L214.1,375.8Z"/>
<path d="M293.2,135.2L299.3,136.7L305.4,138.8L299.3,137.3Z"/>
<path d="M390.8,330.7L396.9,332.3L403.0,325.8L396.9,324.3Z"/>
<path d="M591.8,279.3L597.9,333.2L604.0,330.6L597.9,274.3Z"/>
<path d="M512.6,329.7L518.7,331.3L524.8,326.2L518.7,324.7Z"/>
<path d="M354.2,234.1L360.3,235.6L366.4,229.9L360.3,228.4Z"/>
<path d="M573.5,281.2L579.6,282.7L585.7,277.7L579.6,276.2Z"/>
<path d="M445.6,440.1L451.7,359.4L457.8,354.6L451.7,438.1Z"/>
<path d="M384.7,445.9L390.8,447.5L396.9,445.5L390.8,443.9Z"/>
<path d="M396.9,445.5L403.0,447.0L409.1,445.0L403.0,443.5Z"/>
<path d="M409.1,445.0L415.2,446.5L421.3,444.5L415.2,443.0Z"/>
<path d="M348.1,350.9L354.2,352.4L360.3,347.0L354.2,345.4Z"/>
<path d="M421.3,444.5L427.4,446.1L433.5,444.1L427.4,442.5Z"/>
<path d="M585.7,277.7L591.8,279.3L597.9,274.3L591.8,272.8Z"/>
<path d="M149.5,365.3L155.6,366.8L159.3,365.9L153.2,364.4Z"/>
<path d="M384.7,345.1L390.8,443.9L396.9,441.9L390.8,338.7Z"/>
<path d="M360.3,347.0L366.4,348.5L372.5,342.1L366.4,340.5Z"/>
<path d="M250.6,372.9L256.7,122.8L262.8,124.8L256.7,369.6Z"/>
<path d="M470.0,345.0L476.1,346.5L482.2,341.7L476.1,340.1Z"/>
<path d="M323.7,248.1L329.8,249.7L335.9,244.0L329.8,242.4Z"/>
<path d="M348.1,247.0L354.2,345.4L360.3,339.0L354.2,241.3Z"/>
<path d="M482.2,341.7L488.3,343.2L494.3,338.4L488.2,336.8Z"/>
<path d="M372.5,342.1L378.6,343.6L384.7,337.2L378.6,335.6Z"/>
<path d="M202.0,480.4L203.8,377.6L209.8,376.1L208.1,470.7Z"/>
<path d="M543.1,293.4L549.2,294.9L555.2,289.6L549.1,288.0Z"/>
<path d="M208.1,470.7L209.8,376.1L214.2,374.1L214.1,377.8Z"/>
<path d="M335.9,244.0L342.0,245.5L348.1,239.8L342.0,238.3Z"/>
<path d="M323.7,143.9L329.8,145.4L335.9,147.5L329.8,146.0Z"/>
<path d="M494.3,338.4L500.4,339.9L506.5,334.8L500.4,333.3Z"/>
<path d="M524.8,326.2L530.9,304.2L537.0,298.8L530.9,321.1Z"/>
<path d="M323.7,143.4L329.8,242.4L335.9,236.7L329.8,145.4Z"/>
<path d="M555.2,289.6L561.3,291.1L567.4,286.1L561.3,284.6Z"/>
<path d="M591.8,335.7L597.9,337.3L604.0,334.7L597.9,333.2Z"/>
<path d="M384.7,337.2L390.8,338.7L396.9,332.3L390.8,330.7Z"/>
<path d="M604.0,334.7L610.1,336.2L616.2,333.7L610.1,332.1Z"/>
<path d="M311.5,140.3L317.6,141.8L323.7,143.9L317.6,142.4Z"/>
<path d="M348.1,239.8L354.2,241.3L360.3,235.6L354.2,234.1Z"/>
<path d="M506.5,334.8L512.6,336.3L518.7,331.3L512.6,329.7Z"/>
<path d="M567.4,286.1L573.5,287.7L579.6,282.7L573.5,281.2Z"/>
<path d="M585.7,284.2L591.8,335.7L597.9,333.2L591.8,279.3Z"/>
<path d="M299.3,136.7L305.4,138.2L311.5,140.3L305.4,138.8Z"/>
<path d="M342.1,354.5L348.2,356.1L354.2,352.4L348.1,350.9Z"/>
<path d="M439.6,442.1L445.7,364.3L451.7,359.4L445.6,440.1Z"/>
<path d="M579.6,282.7L585.7,284.2L591.8,279.3L585.7,277.7Z"/>
<path d="M378.7,447.9L384.8,449.5L390.8,447.5L384.7,445.9Z"/>
<path d="M390.8,447.5L396.9,449.0L403.0,447.0L396.9,445.5Z"/>
<path d="M403.0,447.0L409.1,448.5L415.2,446.5L409.1,445.0Z"/>
<path d="M415.2,446.5L421.3,448.1L427.4,446.1L421.3,444.5Z"/>
<path d="M354.2,352.4L360.3,354.0L366.4,348.5L360.3,347.0Z"/>
<path d="M287.1,133.1L293.2,134.6L299.3,136.7L293.2,135.2Z"/>
<path d="M378.6,351.6L384.7,445.9L390.8,443.9L384.7,345.1Z"/>
<path d="M463.9,349.8L470.0,351.3L476.1,346.5L470.0,345.0Z"/>
<path d="M317.7,253.6L323.8,255.1L329.8,249.7L323.7,248.1Z"/>
<path d="M342.0,252.7L348.1,350.9L354.2,345.4L348.1,247.0Z"/>
<path d="M366.4,348.5L372.5,350.0L378.6,343.6L372.5,342.1Z"/>
<path d="M195.9,490.0L197.8,379.1L203.8,377.6L202.0,480.4Z"/>
<path d="M476.1,346.5L482.2,348.0L488.3,343.2L482.2,341.7Z"/>
<path d="M537.0,298.8L543.1,300.3L549.2,294.9L543.1,293.4Z"/>
<path d="M244.6,374.0L250.7,120.7L256.7,122.8L250.6,372.9Z"/>
<path d="M329.8,249.7L335.9,251.2L342.0,245.5L335.9,244.0Z"/>
<path d="M518.7,331.3L524.8,309.6L530.9,304.2L524.8,326.2Z"/>
<path d="M488.3,343.2L494.4,344.7L500.4,339.9L494.3,338.4Z"/>
<path d="M378.6,343.6L384.7,345.1L390.8,338.7L384.7,337.2Z"/>
<path d="M549.2,294.9L555.3,296.5L561.3,291.1L555.2,289.6Z"/>
<path d="M342.0,245.5L348.1,247.0L354.2,241.3L348.1,239.8Z"/>
<path d="M500.4,339.9L506.6,341.4L512.6,336.3L506.5,334.8Z"/>
<path d="M317.6,141.3L323.7,248.1L329.8,242.4L323.7,143.4Z"/>
<path d="M585.7,338.3L591.8,339.8L597.9,337.3L591.8,335.7Z"/>
<path d="M561.3,291.1L567.4,292.6L573.5,287.7L567.4,286.1Z"/>
<path d="M597.9,337.3L604.0,338.8L610.1,336.2L604.0,334.7Z"/>
<path d="M579.6,289.2L585.7,338.3L591.8,335.7L585.7,284.2Z"/>
<path d="M317.6,141.8L323.7,143.4L329.8,145.4L323.7,143.9Z"/>
<path d="M573.5,287.7L579.6,289.2L585.7,284.2L579.6,282.7Z"/>
<path d="M336.0,358.2L342.1,359.7L348.2,356.1L342.1,354.5Z"/>
<path d="M433.5,444.1L439.6,369.1L445.7,364.3L439.6,442.1Z"/>
<path d="M305.4,138.2L311.5,139.8L317.6,141.8L311.5,140.3Z"/>
<path d="M348.2,356.1L354.3,357.6L360.3,354.0L354.2,352.4Z"/>
<path d="M372.6,449.9L378.7,451.5L384.8,449.5L378.7,447.9Z"/>
<path d="M384.8,449.5L390.9,451.0L396.9,449.0L390.8,447.5Z"/>
<path d="M396.9,449.0L403.0,450.5L409.1,448.5L403.0,447.0Z"/>
<path d="M457.8,354.6L463.9,356.1L470.0,351.3L463.9,349.8Z"/>
<path d="M311.6,258.9L317.7,260.4L323.8,255.1L317.7,253.6Z"/>
<path d="M372.6,357.0L378.7,447.9L384.7,445.9L378.6,351.6Z"/>
<path d="M409.1,448.5L415.2,450.1L421.3,448.1L415.2,446.5Z"/>
<path d="M360.3,354.0L366.4,355.5L372.5,350.0L366.4,348.5Z"/>
<path d="M336.0,258.2L342.1,354.5L348.1,350.9L342.0,252.7Z"/>
<path d="M293.2,134.6L299.3,136.2L305.4,138.2L299.3,136.7Z"/>
<path d="M530.9,304.2L537.0,305.8L543.1,300.3L537.0,298.8Z"/>
<path d="M470.0,351.3L476.1,352.8L482.2,348.0L476.1,346.5Z"/>
<path d="M189.8,496.3L191.8,380.7L197.8,379.1L195.9,490.0Z"/>
<path d="M323.8,255.1L329.9,256.7L335.9,251.2L329.8,249.7Z"/>
<path d="M281.1,131.1L287.2,132.6L293.2,134.6L287.1,133.1Z"/>
<path d="M372.5,350.0L378.6,351.6L384.7,345.1L378.6,343.6Z"/>
<path d="M512.6,336.3L518.7,315.0L524.8,309.6L518.7,331.3Z"/>
<path d="M482.2,348.0L488.3,349.6L494.4,344.7L488.3,343.2Z"/>
<path d="M543.1,300.3L549.2,301.9L555.3,296.5L549.2,294.9Z"/>
<path d="M335.9,251.2L342.0,252.7L348.1,247.0L342.0,245.5Z"/>
<path d="M494.4,344.7L500.5,346.3L506.6,341.4L500.4,339.9Z"/>
<path d="M555.3,296.5L561.4,298.0L567.4,292.6L561.3,291.1Z"/>
<path d="M579.7,340.9L585.8,342.4L591.8,339.8L585.7,338.3Z"/>
<path d="M573.6,294.2L579.7,340.9L585.7,338.3L579.6,289.2Z"/>
<path d="M311.6,139.2L317.7,253.6L323.7,248.1L317.6,141.3Z"/>
<path d="M591.8,339.8L597.9,341.3L604.0,338.8L597.9,337.3Z"/>
<path d="M567.4,292.6L573.6,294.2L579.6,289.2L573.5,287.7Z"/>
<path d="M329.9,361.8L336.0,363.3L342.1,359.7L336.0,358.2Z"/>
<path d="M427.4,446.1L433.5,374.0L439.6,369.1L433.5,444.1Z"/>
<path d="M342.1,359.7L348.2,361.2L354.3,357.6L348.2,356.1Z"/>
<path d="M305.5,264.2L311.6,265.7L317.7,260.4L311.6,258.9Z"/>
<path d="M451.7,359.4L457.8,361.0L463.9,356.1L457.8,354.6Z"/>
<path d="M311.5,139.8L317.6,141.3L323.7,143.4L317.6,141.8Z"/>
<path d="M354.3,357.6L360.4,359.1L366.4,355.5L360.3,354.0Z"/>
<path d="M329.9,263.5L336.0,358.2L342.1,354.5L336.0,258.2Z"/>
<path d="M186.1,497.7L188.1,381.6L191.8,380.7L189.8,496.3Z"/>
<path d="M366.5,360.7L372.6,449.9L378.7,447.9L372.6,357.0Z"/>
<path d="M366.5,451.9L372.6,453.5L378.7,451.5L372.6,449.9Z"/>
<path d="M378.7,451.5L384.8,453.0L390.9,451.0L384.8,449.5Z"/>
<path d="M524.8,309.6L530.9,311.2L537.0,305.8L530.9,304.2Z"/>
<path d="M390.9,451.0L397.0,452.5L403.0,450.5L396.9,449.0Z"/>
<path d="M403.0,450.5L409.1,452.1L415.2,450.1L409.1,448.5Z"/>
<path d="M463.9,356.1L470.0,357.7L476.1,352.8L470.0,351.3Z"/>
<path d="M317.7,260.4L323.8,262.0L329.9,256.7L323.8,255.1Z"/>
<path d="M366.4,355.5L372.6,357.0L378.6,351.6L372.5,350.0Z"/>
<path d="M299.3,136.2L305.4,137.7L311.5,139.8L305.4,138.2Z"/>
<path d="M506.6,341.4L512.7,320.5L518.7,315.0L512.6,336.3Z"/>
<path d="M537.0,305.8L543.1,307.3L549.2,301.9L543.1,300.3Z"/>
<path d="M476.1,352.8L482.2,354.4L488.3,349.6L482.2,348.0Z"/>
<path d="M329.9,256.7L336.0,258.2L342.0,252.7L335.9,251.2Z"/>
<path d="M287.2,132.6L293.3,134.1L299.3,136.2L293.2,134.6Z"/>
<path d="M488.3,349.6L494.4,351.1L500.5,346.3L494.4,344.7Z"/>
<path d="M549.2,301.9L555.3,303.4L561.4,298.0L555.3,296.5Z"/>
<path d="M275.0,129.0L281.1,130.5L287.2,132.6L281.1,131.1Z"/>
<path d="M561.4,298.0L567.5,299.5L573.6,294.2L567.4,292.6Z"/>
<path d="M567.5,299.5L573.6,343.4L579.7,340.9L573.6,294.2Z"/>
<path d="M573.6,343.4L579.7,344.9L585.8,342.4L579.7,340.9Z"/>
<path d="M585.8,342.4L591.9,343.9L597.9,341.3L591.8,339.8Z"/>
<path d="M305.5,137.2L311.6,258.9L317.7,253.6L311.6,139.2Z"/>
<path d="M323.8,365.4L329.9,367.0L336.0,363.3L329.9,361.8Z"/>
<path d="M421.3,448.1L427.4,378.8L433.5,374.0L427.4,446.1Z"/>
<path d="M299.4,269.5L305.5,271.0L311.6,265.7L305.5,264.2Z"/>
<path d="M445.7,364.3L451.8,365.8L457.8,361.0L451.7,359.4Z"/>
<path d="M336.0,363.3L342.1,364.9L348.2,361.2L342.1,359.7Z"/>
<path d="M323.8,268.8L329.9,361.8L336.0,358.2L329.9,263.5Z"/>
<path d="M518.7,315.0L524.8,316.6L530.9,311.2L524.8,309.6Z"/>
<path d="M239.8,318.8L244.6,119.9L250.7,120.7L245.9,317.3Z"/>
<path d="M348.2,361.2L354.3,362.8L360.4,359.1L354.3,357.6Z"/>
<path d="M311.6,265.7L317.7,267.3L323.8,262.0L317.7,260.4Z"/>
<path d="M457.8,361.0L463.9,362.5L470.0,357.7L463.9,356.1Z"/>
<path d="M360.4,364.3L366.5,451.9L372.6,449.9L366.5,360.7Z"/>
<path d="M360.4,359.1L366.5,360.7L372.6,357.0L366.4,355.5Z"/>
<path d="M360.4,453.9L366.5,455.5L372.6,453.5L366.5,451.9Z"/>
<path d="M372.6,453.5L378.7,455.0L384.8,453.0L378.7,451.5Z"/>
<path d="M500.5,346.3L506.6,325.4L512.7,320.5L506.6,341.4Z"/>
<path d="M384.8,453.0L390.9,454.5L397.0,452.5L390.9,451.0Z"/>
<path d="M530.9,311.2L537.0,312.7L543.1,307.3L537.0,305.8Z"/>
<path d="M397.0,452.5L403.1,454.1L409.1,452.1L403.0,450.5Z"/>
<path d="M470.0,357.7L476.1,359.2L482.2,354.4L476.1,352.8Z"/>
<path d="M323.8,262.0L329.9,263.5L336.0,258.2L329.9,256.7Z"/>
<path d="M305.4,137.7L311.6,139.2L317.6,141.3L311.5,139.8Z"/>
<path d="M543.1,307.3L549.2,308.8L555.3,303.4L549.2,301.9Z"/>
<path d="M482.2,354.4L488.3,355.9L494.4,351.1L488.3,349.6Z"/>
<path d="M293.3,134.1L299.4,135.6L305.4,137.7L299.3,136.2Z"/>
<path d="M555.3,303.4L561.4,304.9L567.5,299.5L561.4,298.0Z"/>
<path d="M281.1,130.5L287.2,132.0L293.3,134.1L287.2,132.6Z"/>
<path d="M561.4,304.9L567.5,346.0L573.6,343.4L567.5,299.5Z"/>
<path d="M567.5,346.0L573.6,347.5L579.7,344.9L573.6,343.4Z"/>
<path d="M293.3,274.8L299.4,276.3L305.5,271.0L299.4,269.5Z"/>
<path d="M317.7,369.1L323.8,370.6L329.9,367.0L323.8,365.4Z"/>
<path d="M268.9,126.9L275.0,128.4L281.1,130.5L275.0,129.0Z"/>
<path d="M579.7,344.9L585.8,346.5L591.9,343.9L585.8,342.4Z"/>
<path d="M439.6,369.1L445.7,370.7L451.8,365.8L445.7,364.3Z"/>
<path d="M415.2,450.1L421.3,383.7L427.4,378.8L421.3,448.1Z"/>
<path d="M299.4,135.1L305.5,264.2L311.6,258.9L305.5,137.2Z"/>
<path d="M512.7,320.5L518.8,322.0L524.8,316.6L518.7,315.0Z"/>
<path d="M329.9,367.0L336.0,368.5L342.1,364.9L336.0,363.3Z"/>
<path d="M317.7,274.1L323.8,365.4L329.9,361.8L323.8,268.8Z"/>
<path d="M305.5,271.0L311.6,272.5L317.7,267.3L311.6,265.7Z"/>
<path d="M451.8,365.8L457.9,367.3L463.9,362.5L457.8,361.0Z"/>
<path d="M342.1,364.9L348.2,366.4L354.3,362.8L348.2,361.2Z"/>
<path d="M524.8,316.6L530.9,318.1L537.0,312.7L530.9,311.2Z"/>
<path d="M494.4,351.1L500.5,330.4L506.6,325.4L500.5,346.3Z"/>
<path d="M354.3,362.8L360.4,364.3L366.5,360.7L360.4,359.1Z"/>
<path d="M354.3,367.9L360.4,453.9L366.5,451.9L360.4,364.3Z"/>
<path d="M233.7,320.4L238.5,121.7L244.6,119.9L239.8,318.8Z"/>
<path d="M317.7,267.3L323.8,268.8L329.9,263.5L323.8,262.0Z"/>
<path d="M463.9,362.5L470.0,364.0L476.1,359.2L470.0,357.7Z"/>
<path d="M183.7,514.2L189.8,508.1L192.2,140.2L186.1,497.7Z"/>
<path d="M354.3,455.9L360.4,457.5L366.5,455.5L360.4,453.9Z"/>
<path d="M366.5,455.5L372.6,457.0L378.7,455.0L372.6,453.5Z"/>
<path d="M378.7,455.0L384.8,456.5L390.9,454.5L384.8,453.0Z"/>
<path d="M390.9,454.5L397.0,456.1L403.1,454.1L397.0,452.5Z"/>
<path d="M537.0,312.7L543.1,314.2L549.2,308.8L543.1,307.3Z"/>
<path d="M476.1,359.2L482.2,360.7L488.3,355.9L482.2,354.4Z"/>
<path d="M549.2,308.8L555.3,310.3L561.4,304.9L555.3,303.4Z"/>
<path d="M299.4,135.6L305.5,137.2L311.6,139.2L305.4,137.7Z"/>
<path d="M555.3,310.3L561.4,348.5L567.5,346.0L561.4,304.9Z"/>
<path d="M287.2,278.8L293.3,280.3L299.4,276.3L293.3,274.8Z"/>
<path d="M287.2,132.0L293.3,133.6L299.4,135.6L293.3,134.1Z"/>
<path d="M433.5,374.0L439.6,375.5L445.7,370.7L439.6,369.1Z"/>
<path d="M311.7,372.7L317.8,374.2L323.8,370.6L317.7,369.1Z"/>
<path d="M561.4,348.5L567.5,350.1L573.6,347.5L567.5,346.0Z"/>
<path d="M506.6,325.4L512.7,326.9L518.8,322.0L512.7,320.5Z"/>
<path d="M409.1,452.1L415.2,388.5L421.3,383.7L415.2,450.1Z"/>
<path d="M573.6,347.5L579.7,349.0L585.8,346.5L579.7,344.9Z"/>
<path d="M299.4,276.3L305.5,277.8L311.6,272.5L305.5,271.0Z"/>
<path d="M311.6,279.4L317.7,369.1L323.8,365.4L317.7,274.1Z"/>
<path d="M323.8,370.6L329.9,372.1L336.0,368.5L329.9,367.0Z"/>
<path d="M275.0,128.4L281.1,130.0L287.2,132.0L281.1,130.5Z"/>
<path d="M445.7,370.7L451.8,372.2L457.9,367.3L451.8,365.8Z"/>
<path d="M293.3,133.0L299.4,269.5L305.5,264.2L299.4,135.1Z"/>
<path d="M518.8,322.0L524.9,323.5L530.9,318.1L524.8,316.6Z"/>
<path d="M336.0,368.5L342.1,370.0L348.2,366.4L342.1,364.9Z"/>
<path d="M488.3,355.9L494.4,335.3L500.5,330.4L494.4,351.1Z"/>
<path d="M311.6,272.5L317.7,274.1L323.8,268.8L317.7,267.3Z"/>
<path d="M262.8,124.8L268.9,126.4L275.0,128.4L268.9,126.9Z"/>
<path d="M457.9,367.3L464.0,368.9L470.0,364.0L463.9,362.5Z"/>
<path d="M348.2,366.4L354.3,367.9L360.4,364.3L354.3,362.8Z"/>
<path d="M348.2,371.6L354.3,455.9L360.4,453.9L354.3,367.9Z"/>
<path d="M530.9,318.1L537.0,319.6L543.1,314.2L537.0,312.7Z"/>
<path d="M227.6,321.9L232.4,123.6L238.5,121.7L233.7,320.4Z"/>
<path d="M470.0,364.0L476.1,365.6L482.2,360.7L476.1,359.2Z"/>
<path d="M348.2,457.9L354.3,459.4L360.4,457.5L354.3,455.9Z"/>
<path d="M360.4,457.5L366.5,459.0L372.6,457.0L366.5,455.5Z"/>
<path d="M372.6,457.0L378.7,458.5L384.8,456.5L378.7,455.0Z"/>
<path d="M384.8,456.5L390.9,458.1L397.0,456.1L390.9,454.5Z"/>
<path d="M543.1,314.2L549.2,315.8L555.3,310.3L549.2,308.8Z"/>
<path d="M549.2,315.8L555.3,353.5L561.4,348.5L555.3,310.3Z"/>
<path d="M427.4,378.8L433.5,380.4L439.6,375.5L433.5,374.0Z"/>
<path d="M281.2,282.1L287.3,283.6L293.3,280.3L287.2,278.8Z"/>
<path d="M500.5,330.4L506.6,331.9L512.7,326.9L506.6,325.4Z"/>
<path d="M555.3,353.5L561.4,355.1L567.5,350.1L561.4,348.5Z"/>
<path d="M305.6,376.3L311.7,377.9L317.8,374.2L311.7,372.7Z"/>
<path d="M293.3,280.3L299.4,281.9L305.5,277.8L299.4,276.3Z"/>
<path d="M293.3,133.6L299.4,135.1L305.5,137.2L299.4,135.6Z"/>
<path d="M403.1,454.1L409.2,393.3L415.2,388.5L409.1,452.1Z"/>
<path d="M305.6,283.4L311.7,372.7L317.7,369.1L311.6,279.4Z"/>
<path d="M439.6,375.5L445.7,377.0L451.8,372.2L445.7,370.7Z"/>
<path d="M317.8,374.2L323.9,375.8L329.9,372.1L323.8,370.6Z"/>
<path d="M567.5,350.1L573.6,351.6L579.7,349.0L573.6,347.5Z"/>
<path d="M512.7,326.9L518.8,328.5L524.9,323.5L518.8,322.0Z"/>
<path d="M482.2,360.7L488.3,340.2L494.4,335.3L488.3,355.9Z"/>
<path d="M305.5,277.8L311.6,279.4L317.7,274.1L311.6,272.5Z"/>
<path d="M329.9,372.1L336.0,373.7L342.1,370.0L336.0,368.5Z"/>
<path d="M281.1,130.0L287.2,131.5L293.3,133.6L287.2,132.0Z"/>
<path d="M451.8,372.2L457.9,373.7L464.0,368.9L457.9,367.3Z"/>
<path d="M287.2,131.0L293.3,274.8L299.4,269.5L293.3,133.0Z"/>
<path d="M524.9,323.5L531.0,325.1L537.0,319.6L530.9,318.1Z"/>
<path d="M342.1,370.0L348.2,371.6L354.3,367.9L348.2,366.4Z"/>
<path d="M268.9,126.4L275.0,127.9L281.1,130.0L275.0,128.4Z"/>
<path d="M342.1,375.2L348.2,457.9L354.3,455.9L348.2,371.6Z"/>
<path d="M464.0,368.9L470.1,370.4L476.1,365.6L470.0,364.0Z"/>
<path d="M537.0,319.6L543.1,321.2L549.2,315.8L543.1,314.2Z"/>
<path d="M221.5,323.4L226.3,125.5L232.4,123.6L227.6,321.9Z"/>
<path d="M342.2,459.9L348.3,461.4L354.3,459.4L348.2,457.9Z"/>
<path d="M256.7,122.8L262.8,124.3L268.9,126.4L262.8,124.8Z"/>
<path d="M354.3,459.4L360.4,461.0L366.5,459.0L360.4,457.5Z"/>
<path d="M366.5,459.0L372.6,460.5L378.7,458.5L372.6,457.0Z"/>
<path d="M378.7,458.5L384.8,460.0L390.9,458.1L384.8,456.5Z"/>
<path d="M543.1,321.2L549.2,359.5L555.3,353.5L549.2,315.8Z"/>
<path d="M421.3,383.7L427.4,385.2L433.5,380.4L427.4,378.8Z"/>
<path d="M494.4,335.3L500.5,336.8L506.6,331.9L500.5,330.4Z"/>
<path d="M549.2,359.5L555.3,361.1L561.4,355.1L555.3,353.5Z"/>
<path d="M275.1,285.3L281.2,286.9L287.3,283.6L281.2,282.1Z"/>
<path d="M299.5,380.0L305.6,381.5L311.7,377.9L305.6,376.3Z"/>
<path d="M433.5,380.4L439.6,381.9L445.7,377.0L439.6,375.5Z"/>
<path d="M287.3,283.6L293.4,285.1L299.4,281.9L293.3,280.3Z"/>
<path d="M506.6,331.9L512.7,333.4L518.8,328.5L512.7,326.9Z"/>
<path d="M299.5,286.7L305.6,376.3L311.7,372.7L305.6,283.4Z"/>
<path d="M397.0,456.1L403.1,396.2L409.2,393.3L403.1,454.1Z"/>
<path d="M561.4,355.1L567.5,356.6L573.6,351.6L567.5,350.1Z"/>
<path d="M311.7,377.9L317.8,379.4L323.9,375.8L317.8,374.2Z"/>
<path d="M476.1,365.6L482.2,345.2L488.3,340.2L482.2,360.7Z"/>
<path d="M299.4,281.9L305.6,283.4L311.6,279.4L305.5,277.8Z"/>
<path d="M445.7,377.0L451.8,378.6L457.9,373.7L451.8,372.2Z"/>
<path d="M323.9,375.8L330.0,377.3L336.0,373.7L329.9,372.1Z"/>
<path d="M518.8,328.5L524.9,330.0L531.0,325.1L524.9,323.5Z"/>
<path d="M336.0,373.7L342.1,375.2L348.2,371.6L342.1,370.0Z"/>
<path d="M287.2,131.5L293.3,133.0L299.4,135.1L293.3,133.6Z"/>
<path d="M457.9,373.7L464.0,375.2L470.1,370.4L464.0,368.9Z"/>
<path d="M281.1,128.9L287.2,278.8L293.3,274.8L287.2,131.0Z"/>
<path d="M531.0,325.1L537.1,326.6L543.1,321.2L537.0,319.6Z"/>
<path d="M336.1,378.8L342.2,459.9L348.2,457.9L342.1,375.2Z"/>
<path d="M275.0,127.9L281.1,129.4L287.2,131.5L281.1,130.0Z"/>
<path d="M537.1,326.6L543.2,365.5L549.2,359.5L543.1,321.2Z"/>
<path d="M215.4,324.9L220.2,127.9L226.3,125.5L221.5,323.4Z"/>
<path d="M336.1,461.9L342.2,463.4L348.3,461.4L342.2,459.9Z"/>
<path d="M348.3,461.4L354.4,463.0L360.4,461.0L354.3,459.4Z"/>
<path d="M262.8,124.3L268.9,125.8L275.0,127.9L268.9,126.4Z"/>
<path d="M360.4,461.0L366.6,462.5L372.6,460.5L366.5,459.0Z"/>
<path d="M372.6,460.5L378.7,462.0L384.8,460.0L378.7,458.5Z"/>
<path d="M543.2,365.5L549.3,367.1L555.3,361.1L549.2,359.5Z"/>
<path d="M415.2,388.5L421.3,390.1L427.4,385.2L421.3,383.7Z"/>
<path d="M488.3,340.2L494.4,341.8L500.5,336.8L494.4,335.3Z"/>
<path d="M250.7,120.7L256.8,122.2L262.8,124.3L256.7,122.8Z"/>
<path d="M293.4,385.5L299.5,387.1L305.6,381.5L299.5,380.0Z"/>
<path d="M269.0,288.6L275.1,290.1L281.2,286.9L275.1,285.3Z"/>
<path d="M427.4,385.2L433.5,386.7L439.6,381.9L433.5,380.4Z"/>
<path d="M500.5,336.8L506.6,338.4L512.7,333.4L506.6,331.9Z"/>
<path d="M555.3,361.1L561.4,362.6L567.5,356.6L561.4,355.1Z"/>
<path d="M281.2,286.9L287.3,288.4L293.4,285.1L287.3,283.6Z"/>
<path d="M470.1,370.4L476.2,350.1L482.2,345.2L476.1,365.6Z"/>
<path d="M293.4,289.9L299.5,380.0L305.6,376.3L299.5,286.7Z"/>
<path d="M305.6,381.5L311.7,383.0L317.8,379.4L311.7,377.9Z"/>
<path d="M439.6,381.9L445.7,383.4L451.8,378.6L445.7,377.0Z"/>
<path d="M293.4,285.1L299.5,286.7L305.6,283.4L299.4,281.9Z"/>
<path d="M390.9,458.1L397.0,399.0L403.1,396.2L397.0,456.1Z"/>
<path d="M512.7,333.4L518.8,334.9L524.9,330.0L518.8,328.5Z"/>
<path d="M317.8,379.4L323.9,380.9L330.0,377.3L323.9,375.8Z"/>
<path d="M451.8,378.6L457.9,380.1L464.0,375.2L457.9,373.7Z"/>
<path d="M330.0,377.3L336.1,378.8L342.1,375.2L336.0,373.7Z"/>
<path d="M524.9,330.0L531.0,331.5L537.1,326.6L531.0,325.1Z"/>
<path d="M330.0,382.5L336.1,461.9L342.2,459.9L336.1,378.8Z"/>
<path d="M531.0,331.5L537.1,371.6L543.2,365.5L537.1,326.6Z"/>
<path d="M275.1,126.8L281.2,282.1L287.2,278.8L281.1,128.9Z"/>
<path d="M281.1,129.4L287.2,131.0L293.3,133.0L287.2,131.5Z"/>
<path d="M537.1,371.6L543.2,373.1L549.3,367.1L543.2,365.5Z"/>
<path d="M330.0,464.2L336.1,465.7L342.2,463.4L336.1,461.9Z"/>
<path d="M409.2,393.3L415.3,394.8L421.3,390.1L415.2,388.5Z"/>
<path d="M342.2,463.4L348.3,465.0L354.4,463.0L348.3,461.4Z"/>
<path d="M482.2,345.2L488.3,346.7L494.4,341.8L488.3,340.2Z"/>
<path d="M354.4,463.0L360.5,464.5L366.6,462.5L360.4,461.0Z"/>
<path d="M268.9,125.8L275.0,127.4L281.1,129.4L275.0,127.9Z"/>
<path d="M262.9,299.6L269.0,301.2L275.1,290.1L269.0,288.6Z"/>
<path d="M366.6,462.5L372.7,464.0L378.7,462.0L372.6,460.5Z"/>
<path d="M287.3,393.2L293.4,394.8L299.5,387.1L293.4,385.5Z"/>
<path d="M549.3,367.1L555.4,368.6L561.4,362.6L555.3,361.1Z"/>
<path d="M421.3,390.1L427.4,391.6L433.5,386.7L427.4,385.2Z"/>
<path d="M494.4,341.8L500.5,343.3L506.6,338.4L500.5,336.8Z"/>
<path d="M256.8,122.2L262.9,123.8L268.9,125.8L262.8,124.3Z"/>
<path d="M464.0,375.2L470.1,355.5L476.2,350.1L470.1,370.4Z"/>
<path d="M299.5,387.1L305.6,388.6L311.7,383.0L305.6,381.5Z"/>
<path d="M287.3,293.2L293.4,385.5L299.5,380.0L293.4,289.9Z"/>
<path d="M275.1,290.1L281.2,291.6L287.3,288.4L281.2,286.9Z"/>
<path d="M433.5,386.7L439.6,388.3L445.7,383.4L439.6,381.9Z"/>
<path d="M244.6,119.9L250.7,121.4L256.8,122.2L250.7,120.7Z"/>
<path d="M506.6,338.4L512.7,339.9L518.8,334.9L512.7,333.4Z"/>
<path d="M287.3,288.4L293.4,289.9L299.5,286.7L293.4,285.1Z"/>
<path d="M311.7,383.0L317.8,384.6L323.9,380.9L317.8,379.4Z"/>
<path d="M384.8,460.0L390.9,401.9L397.0,399.0L390.9,458.1Z"/>
<path d="M445.7,383.4L451.8,385.0L457.9,380.1L451.8,378.6Z"/>
<path d="M518.8,334.9L524.9,336.5L531.0,331.5L524.9,330.0Z"/>
<path d="M323.9,380.9L330.0,382.5L336.1,378.8L330.0,377.3Z"/>
<path d="M524.9,336.5L531.0,377.0L537.1,371.6L531.0,331.5Z"/>
<path d="M323.9,386.1L330.0,464.2L336.1,461.9L330.0,382.5Z"/>
<path d="M531.0,377.0L537.1,378.5L543.2,373.1L537.1,371.6Z"/>
<path d="M256.8,301.2L262.9,302.7L269.0,301.2L262.9,299.6Z"/>
<path d="M269.0,126.0L275.1,285.3L281.2,282.1L275.1,126.8Z"/>
<path d="M476.2,350.1L482.3,351.6L488.3,346.7L482.2,345.2Z"/>
<path d="M403.1,396.2L409.2,397.7L415.3,394.8L409.2,393.3Z"/>
<path d="M281.2,395.6L287.3,397.2L293.4,394.8L287.3,393.2Z"/>
<path d="M323.9,467.1L330.0,468.7L336.1,465.7L330.0,464.2Z"/>
<path d="M543.2,373.1L549.3,374.6L555.4,368.6L549.3,367.1Z"/>
<path d="M336.1,465.7L342.2,467.3L348.3,465.0L342.2,463.4Z"/>
<path d="M415.3,394.8L421.4,396.4L427.4,391.6L421.3,390.1Z"/>
<path d="M348.3,465.0L354.4,466.5L360.5,464.5L354.4,463.0Z"/>
<path d="M488.3,346.7L494.4,348.2L500.5,343.3L494.4,341.8Z"/>
<path d="M360.5,464.5L366.6,466.0L372.7,464.0L366.6,462.5Z"/>
<path d="M275.0,127.4L281.1,128.9L287.2,131.0L281.1,129.4Z"/>
<path d="M269.0,301.2L275.1,302.7L281.2,291.6L275.1,290.1Z"/>
<path d="M281.2,304.2L287.3,393.2L293.4,385.5L287.3,293.2Z"/>
<path d="M293.4,394.8L299.5,396.3L305.6,388.6L299.5,387.1Z"/>
<path d="M457.9,380.1L464.0,360.9L470.1,355.5L464.0,375.2Z"/>
<path d="M427.4,391.6L433.6,393.1L439.6,388.3L433.5,386.7Z"/>
<path d="M500.5,343.3L506.6,344.8L512.7,339.9L506.6,338.4Z"/>
<path d="M189.8,508.1L195.9,507.6L198.3,141.8L192.2,140.2Z"/>
<path d="M262.9,123.8L269.0,125.3L275.0,127.4L268.9,125.8Z"/>
<path d="M305.6,388.6L311.7,390.1L317.8,384.6L311.7,383.0Z"/>
<path d="M281.2,291.6L287.3,293.2L293.4,289.9L287.3,288.4Z"/>
<path d="M439.6,388.3L445.7,389.8L451.8,385.0L445.7,383.4Z"/>
<path d="M250.7,121.4L256.8,122.9L262.9,123.8L256.8,122.2Z"/>
<path d="M512.7,339.9L518.8,341.4L524.9,336.5L518.8,334.9Z"/>
<path d="M238.5,121.7L244.6,123.3L250.7,121.4L244.6,119.9Z"/>
<path d="M378.7,462.0L384.8,404.8L390.9,401.9L384.8,460.0Z"/>
<path d="M317.8,384.6L323.9,386.1L330.0,382.5L323.9,380.9Z"/>
<path d="M518.8,341.4L524.9,382.3L531.0,377.0L524.9,336.5Z"/>
<path d="M524.9,382.3L531.0,383.9L537.1,378.5L531.0,377.0Z"/>
<path d="M317.8,391.7L323.9,467.1L330.0,464.2L323.9,386.1Z"/>
<path d="M470.1,355.5L476.2,357.0L482.3,351.6L476.2,350.1Z"/>
<path d="M537.1,378.5L543.2,380.0L549.3,374.6L543.2,373.1Z"/>
<path d="M250.8,302.7L256.9,304.2L262.9,302.7L256.8,301.2Z"/>
<path d="M262.9,302.7L269.0,304.2L275.1,302.7L269.0,301.2Z"/>
<path d="M262.9,127.9L269.0,288.6L275.1,285.3L269.0,126.0Z"/>
<path d="M397.0,399.0L403.1,400.6L409.2,397.7L403.1,396.2Z"/>
<path d="M275.2,398.0L281.3,399.6L287.3,397.2L281.2,395.6Z"/>
<path d="M275.1,305.7L281.2,395.6L287.3,393.2L281.2,304.2Z"/>
<path d="M317.8,470.1L323.9,471.6L330.0,468.7L323.9,467.1Z"/>
<path d="M482.3,351.6L488.4,353.2L494.4,348.2L488.3,346.7Z"/>
<path d="M409.2,397.7L415.3,399.2L421.4,396.4L415.3,394.8Z"/>
<path d="M287.3,397.2L293.4,398.7L299.5,396.3L293.4,394.8Z"/>
<path d="M451.8,385.0L457.9,366.3L464.0,360.9L457.9,380.1Z"/>
<path d="M330.0,468.7L336.1,470.2L342.2,467.3L336.1,465.7Z"/>
<path d="M342.2,467.3L348.3,468.8L354.4,466.5L348.3,465.0Z"/>
<path d="M421.4,396.4L427.5,397.9L433.6,393.1L427.4,391.6Z"/>
<path d="M354.4,466.5L360.5,468.0L366.6,466.0L360.5,464.5Z"/>
<path d="M494.4,348.2L500.6,349.8L506.6,344.8L500.5,343.3Z"/>
<path d="M275.1,302.7L281.2,304.2L287.3,293.2L281.2,291.6Z"/>
<path d="M299.5,396.3L305.6,397.8L311.7,390.1L305.6,388.6Z"/>
<path d="M433.6,393.1L439.7,394.7L445.7,389.8L439.6,388.3Z"/>
<path d="M506.6,344.8L512.7,346.4L518.8,341.4L512.7,339.9Z"/>
<path d="M269.0,125.3L275.1,126.8L281.1,128.9L275.0,127.4Z"/>
<path d="M195.9,507.6L202.0,507.2L204.4,143.3L198.3,141.8Z"/>
<path d="M311.7,390.1L317.8,391.7L323.9,386.1L317.8,384.6Z"/>
<path d="M512.7,346.4L518.8,387.7L524.9,382.3L518.8,341.4Z"/>
<path d="M256.8,122.9L262.9,124.5L269.0,125.3L262.9,123.8Z"/>
<path d="M372.7,464.0L378.8,407.7L384.8,404.8L378.7,462.0Z"/>
<path d="M232.4,123.6L238.5,125.1L244.6,123.3L238.5,121.7Z"/>
<path d="M244.6,123.3L250.7,124.8L256.8,122.9L250.7,121.4Z"/>
<path d="M518.8,387.7L524.9,389.2L531.0,383.9L524.9,382.3Z"/>
<path d="M311.7,399.4L317.8,470.1L323.9,467.1L317.8,391.7Z"/>
<path d="M464.0,360.9L470.1,362.5L476.2,357.0L470.1,355.5Z"/>
<path d="M531.0,383.9L537.1,385.4L543.2,380.0L537.1,378.5Z"/>
<path d="M220.3,505.2L226.4,503.2L228.8,320.4L222.7,318.9Z"/>
<path d="M256.8,129.7L262.9,299.6L269.0,288.6L262.9,127.9Z"/>
<path d="M476.2,357.0L482.3,358.6L488.4,353.2L482.3,351.6Z"/>
<path d="M445.7,389.8L451.8,371.7L457.9,366.3L451.8,385.0Z"/>
<path d="M390.9,401.9L397.0,403.5L403.1,400.6L397.0,399.0Z"/>
<path d="M311.8,473.0L317.9,474.5L323.9,471.6L317.8,470.1Z"/>
<path d="M269.1,400.4L275.2,402.0L281.3,399.6L275.2,398.0Z"/>
<path d="M269.0,304.2L275.1,305.7L281.2,304.2L275.1,302.7Z"/>
<path d="M244.7,304.2L250.8,305.7L256.9,304.2L250.8,302.7Z"/>
<path d="M256.9,304.2L263.0,305.7L269.0,304.2L262.9,302.7Z"/>
<path d="M403.1,400.6L409.2,402.1L415.3,399.2L409.2,397.7Z"/>
<path d="M269.1,307.3L275.2,398.0L281.2,395.6L275.1,305.7Z"/>
<path d="M281.3,399.6L287.4,401.1L293.4,398.7L287.3,397.2Z"/>
<path d="M323.9,471.6L330.0,473.1L336.1,470.2L330.0,468.7Z"/>
<path d="M488.4,353.2L494.5,354.7L500.6,349.8L494.4,348.2Z"/>
<path d="M415.3,399.2L421.4,400.8L427.5,397.9L421.4,396.4Z"/>
<path d="M293.4,398.7L299.6,400.2L305.6,397.8L299.5,396.3Z"/>
<path d="M336.1,470.2L342.2,471.7L348.3,468.8L342.2,467.3Z"/>
<path d="M348.3,468.8L354.4,470.3L360.5,468.0L354.4,466.5Z"/>
<path d="M427.5,397.9L433.6,399.4L439.7,394.7L433.6,393.1Z"/>
<path d="M500.6,349.8L506.7,351.3L512.7,346.4L506.6,344.8Z"/>
<path d="M305.6,397.8L311.7,399.4L317.8,391.7L311.7,390.1Z"/>
<path d="M506.7,351.3L512.8,393.0L518.8,387.7L512.7,346.4Z"/>
<path d="M512.8,393.0L518.9,394.6L524.9,389.2L518.8,387.7Z"/>
<path d="M202.0,507.2L208.1,507.2L210.5,144.8L204.4,143.3Z"/>
<path d="M366.6,466.0L372.7,410.6L378.8,407.7L372.7,464.0Z"/>
<path d="M262.9,124.5L269.0,126.0L275.1,126.8L269.0,125.3Z"/>
<path d="M226.3,125.5L232.4,127.0L238.5,125.1L232.4,123.6Z"/>
<path d="M238.5,125.1L244.6,126.7L250.7,124.8L244.6,123.3Z"/>
<path d="M305.7,401.8L311.8,473.0L317.8,470.1L311.7,399.4Z"/>
<path d="M457.9,366.3L464.0,367.9L470.1,362.5L464.0,360.9Z"/>
<path d="M250.7,124.8L256.8,126.3L262.9,124.5L256.8,122.9Z"/>
<path d="M524.9,389.2L531.0,390.7L537.1,385.4L531.0,383.9Z"/>
<path d="M214.2,507.1L220.3,505.2L222.7,318.9L216.6,146.4Z"/>
<path d="M263.0,416.9L269.1,418.4L275.2,402.0L269.1,400.4Z"/>
<path d="M470.1,362.5L476.2,364.0L482.3,358.6L476.2,357.0Z"/>
<path d="M439.7,394.7L445.8,377.2L451.8,371.7L445.7,389.8Z"/>
<path d="M250.7,131.6L256.8,301.2L262.9,299.6L256.8,129.7Z"/>
<path d="M238.6,314.9L244.7,316.5L250.8,305.7L244.7,304.2Z"/>
<path d="M226.4,503.2L232.6,501.0L234.9,321.9L228.8,320.4Z"/>
<path d="M482.3,358.6L488.4,360.1L494.5,354.7L488.4,353.2Z"/>
<path d="M384.8,404.8L390.9,406.3L397.0,403.5L390.9,401.9Z"/>
<path d="M305.7,475.9L311.8,477.4L317.9,474.5L311.8,473.0Z"/>
<path d="M397.0,403.5L403.1,405.0L409.2,402.1L403.1,400.6Z"/>
<path d="M317.9,474.5L324.0,476.0L330.0,473.1L323.9,471.6Z"/>
<path d="M275.2,402.0L281.3,403.5L287.4,401.1L281.3,399.6Z"/>
<path d="M263.0,308.8L269.1,400.4L275.2,398.0L269.1,307.3Z"/>
<path d="M263.0,305.7L269.1,307.3L275.1,305.7L269.0,304.2Z"/>
<path d="M250.8,305.7L256.9,307.2L263.0,305.7L256.9,304.2Z"/>
<path d="M409.2,402.1L415.3,403.6L421.4,400.8L415.3,399.2Z"/>
<path d="M287.4,401.1L293.5,402.6L299.6,400.2L293.4,398.7Z"/>
<path d="M330.0,473.1L336.1,474.6L342.2,471.7L336.1,470.2Z"/>
<path d="M494.5,354.7L500.6,356.2L506.7,351.3L500.6,349.8Z"/>
<path d="M421.4,400.8L427.5,402.3L433.6,399.4L427.5,397.9Z"/>
<path d="M299.6,400.2L305.7,401.8L311.7,399.4L305.6,397.8Z"/>
<path d="M342.2,471.7L348.3,473.2L354.4,470.3L348.3,468.8Z"/>
<path d="M500.6,356.2L506.7,398.4L512.8,393.0L506.7,351.3Z"/>
<path d="M506.7,398.4L512.8,399.9L518.9,394.6L512.8,393.0Z"/>
<path d="M256.9,418.4L263.0,419.9L269.1,418.4L263.0,416.9Z"/>
<path d="M451.8,371.7L457.9,373.3L464.0,367.9L457.9,366.3Z"/>
<path d="M518.9,394.6L525.0,396.1L531.0,390.7L524.9,389.2Z"/>
<path d="M360.5,468.0L366.6,413.4L372.7,410.6L366.6,466.0Z"/>
<path d="M208.1,507.2L214.2,507.1L216.6,146.4L210.5,144.8Z"/>
<path d="M299.6,404.2L305.7,475.9L311.8,473.0L305.7,401.8Z"/>
<path d="M220.2,127.9L226.3,129.4L232.4,127.0L226.3,125.5Z"/>
<path d="M232.4,127.0L238.5,128.6L244.6,126.7L238.5,125.1Z"/>
<path d="M244.6,126.7L250.7,128.2L256.8,126.3L250.7,124.8Z"/>
<path d="M464.0,367.9L470.1,369.4L476.2,364.0L470.1,362.5Z"/>
<path d="M256.8,126.3L262.9,127.9L269.0,126.0L262.9,124.5Z"/>
<path d="M232.5,316.5L238.6,318.0L244.7,316.5L238.6,314.9Z"/>
<path d="M433.6,399.4L439.7,382.5L445.8,377.2L439.7,394.7Z"/>
<path d="M269.1,418.4L275.2,420.0L281.3,403.5L275.2,402.0Z"/>
<path d="M476.2,364.0L482.3,365.5L488.4,360.1L482.3,358.6Z"/>
<path d="M256.9,319.5L263.0,416.9L269.1,400.4L263.0,308.8Z"/>
<path d="M244.7,134.0L250.8,302.7L256.8,301.2L250.7,131.6Z"/>
<path d="M244.7,316.5L250.8,318.0L256.9,307.2L250.8,305.7Z"/>
<path d="M378.8,407.7L384.9,409.2L390.9,406.3L384.8,404.8Z"/>
<path d="M299.6,478.8L305.7,480.4L311.8,477.4L305.7,475.9Z"/>
<path d="M488.4,360.1L494.5,361.6L500.6,356.2L494.5,354.7Z"/>
<path d="M390.9,406.3L397.0,407.9L403.1,405.0L397.0,403.5Z"/>
<path d="M311.8,477.4L317.9,479.0L324.0,476.0L317.9,474.5Z"/>
<path d="M403.1,405.0L409.2,406.5L415.3,403.6L409.2,402.1Z"/>
<path d="M232.6,501.0L238.7,498.4L241.0,323.5L234.9,321.9Z"/>
<path d="M494.5,361.6L500.6,404.4L506.7,398.4L500.6,356.2Z"/>
<path d="M324.0,476.0L330.1,477.6L336.1,474.6L330.0,473.1Z"/>
<path d="M238.7,498.4L244.8,495.7L247.1,420.8L241.0,323.5Z"/>
<path d="M281.3,403.5L287.4,405.0L293.5,402.6L287.4,401.1Z"/>
<path d="M256.9,307.2L263.0,308.8L269.1,307.3L263.0,305.7Z"/>
<path d="M415.3,403.6L421.4,405.2L427.5,402.3L421.4,400.8Z"/>
<path d="M293.5,402.6L299.6,404.2L305.7,401.8L299.6,400.2Z"/>
<path d="M336.1,474.6L342.2,476.2L348.3,473.2L342.2,471.7Z"/>
<path d="M500.6,404.4L506.7,406.0L512.8,399.9L506.7,398.4Z"/>
<path d="M244.8,495.7L250.9,488.3L253.2,422.4L247.1,420.8Z"/>
<path d="M445.8,377.2L451.9,378.7L457.9,373.3L451.8,371.7Z"/>
<path d="M512.8,399.9L518.9,401.4L525.0,396.1L518.9,394.6Z"/>
<path d="M263.0,419.9L269.1,421.5L275.2,420.0L269.1,418.4Z"/>
<path d="M250.8,419.9L256.9,421.5L263.0,419.9L256.9,418.4Z"/>
<path d="M457.9,373.3L464.0,374.8L470.1,369.4L464.0,367.9Z"/>
<path d="M354.4,470.3L360.5,415.6L366.6,413.4L360.5,468.0Z"/>
<path d="M293.5,406.6L299.6,478.8L305.7,475.9L299.6,404.2Z"/>
<path d="M214.2,130.6L220.3,132.1L226.3,129.4L220.2,127.9Z"/>
<path d="M250.8,321.0L256.9,418.4L263.0,416.9L256.9,319.5Z"/>
<path d="M427.5,402.3L433.6,386.1L439.7,382.5L433.6,399.4Z"/>
<path d="M226.3,129.4L232.4,131.0L238.5,128.6L232.4,127.0Z"/>
<path d="M238.5,128.6L244.6,130.1L250.7,128.2L244.6,126.7Z"/>
<path d="M250.7,128.2L256.8,129.7L262.9,127.9L256.8,126.3Z"/>
<path d="M470.1,369.4L476.2,370.9L482.3,365.5L476.2,364.0Z"/>
<path d="M226.4,318.0L232.5,319.5L238.6,318.0L232.5,316.5Z"/>
<path d="M238.6,318.0L244.7,319.5L250.8,318.0L244.7,316.5Z"/>
<path d="M275.2,420.0L281.3,421.5L287.4,405.0L281.3,403.5Z"/>
<path d="M482.3,365.5L488.4,367.0L494.5,361.6L488.4,360.1Z"/>
<path d="M238.6,136.7L244.7,304.2L250.8,302.7L244.7,134.0Z"/>
<path d="M488.4,367.0L494.5,413.5L500.6,404.4L494.5,361.6Z"/>
<path d="M372.7,410.6L378.8,412.1L384.9,409.2L378.8,407.7Z"/>
<path d="M494.5,413.5L500.6,415.0L506.7,406.0L500.6,404.4Z"/>
<path d="M293.5,481.8L299.6,483.3L305.7,480.4L299.6,478.8Z"/>
<path d="M250.8,318.0L256.9,319.5L263.0,308.8L256.9,307.2Z"/>
<path d="M384.9,409.2L391.0,410.7L397.0,407.9L390.9,406.3Z"/>
<path d="M305.7,480.4L311.8,481.9L317.9,479.0L311.8,477.4Z"/>
<path d="M397.0,407.9L403.1,409.4L409.2,406.5L403.1,405.0Z"/>
<path d="M317.9,479.0L324.0,480.5L330.1,477.6L324.0,476.0Z"/>
<path d="M409.2,406.5L415.3,408.0L421.4,405.2L415.3,403.6Z"/>
<path d="M330.1,477.6L336.2,479.1L342.2,476.2L336.1,474.6Z"/>
<path d="M287.4,405.0L293.5,406.6L299.6,404.2L293.5,402.6Z"/>
<path d="M439.7,382.5L445.8,384.0L451.9,378.7L445.8,377.2Z"/>
<path d="M506.7,406.0L512.8,407.5L518.9,401.4L512.8,399.9Z"/>
<path d="M247.1,420.8L253.2,422.4L256.9,421.5L250.8,419.9Z"/>
<path d="M451.9,378.7L458.0,380.2L464.0,374.8L457.9,373.3Z"/>
<path d="M287.4,423.0L293.5,481.8L299.6,478.8L293.5,406.6Z"/>
<path d="M250.9,488.3L257.0,480.9L259.3,423.9L253.2,422.4Z"/>
<path d="M256.9,421.5L263.0,423.0L269.1,421.5L263.0,419.9Z"/>
<path d="M269.1,421.5L275.2,423.0L281.3,421.5L275.2,420.0Z"/>
<path d="M464.0,374.8L470.1,376.3L476.2,370.9L470.1,369.4Z"/>
<path d="M348.3,473.2L354.4,417.7L360.5,415.6L354.4,470.3Z"/>
<path d="M208.1,133.3L214.2,134.8L220.3,132.1L214.2,130.6Z"/>
<path d="M222.7,318.9L228.8,320.4L232.5,319.5L226.4,318.0Z"/>
<path d="M421.4,405.2L427.5,389.6L433.6,386.1L427.5,402.3Z"/>
<path d="M220.3,132.1L226.4,133.6L232.4,131.0L226.3,129.4Z"/>
<path d="M488.4,422.5L494.5,424.1L500.6,415.0L494.5,413.5Z"/>
<path d="M244.7,322.6L250.8,419.9L256.9,418.4L250.8,321.0Z"/>
<path d="M232.4,131.0L238.6,132.5L244.6,130.1L238.5,128.6Z"/>
<path d="M482.3,372.5L488.4,422.5L494.5,413.5L488.4,367.0Z"/>
<path d="M244.6,130.1L250.7,131.6L256.8,129.7L250.7,128.2Z"/>
<path d="M476.2,370.9L482.3,372.5L488.4,367.0L482.3,365.5Z"/>
<path d="M244.7,319.5L250.8,321.0L256.9,319.5L250.8,318.0Z"/>
<path d="M232.5,319.5L238.6,321.0L244.7,319.5L238.6,318.0Z"/>
<path d="M232.5,139.4L238.6,314.9L244.7,304.2L238.6,136.7Z"/>
<path d="M281.3,421.5L287.4,423.0L293.5,406.6L287.4,405.0Z"/>
<path d="M366.6,413.4L372.7,415.0L378.8,412.1L372.7,410.6Z"/>
<path d="M287.4,484.7L293.5,486.2L299.6,483.3L293.5,481.8Z"/>
<path d="M378.8,412.1L384.9,413.6L391.0,410.7L384.9,409.2Z"/>
<path d="M500.6,415.0L506.7,416.6L512.8,407.5L506.7,406.0Z"/>
<path d="M299.6,483.3L305.7,484.8L311.8,481.9L305.7,480.4Z"/>
<path d="M391.0,410.7L397.1,412.3L403.1,409.4L397.0,407.9Z"/>
<path d="M311.8,481.9L317.9,483.4L324.0,480.5L317.9,479.0Z"/>
<path d="M433.6,386.1L439.7,387.6L445.8,384.0L439.7,382.5Z"/>
<path d="M403.1,409.4L409.2,410.9L415.3,408.0L409.2,406.5Z"/>
<path d="M324.0,480.5L330.1,482.0L336.2,479.1L330.1,477.6Z"/>
<path d="M445.8,384.0L451.9,385.5L458.0,380.2L451.9,378.7Z"/>
<path d="M281.3,424.5L287.4,484.7L293.5,481.8L287.4,423.0Z"/>
<path d="M482.3,431.6L488.4,433.1L494.5,424.1L488.4,422.5Z"/>
<path d="M253.2,422.4L259.3,423.9L263.0,423.0L256.9,421.5Z"/>
<path d="M458.0,380.2L464.1,381.8L470.1,376.3L464.0,374.8Z"/>
<path d="M476.2,377.9L482.3,431.6L488.4,422.5L482.3,372.5Z"/>
<path d="M241.0,323.5L247.1,420.8L250.8,419.9L244.7,322.6Z"/>
<path d="M263.0,423.0L269.1,424.5L275.2,423.0L269.1,421.5Z"/>
<path d="M275.2,423.0L281.3,424.5L287.4,423.0L281.3,421.5Z"/>
<path d="M415.3,408.0L421.4,393.2L427.5,389.6L421.4,405.2Z"/>
<path d="M342.2,476.2L348.3,419.7L354.4,417.7L348.3,473.2Z"/>
<path d="M202.0,135.9L208.1,137.5L214.2,134.8L208.1,133.3Z"/>
<path d="M470.1,376.3L476.2,377.9L482.3,372.5L476.2,370.9Z"/>
<path d="M214.2,134.8L220.3,136.3L226.4,133.6L220.3,132.1Z"/>
<path d="M228.8,320.4L234.9,321.9L238.6,321.0L232.5,319.5Z"/>
<path d="M226.4,133.6L232.5,135.2L238.6,132.5L232.4,131.0Z"/>
<path d="M494.5,424.1L500.6,425.6L506.7,416.6L500.6,415.0Z"/>
<path d="M257.0,480.9L263.1,474.1L265.4,425.4L259.3,423.9Z"/>
<path d="M226.4,142.1L232.5,316.5L238.6,314.9L232.5,139.4Z"/>
<path d="M238.6,132.5L244.7,134.0L250.7,131.6L244.6,130.1Z"/>
<path d="M238.6,321.0L244.7,322.6L250.8,321.0L244.7,319.5Z"/>
<path d="M281.3,487.6L287.4,489.2L293.5,486.2L287.4,484.7Z"/>
<path d="M360.5,415.6L366.6,417.2L372.7,415.0L366.6,413.4Z"/>
<path d="M372.7,415.0L378.8,416.5L384.9,413.6L378.8,412.1Z"/>
<path d="M293.5,486.2L299.6,487.8L305.7,484.8L299.6,483.3Z"/>
<path d="M384.9,413.6L391.0,415.2L397.1,412.3L391.0,410.7Z"/>
<path d="M305.7,484.8L311.8,486.4L317.9,483.4L311.8,481.9Z"/>
<path d="M427.5,389.6L433.6,391.2L439.7,387.6L433.6,386.1Z"/>
<path d="M476.3,439.0L482.4,440.5L488.4,433.1L482.3,431.6Z"/>
<path d="M397.1,412.3L403.2,413.8L409.2,410.9L403.1,409.4Z"/>
<path d="M317.9,483.4L324.0,485.0L330.1,482.0L324.0,480.5Z"/>
<path d="M439.7,387.6L445.8,389.1L451.9,385.5L445.8,384.0Z"/>
<path d="M275.2,426.1L281.3,487.6L287.4,484.7L281.3,424.5Z"/>
<path d="M470.2,383.3L476.3,439.0L482.3,431.6L476.2,377.9Z"/>
<path d="M451.9,385.5L458.0,387.1L464.1,381.8L458.0,380.2Z"/>
<path d="M488.4,433.1L494.6,434.6L500.6,425.6L494.5,424.1Z"/>
<path d="M259.3,423.9L265.4,425.4L269.1,424.5L263.0,423.0Z"/>
<path d="M464.1,381.8L470.2,383.3L476.2,377.9L470.1,376.3Z"/>
<path d="M409.2,410.9L415.3,396.8L421.4,393.2L415.3,408.0Z"/>
<path d="M195.9,138.6L202.0,140.1L208.1,137.5L202.0,135.9Z"/>
<path d="M336.2,479.1L342.3,421.8L348.3,419.7L342.2,476.2Z"/>
<path d="M269.1,424.5L275.2,426.1L281.3,424.5L275.2,423.0Z"/>
<path d="M208.1,137.5L214.2,139.0L220.3,136.3L214.2,134.8Z"/>
<path d="M220.3,136.3L226.4,137.9L232.5,135.2L226.4,133.6Z"/>
<path d="M234.9,321.9L241.0,323.5L244.7,322.6L238.6,321.0Z"/>
<path d="M277.6,489.4L283.8,490.9L287.4,489.2L281.3,487.6Z"/>
<path d="M220.3,144.7L226.4,318.0L232.5,316.5L226.4,142.1Z"/>
<path d="M232.5,135.2L238.6,136.7L244.7,134.0L238.6,132.5Z"/>
<path d="M470.2,444.1L476.3,445.6L482.4,440.5L476.3,439.0Z"/>
<path d="M263.1,474.1L269.2,467.5L271.5,427.0L265.4,425.4Z"/>
<path d="M354.4,417.7L360.5,419.2L366.6,417.2L360.5,415.6Z"/>
<path d="M287.4,489.2L293.6,490.7L299.6,487.8L293.5,486.2Z"/>
<path d="M366.6,417.2L372.7,418.7L378.8,416.5L372.7,415.0Z"/>
<path d="M421.4,393.2L427.5,394.8L433.6,391.2L427.5,389.6Z"/>
<path d="M378.8,416.5L384.9,418.0L391.0,415.2L384.9,413.6Z"/>
<path d="M299.6,487.8L305.7,489.3L311.8,486.4L305.7,484.8Z"/>
<path d="M271.5,427.0L277.6,489.4L281.3,487.6L275.2,426.1Z"/>
<path d="M391.0,415.2L397.1,416.7L403.2,413.8L397.1,412.3Z"/>
<path d="M311.8,486.4L317.9,487.9L324.0,485.0L317.9,483.4Z"/>
<path d="M433.6,391.2L439.7,392.7L445.8,389.1L439.7,387.6Z"/>
<path d="M464.1,388.6L470.2,444.1L476.3,439.0L470.2,383.3Z"/>
<path d="M482.4,440.5L488.5,442.0L494.6,434.6L488.4,433.1Z"/>
<path d="M445.8,389.1L451.9,390.7L458.0,387.1L451.9,385.5Z"/>
<path d="M269.2,467.5L275.3,478.3L277.6,489.4L271.5,427.0Z"/>
<path d="M458.0,387.1L464.1,388.6L470.2,383.3L464.1,381.8Z"/>
<path d="M275.3,478.3L281.4,492.3L283.8,490.9L277.6,489.4Z"/>
<path d="M192.2,140.2L198.3,141.8L202.0,140.1L195.9,138.6Z"/>
<path d="M265.4,425.4L271.5,427.0L275.2,426.1L269.1,424.5Z"/>
<path d="M403.2,413.8L409.3,400.4L415.3,396.8L409.2,410.9Z"/>
<path d="M216.6,146.4L222.7,318.9L226.4,318.0L220.3,144.7Z"/>
<path d="M330.1,482.0L336.2,423.8L342.3,421.8L336.2,479.1Z"/>
<path d="M202.0,140.1L208.1,141.7L214.2,139.0L208.1,137.5Z"/>
<path d="M214.2,139.0L220.3,140.5L226.4,137.9L220.3,136.3Z"/>
<path d="M226.4,137.9L232.5,139.4L238.6,136.7L232.5,135.2Z"/>
<path d="M283.8,490.9L289.9,492.5L293.6,490.7L287.4,489.2Z"/>
<path d="M464.1,449.2L470.2,450.7L476.3,445.6L470.2,444.1Z"/>
<path d="M476.3,445.6L482.4,447.1L488.5,442.0L482.4,440.5Z"/>
<path d="M415.3,396.8L421.4,398.3L427.5,394.8L421.4,393.2Z"/>
<path d="M348.3,419.7L354.4,421.2L360.5,419.2L354.4,417.7Z"/>
<path d="M360.5,419.2L366.6,420.7L372.7,418.7L366.6,417.2Z"/>
<path d="M293.6,490.7L299.7,492.2L305.7,489.3L299.6,487.8Z"/>
<path d="M458.0,392.2L464.1,449.2L470.2,444.1L464.1,388.6Z"/>
<path d="M372.7,418.7L378.8,420.2L384.9,418.0L378.8,416.5Z"/>
<path d="M427.5,394.8L433.6,396.3L439.7,392.7L433.6,391.2Z"/>
<path d="M384.9,418.0L391.0,419.6L397.1,416.7L391.0,415.2Z"/>
<path d="M305.7,489.3L311.8,490.8L317.9,487.9L311.8,486.4Z"/>
<path d="M439.7,392.7L445.8,394.2L451.9,390.7L445.8,389.1Z"/>
<path d="M281.4,492.3L287.5,494.2L289.9,492.5L283.8,490.9Z"/>
<path d="M451.9,390.7L458.0,392.2L464.1,388.6L458.0,387.1Z"/>
<path d="M198.3,141.8L204.4,143.3L208.1,141.7L202.0,140.1Z"/>
<path d="M397.1,416.7L403.2,404.0L409.3,400.4L403.2,413.8Z"/>
<path d="M324.0,485.0L330.1,425.8L336.2,423.8L330.1,482.0Z"/>
<path d="M458.0,454.3L464.1,455.8L470.2,450.7L464.1,449.2Z"/>
<path d="M208.1,141.7L214.2,143.2L220.3,140.5L214.2,139.0Z"/>
<path d="M220.3,140.5L226.4,142.1L232.5,139.4L226.4,137.9Z"/>
<path d="M289.9,492.5L296.0,494.0L299.7,492.2L293.6,490.7Z"/>
<path d="M470.2,450.7L476.3,452.2L482.4,447.1L476.3,445.6Z"/>
<path d="M409.3,400.4L415.4,401.9L421.4,398.3L415.3,396.8Z"/>
<path d="M451.9,395.8L458.0,454.3L464.1,449.2L458.0,392.2Z"/>
<path d="M317.9,487.9L324.0,482.4L330.1,425.8L324.0,485.0Z"/>
<path d="M342.3,421.8L348.4,423.3L354.4,421.2L348.3,419.7Z"/>
<path d="M421.4,398.3L427.6,399.9L433.6,396.3L427.5,394.8Z"/>
<path d="M354.4,421.2L360.6,422.8L366.6,420.7L360.5,419.2Z"/>
<path d="M366.6,420.7L372.7,422.3L378.8,420.2L372.7,418.7Z"/>
<path d="M299.7,492.2L305.8,493.8L311.8,490.8L305.7,489.3Z"/>
<path d="M378.8,420.2L384.9,421.8L391.0,419.6L384.9,418.0Z"/>
<path d="M433.6,396.3L439.7,397.8L445.8,394.2L439.7,392.7Z"/>
<path d="M445.8,394.2L451.9,395.8L458.0,392.2L451.9,390.7Z"/>
<path d="M287.5,494.2L293.6,496.0L296.0,494.0L289.9,492.5Z"/>
<path d="M311.8,490.8L317.9,484.0L324.0,482.4L317.9,487.9Z"/>
<path d="M391.0,419.6L397.1,406.7L403.2,404.0L397.1,416.7Z"/>
<path d="M204.4,143.3L210.5,144.8L214.2,143.2L208.1,141.7Z"/>
<path d="M451.9,459.4L458.0,460.9L464.1,455.8L458.0,454.3Z"/>
<path d="M464.1,455.8L470.2,457.4L476.3,452.2L470.2,450.7Z"/>
<path d="M214.2,143.2L220.3,144.7L226.4,142.1L220.3,140.5Z"/>
<path d="M445.8,399.4L451.9,459.4L458.0,454.3L451.9,395.8Z"/>
<path d="M296.0,494.0L302.1,495.5L305.8,493.8L299.7,492.2Z"/>
<path d="M403.2,404.0L409.3,405.5L415.4,401.9L409.3,400.4Z"/>
<path d="M415.4,401.9L421.5,403.5L427.6,399.9L421.4,398.3Z"/>
<path d="M336.2,423.8L342.3,425.3L348.4,423.3L342.3,421.8Z"/>
<path d="M348.4,423.3L354.5,424.8L360.6,422.8L354.4,421.2Z"/>
<path d="M427.6,399.9L433.7,401.4L439.7,397.8L433.6,396.3Z"/>
<path d="M360.6,422.8L366.7,424.3L372.7,422.3L366.6,420.7Z"/>
<path d="M372.7,422.3L378.8,423.8L384.9,421.8L378.8,420.2Z"/>
<path d="M439.7,397.8L445.8,399.4L451.9,395.8L445.8,394.2Z"/>
<path d="M293.6,496.0L299.7,497.8L302.1,495.5L296.0,494.0Z"/>
<path d="M305.8,493.8L311.9,485.5L317.9,484.0L311.8,490.8Z"/>
<path d="M445.9,464.5L452.0,466.1L458.0,460.9L451.9,459.4Z"/>
<path d="M384.9,421.8L391.0,409.1L397.1,406.7L391.0,419.6Z"/>
<path d="M210.5,144.8L216.6,146.4L220.3,144.7L214.2,143.2Z"/>
<path d="M317.9,484.0L324.0,485.5L330.1,484.0L324.0,482.4Z"/>
<path d="M458.0,460.9L464.1,462.5L470.2,457.4L464.1,455.8Z"/>
<path d="M439.8,402.9L445.9,464.5L451.9,459.4L445.8,399.4Z"/>
<path d="M324.0,482.4L330.1,484.0L336.2,427.4L330.1,425.8Z"/>
<path d="M397.1,406.7L403.2,408.3L409.3,405.5L403.2,404.0Z"/>
<path d="M409.3,405.5L415.4,407.1L421.5,403.5L415.4,401.9Z"/>
<path d="M421.5,403.5L427.6,405.0L433.7,401.4L427.6,399.9Z"/>
<path d="M330.1,425.8L336.2,427.4L342.3,425.3L336.2,423.8Z"/>
<path d="M342.3,425.3L348.4,426.9L354.5,424.8L348.4,423.3Z"/>
<path d="M354.5,424.8L360.6,426.3L366.7,424.3L360.6,422.8Z"/>
<path d="M433.7,401.4L439.8,402.9L445.8,399.4L439.7,397.8Z"/>
<path d="M366.7,424.3L372.8,425.8L378.8,423.8L372.7,422.3Z"/>
<path d="M302.1,495.5L308.2,486.4L311.9,485.5L305.8,493.8Z"/>
<path d="M439.8,466.9L445.9,468.4L452.0,466.1L445.9,464.5Z"/>
<path d="M378.8,423.8L384.9,411.4L391.0,409.1L384.9,421.8Z"/>
<path d="M452.0,466.1L458.1,467.6L464.1,462.5L458.0,460.9Z"/>
<path d="M311.9,485.5L318.0,487.0L324.0,485.5L317.9,484.0Z"/>
<path d="M324.0,485.5L330.1,487.0L336.2,485.5L330.1,484.0Z"/>
<path d="M299.7,497.8L305.8,491.1L308.2,486.4L302.1,495.5Z"/>
<path d="M433.7,406.5L439.8,466.9L445.9,464.5L439.8,402.9Z"/>
<path d="M330.1,484.0L336.2,485.5L342.3,428.9L336.2,427.4Z"/>
<path d="M391.0,409.1L397.1,410.6L403.2,408.3L397.1,406.7Z"/>
<path d="M403.2,408.3L409.3,409.8L415.4,407.1L409.3,405.5Z"/>
<path d="M415.4,407.1L421.5,408.6L427.6,405.0L421.5,403.5Z"/>
<path d="M427.6,405.0L433.7,406.5L439.8,402.9L433.7,401.4Z"/>
<path d="M336.2,427.4L342.3,428.9L348.4,426.9L342.3,425.3Z"/>
<path d="M348.4,426.9L354.5,428.4L360.6,426.3L354.5,424.8Z"/>
<path d="M360.6,426.3L366.7,427.9L372.8,425.8L366.7,424.3Z"/>
<path d="M433.7,468.2L439.8,469.7L445.9,468.4L439.8,466.9Z"/>
<path d="M445.9,468.4L452.0,469.9L458.1,467.6L452.0,466.1Z"/>
<path d="M308.2,486.4L314.3,487.9L318.0,487.0L311.9,485.5Z"/>
<path d="M372.8,425.8L378.9,413.7L384.9,411.4L378.8,423.8Z"/>
<path d="M318.0,487.0L324.1,488.5L330.1,487.0L324.0,485.5Z"/>
<path d="M330.1,487.0L336.2,488.6L342.3,487.0L336.2,485.5Z"/>
<path d="M427.6,410.1L433.7,468.2L439.8,466.9L433.7,406.5Z"/>
<path d="M384.9,411.4L391.0,412.9L397.1,410.6L391.0,409.1Z"/>
<path d="M336.2,485.5L342.3,487.0L348.4,430.4L342.3,428.9Z"/>
<path d="M397.1,410.6L403.2,412.1L409.3,409.8L403.2,408.3Z"/>
<path d="M305.8,491.1L311.9,488.5L314.3,487.9L308.2,486.4Z"/>
<path d="M409.3,409.8L415.4,411.3L421.5,408.6L415.4,407.1Z"/>
<path d="M421.5,408.6L427.6,410.1L433.7,406.5L427.6,405.0Z"/>
<path d="M342.3,428.9L348.4,430.4L354.5,428.4L348.4,426.9Z"/>
<path d="M354.5,428.4L360.6,429.9L366.7,427.9L360.6,426.3Z"/>
<path d="M439.8,469.7L445.9,471.3L452.0,469.9L445.9,468.4Z"/>
<path d="M427.6,469.6L433.7,471.1L439.8,469.7L433.7,468.2Z"/>
<path d="M314.3,487.9L320.4,489.4L324.1,488.5L318.0,487.0Z"/>
<path d="M366.7,427.9L372.8,416.1L378.9,413.7L372.8,425.8Z"/>
<path d="M336.2,488.6L342.3,490.1L348.4,488.6L342.3,487.0Z"/>
<path d="M324.1,488.5L330.2,490.1L336.2,488.6L330.1,487.0Z"/>
<path d="M421.5,412.8L427.6,469.6L433.7,468.2L427.6,410.1Z"/>
<path d="M378.9,413.7L385.0,415.3L391.0,412.9L384.9,411.4Z"/>
<path d="M391.0,412.9L397.1,414.5L403.2,412.1L397.1,410.6Z"/>
<path d="M342.3,487.0L348.4,488.6L354.5,432.0L348.4,430.4Z"/>
<path d="M403.2,412.1L409.3,413.7L415.4,411.3L409.3,409.8Z"/>
<path d="M415.4,411.3L421.5,412.8L427.6,410.1L421.5,408.6Z"/>
<path d="M311.9,488.5L318.0,490.0L320.4,489.4L314.3,487.9Z"/>
<path d="M348.4,430.4L354.5,432.0L360.6,429.9L354.5,428.4Z"/>
<path d="M433.7,471.1L439.8,472.6L445.9,471.3L439.8,469.7Z"/>
<path d="M421.5,470.9L427.6,472.5L433.7,471.1L427.6,469.6Z"/>
<path d="M360.6,429.9L366.7,418.4L372.8,416.1L366.7,427.9Z"/>
<path d="M320.4,489.4L326.5,491.0L330.2,490.1L324.1,488.5Z"/>
<path d="M330.2,490.1L336.3,491.6L342.3,490.1L336.2,488.6Z"/>
<path d="M415.4,415.2L421.5,470.9L427.6,469.6L421.5,412.8Z"/>
<path d="M372.8,416.1L378.9,417.6L385.0,415.3L378.9,413.7Z"/>
<path d="M385.0,415.3L391.1,416.8L397.1,414.5L391.0,412.9Z"/>
<path d="M397.1,414.5L403.2,416.0L409.3,413.7L403.2,412.1Z"/>
<path d="M409.3,413.7L415.4,415.2L421.5,412.8L415.4,411.3Z"/>
<path d="M318.0,490.0L324.1,491.6L326.5,491.0L320.4,489.4Z"/>
<path d="M354.5,432.0L360.6,420.0L366.7,418.4L360.6,429.9Z"/>
<path d="M427.6,472.5L433.7,474.0L439.8,472.6L433.7,471.1Z"/>
<path d="M415.4,472.3L421.6,473.8L427.6,472.5L421.5,470.9Z"/>
<path d="M326.5,491.0L332.6,492.5L336.3,491.6L330.2,490.1Z"/>
<path d="M409.3,417.5L415.4,472.3L421.5,470.9L415.4,415.2Z"/>
<path d="M366.7,418.4L372.8,419.9L378.9,417.6L372.8,416.1Z"/>
<path d="M378.9,417.6L385.0,419.1L391.1,416.8L385.0,415.3Z"/>
<path d="M348.4,488.6L354.5,421.6L360.6,420.0L354.5,432.0Z"/>
<path d="M391.1,416.8L397.2,418.3L403.2,416.0L397.1,414.5Z"/>
<path d="M403.2,416.0L409.3,417.5L415.4,415.2L409.3,413.7Z"/>
<path d="M324.1,491.6L330.2,493.1L332.6,492.5L326.5,491.0Z"/>
<path d="M342.3,490.1L348.4,423.3L354.5,421.6L348.4,488.6Z"/>
<path d="M421.6,473.8L427.7,475.3L433.7,474.0L427.6,472.5Z"/>
<path d="M409.4,473.6L415.5,475.2L421.6,473.8L415.4,472.3Z"/>
<path d="M403.3,419.9L409.4,473.6L415.4,472.3L409.3,417.5Z"/>
<path d="M360.6,420.0L366.7,421.5L372.8,419.9L366.7,418.4Z"/>
<path d="M372.8,419.9L378.9,421.4L385.0,419.1L378.9,417.6Z"/>
<path d="M385.0,419.1L391.1,420.7L397.2,418.3L391.1,416.8Z"/>
<path d="M397.2,418.3L403.3,419.9L409.3,417.5L403.2,416.0Z"/>
<path d="M336.3,491.6L342.4,424.9L348.4,423.3L342.3,490.1Z"/>
<path d="M415.5,475.2L421.6,476.7L427.7,475.3L421.6,473.8Z"/>
<path d="M403.3,475.0L409.4,476.5L415.5,475.2L409.4,473.6Z"/>
<path d="M397.2,422.2L403.3,475.0L409.4,473.6L403.3,419.9Z"/>
<path d="M354.5,421.6L360.6,423.2L366.7,421.5L360.6,420.0Z"/>
<path d="M366.7,421.5L372.8,423.1L378.9,421.4L372.8,419.9Z"/>
<path d="M330.2,493.1L336.3,493.0L338.7,425.9L332.6,492.5Z"/>
<path d="M378.9,421.4L385.0,422.9L391.1,420.7L385.0,419.1Z"/>
<path d="M391.1,420.7L397.2,422.2L403.3,419.9L397.2,418.3Z"/>
<path d="M332.6,492.5L338.7,425.9L342.4,424.9L336.3,491.6Z"/>
<path d="M409.4,476.5L415.5,478.1L421.6,476.7L415.5,475.2Z"/>
<path d="M397.2,476.3L403.3,477.9L409.4,476.5L403.3,475.0Z"/>
<path d="M391.1,424.5L397.2,476.3L403.3,475.0L397.2,422.2Z"/>
<path d="M348.4,423.3L354.6,424.8L360.6,423.2L354.5,421.6Z"/>
<path d="M360.6,423.2L366.7,424.7L372.8,423.1L366.7,421.5Z"/>
<path d="M372.8,423.1L378.9,424.6L385.0,422.9L378.9,421.4Z"/>
<path d="M385.0,422.9L391.1,424.5L397.2,422.2L391.1,420.7Z"/>
<path d="M403.3,477.9L409.4,479.4L415.5,478.1L409.4,476.5Z"/>
<path d="M391.1,477.7L397.2,479.2L403.3,477.9L397.2,476.3Z"/>
<path d="M336.3,493.0L342.4,494.2L344.8,427.4L338.7,425.9Z"/>
<path d="M385.0,426.1L391.1,477.7L397.2,476.3L391.1,424.5Z"/>
<path d="M342.4,424.9L348.5,426.4L354.6,424.8L348.4,423.3Z"/>
<path d="M354.6,424.8L360.7,426.3L366.7,424.7L360.6,423.2Z"/>
<path d="M366.7,424.7L372.8,426.2L378.9,424.6L372.8,423.1Z"/>
<path d="M378.9,424.6L385.0,426.1L391.1,424.5L385.0,422.9Z"/>
<path d="M397.2,479.2L403.3,480.8L409.4,479.4L403.3,477.9Z"/>
<path d="M385.0,479.1L391.1,480.6L397.2,479.2L391.1,477.7Z"/>
<path d="M338.7,425.9L344.8,427.4L348.5,426.4L342.4,424.9Z"/>
<path d="M342.4,494.2L348.5,495.7L350.9,429.0L344.8,427.4Z"/>
<path d="M378.9,427.8L385.0,479.1L391.1,477.7L385.0,426.1Z"/>
<path d="M348.5,426.4L354.6,428.0L360.7,426.3L354.6,424.8Z"/>
<path d="M360.7,426.3L366.8,427.9L372.8,426.2L366.7,424.7Z"/>
<path d="M372.8,426.2L378.9,427.8L385.0,426.1L378.9,424.6Z"/>
<path d="M391.1,480.6L397.2,482.1L403.3,480.8L397.2,479.2Z"/>
<path d="M379.0,480.4L385.1,481.9L391.1,480.6L385.0,479.1Z"/>
<path d="M344.8,427.4L350.9,429.0L354.6,428.0L348.5,426.4Z"/>
<path d="M348.5,495.7L354.6,497.2L357.0,430.5L350.9,429.0Z"/>
<path d="M372.9,429.4L379.0,480.4L385.0,479.1L378.9,427.8Z"/>
<path d="M354.6,428.0L360.7,429.5L366.8,427.9L360.7,426.3Z"/>
<path d="M366.8,427.9L372.9,429.4L378.9,427.8L372.8,426.2Z"/>
<path d="M385.1,481.9L391.2,483.5L397.2,482.1L391.1,480.6Z"/>
<path d="M372.9,481.8L379.0,483.3L385.1,481.9L379.0,480.4Z"/>
<path d="M350.9,429.0L357.0,430.5L360.7,429.5L354.6,428.0Z"/>
<path d="M354.6,497.2L360.7,498.8L363.1,432.0L357.0,430.5Z"/>
<path d="M366.8,431.0L372.9,481.8L379.0,480.4L372.9,429.4Z"/>
<path d="M360.7,429.5L366.8,431.0L372.9,429.4L366.8,427.9Z"/>
<path d="M360.7,498.8L366.8,487.8L369.2,482.6L363.1,432.0Z"/>
<path d="M369.2,482.6L375.3,484.1L379.0,483.3L372.9,481.8Z"/>
<path d="M363.1,432.0L369.2,482.6L372.9,481.8L366.8,431.0Z"/>
<path d="M379.0,483.3L385.1,484.8L391.2,483.5L385.1,481.9Z"/>
<path d="M357.0,430.5L363.1,432.0L366.8,431.0L360.7,429.5Z"/>
<path d="M366.8,487.8L372.9,488.6L375.3,484.1L369.2,482.6Z"/>
<path d="M375.3,484.1L381.4,485.6L385.1,484.8L379.0,483.3Z"/>
<path d="M372.9,488.6L379.0,490.1L381.4,485.6L375.3,484.1Z"/>
</g>
<g id="dots"><circle cx="80" cy="396" r="5.3" fill="#0000ff"/>
<circle cx="109" cy="501" r="5.3" fill="#0000ff"/>
<circle cx="168.7" cy="518.2" r="5.3" fill="#0000ff"/>
<circle cx="259.5" cy="424.8" r="5.3" fill="#0000ff"/>
<circle cx="288.3" cy="495.7" r="5.3" fill="#0000ff"/>
<circle cx="317.8" cy="489.8" r="5.3" fill="#0000ff"/>
<circle cx="414" cy="408.5" r="5.3" fill="#0000ff"/>
<circle cx="444.4" cy="474.7" r="5.3" fill="#0000ff"/>
<circle cx="557.5" cy="212" r="5.3" fill="#0000ff"/>
<circle cx="647.8" cy="226.5" r="5.3" fill="#0000ff"/>
<circle cx="676.6" cy="263.2" r="5.3" fill="#0000ff"/></g>
<g id="legend"><rect x="409.5" y="35.5" width="236.5" height="90" fill="#fff" stroke="#262626" stroke-width="1" stroke-opacity="0.85"/>
<circle cx="441.2" cy="47.5" r="5.2" fill="#0000ff"/>
<rect x="415.5" y="63" width="52" height="14.5" fill="#ff8080" stroke="#333" stroke-width="1"/>
<polygon points="447.9,94.8 444.0,98.7 438.4,98.7 434.5,94.8 434.5,89.2 438.4,85.3 444.0,85.3 447.9,89.2" fill="#000"/>
<line x1="435.2" y1="114.0" x2="447.2" y2="114.0" stroke="#ff0000" stroke-width="1.1"/>
<line x1="437.0" y1="109.8" x2="445.4" y2="118.2" stroke="#ff0000" stroke-width="1.1"/>
<line x1="441.2" y1="108.0" x2="441.2" y2="120.0" stroke="#ff0000" stroke-width="1.1"/>
<line x1="445.4" y1="109.8" x2="437.0" y2="118.2" stroke="#ff0000" stroke-width="1.1"/>
<text x="471" y="54.5" font-size="15.7" fill="#111">Observed points</text>
<text x="471" y="76" font-size="15.7" fill="#111">Model mean</text>
<text x="471" y="97.5" font-size="15.7" fill="#111">Next point</text>
<text x="471" y="119" font-size="15.7" fill="#111">Model minimum feasible</text></g>
</svg>
</body></html>
